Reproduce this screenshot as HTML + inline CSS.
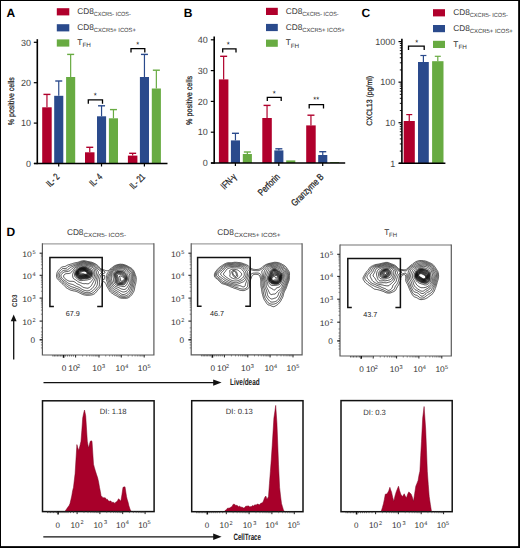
<!DOCTYPE html><html><head><meta charset="utf-8"><style>html,body{margin:0;padding:0;background:#fff}svg{display:block}text{font-family:"Liberation Sans",sans-serif;text-rendering:geometricPrecision}</style></head><body>
<svg width="520" height="548" viewBox="0 0 520 548">
<rect width="520" height="548" fill="#fff"/>
<rect x="0.5" y="0.5" width="518.5" height="546.5" fill="none" stroke="#000" stroke-width="1"/>
<line x1="519.15" y1="0" x2="519.15" y2="548" stroke="#000" stroke-width="1.7"/>
<line x1="0" y1="547.15" x2="520" y2="547.15" stroke="#000" stroke-width="1.7"/>
<text x="6.60" y="17.00" font-size="12" text-anchor="start" fill="#000" font-weight="bold" >A</text>
<text x="183.80" y="17.00" font-size="12" text-anchor="start" fill="#000" font-weight="bold" >B</text>
<text x="361.50" y="17.00" font-size="12" text-anchor="start" fill="#000" font-weight="bold" >C</text>
<text x="6.60" y="236.00" font-size="12" text-anchor="start" fill="#000" font-weight="bold" >D</text>
<rect x="56.80" y="8.20" width="12.50" height="7.20" fill="#b0002c"/>
<text x="77.30" y="13.50" font-size="8.3" fill="#333">CD8</text>
<text x="93.80" y="15.90" font-size="6.0" fill="#333" textLength="37" lengthAdjust="spacingAndGlyphs">CXCR5- ICOS-</text>
<rect x="56.80" y="24.20" width="12.50" height="7.20" fill="#2a4a8c"/>
<text x="77.30" y="29.50" font-size="8.3" fill="#333">CD8</text>
<text x="93.80" y="31.90" font-size="6.0" fill="#333" textLength="42" lengthAdjust="spacingAndGlyphs">CXCR5+ ICOS+</text>
<rect x="56.80" y="39.40" width="12.50" height="7.20" fill="#68ab42"/>
<text x="77.30" y="44.70" font-size="8.3" fill="#333">T<tspan font-size="6.3" dy="2.5">FH</tspan></text>
<rect x="42.20" y="107.30" width="9.50" height="56.20" fill="#b0002c"/>
<line x1="46.95" y1="94.40" x2="46.95" y2="107.30" stroke="#b0002c" stroke-width="1.2"/>
<line x1="43.45" y1="94.40" x2="50.45" y2="94.40" stroke="#b0002c" stroke-width="1.4"/>
<rect x="54.20" y="95.80" width="9.10" height="67.70" fill="#2a4a8c"/>
<line x1="58.75" y1="81.00" x2="58.75" y2="95.80" stroke="#2a4a8c" stroke-width="1.2"/>
<line x1="55.25" y1="81.00" x2="62.25" y2="81.00" stroke="#2a4a8c" stroke-width="1.4"/>
<rect x="66.10" y="77.00" width="9.10" height="86.50" fill="#68ab42"/>
<line x1="70.65" y1="54.40" x2="70.65" y2="77.00" stroke="#68ab42" stroke-width="1.2"/>
<line x1="67.15" y1="54.40" x2="74.15" y2="54.40" stroke="#68ab42" stroke-width="1.4"/>
<rect x="85.00" y="152.30" width="9.50" height="11.20" fill="#b0002c"/>
<line x1="89.75" y1="147.30" x2="89.75" y2="152.30" stroke="#b0002c" stroke-width="1.2"/>
<line x1="86.25" y1="147.30" x2="93.25" y2="147.30" stroke="#b0002c" stroke-width="1.4"/>
<rect x="97.00" y="116.30" width="9.10" height="47.20" fill="#2a4a8c"/>
<line x1="101.55" y1="105.80" x2="101.55" y2="116.30" stroke="#2a4a8c" stroke-width="1.2"/>
<line x1="98.05" y1="105.80" x2="105.05" y2="105.80" stroke="#2a4a8c" stroke-width="1.4"/>
<rect x="108.90" y="118.30" width="9.10" height="45.20" fill="#68ab42"/>
<line x1="113.45" y1="109.60" x2="113.45" y2="118.30" stroke="#68ab42" stroke-width="1.2"/>
<line x1="109.95" y1="109.60" x2="116.95" y2="109.60" stroke="#68ab42" stroke-width="1.4"/>
<rect x="127.90" y="155.60" width="9.50" height="7.90" fill="#b0002c"/>
<line x1="132.65" y1="153.30" x2="132.65" y2="155.60" stroke="#b0002c" stroke-width="1.2"/>
<line x1="129.15" y1="153.30" x2="136.15" y2="153.30" stroke="#b0002c" stroke-width="1.4"/>
<rect x="139.90" y="77.00" width="9.10" height="86.50" fill="#2a4a8c"/>
<line x1="144.45" y1="54.40" x2="144.45" y2="77.00" stroke="#2a4a8c" stroke-width="1.2"/>
<line x1="140.95" y1="54.40" x2="147.95" y2="54.40" stroke="#2a4a8c" stroke-width="1.4"/>
<rect x="151.80" y="88.50" width="9.10" height="75.00" fill="#68ab42"/>
<line x1="156.35" y1="70.20" x2="156.35" y2="88.50" stroke="#68ab42" stroke-width="1.2"/>
<line x1="152.85" y1="70.20" x2="159.85" y2="70.20" stroke="#68ab42" stroke-width="1.4"/>
<line x1="37.30" y1="39.20" x2="37.30" y2="164.20" stroke="#000" stroke-width="1.6"/>
<line x1="34.00" y1="163.50" x2="167.50" y2="163.50" stroke="#000" stroke-width="1.6"/>
<line x1="33.80" y1="42.30" x2="37.30" y2="42.30" stroke="#000" stroke-width="1.2"/>
<text x="31.10" y="45.50" font-size="9" text-anchor="end" fill="#444" font-weight="normal" >30</text>
<line x1="33.80" y1="82.70" x2="37.30" y2="82.70" stroke="#000" stroke-width="1.2"/>
<text x="31.10" y="85.90" font-size="9" text-anchor="end" fill="#444" font-weight="normal" >20</text>
<line x1="33.80" y1="123.10" x2="37.30" y2="123.10" stroke="#000" stroke-width="1.2"/>
<text x="31.10" y="126.30" font-size="9" text-anchor="end" fill="#444" font-weight="normal" >10</text>
<line x1="33.80" y1="163.50" x2="37.30" y2="163.50" stroke="#000" stroke-width="1.2"/>
<text x="31.10" y="166.70" font-size="9" text-anchor="end" fill="#444" font-weight="normal" >0</text>
<line x1="58.70" y1="163.50" x2="58.70" y2="166.50" stroke="#000" stroke-width="1.2"/>
<line x1="101.50" y1="163.50" x2="101.50" y2="166.50" stroke="#000" stroke-width="1.2"/>
<line x1="144.40" y1="163.50" x2="144.40" y2="166.50" stroke="#000" stroke-width="1.2"/>
<text transform="translate(60.10,177.50) rotate(-45)" text-anchor="end" font-size="9.6" fill="#222" stroke="#222" stroke-width="0.25" textLength="14.2" lengthAdjust="spacingAndGlyphs">IL- 2</text>
<text transform="translate(102.90,177.50) rotate(-45)" text-anchor="end" font-size="9.6" fill="#222" stroke="#222" stroke-width="0.25" textLength="13.6" lengthAdjust="spacingAndGlyphs">IL- 4</text>
<text transform="translate(145.80,177.50) rotate(-45)" text-anchor="end" font-size="9.6" fill="#222" stroke="#222" stroke-width="0.25" textLength="17.4" lengthAdjust="spacingAndGlyphs">IL- 21</text>
<text transform="translate(13.60,101.20) rotate(-90)" text-anchor="middle" font-size="8.3" fill="#222" stroke="#222" stroke-width="0.25" textLength="48" lengthAdjust="spacingAndGlyphs">% positive cells</text>
<path d="M88.30,103.80 L88.30,99.90 L102.50,99.90 L102.50,103.80" fill="none" stroke="#000" stroke-width="1.3"/>
<text x="95.30" y="98.30" font-size="7.6" text-anchor="middle" fill="#000" font-weight="normal" >*</text>
<path d="M131.00,52.40 L131.00,48.60 L144.80,48.60 L144.80,52.40" fill="none" stroke="#000" stroke-width="1.3"/>
<text x="137.80" y="47.00" font-size="7.6" text-anchor="middle" fill="#000" font-weight="normal" >*</text>
<rect x="266.00" y="7.80" width="11.80" height="7.20" fill="#b0002c"/>
<text x="285.70" y="13.50" font-size="8.3" fill="#333">CD8</text>
<text x="302.20" y="15.90" font-size="6.0" fill="#333" textLength="36.3" lengthAdjust="spacingAndGlyphs">CXCR5- ICOS-</text>
<rect x="266.00" y="23.90" width="11.80" height="7.20" fill="#2a4a8c"/>
<text x="285.70" y="29.60" font-size="8.3" fill="#333">CD8</text>
<text x="302.20" y="32.00" font-size="6.0" fill="#333" textLength="42.6" lengthAdjust="spacingAndGlyphs">CXCR5+ ICOS+</text>
<rect x="266.00" y="39.60" width="11.80" height="7.20" fill="#68ab42"/>
<text x="285.70" y="45.30" font-size="8.3" fill="#333">T<tspan font-size="6.3" dy="2.5">FH</tspan></text>
<rect x="218.90" y="79.40" width="9.50" height="83.60" fill="#b0002c"/>
<line x1="223.65" y1="56.30" x2="223.65" y2="79.40" stroke="#b0002c" stroke-width="1.2"/>
<line x1="220.15" y1="56.30" x2="227.15" y2="56.30" stroke="#b0002c" stroke-width="1.4"/>
<rect x="230.90" y="140.40" width="9.10" height="22.60" fill="#2a4a8c"/>
<line x1="235.45" y1="133.30" x2="235.45" y2="140.40" stroke="#2a4a8c" stroke-width="1.2"/>
<line x1="231.95" y1="133.30" x2="238.95" y2="133.30" stroke="#2a4a8c" stroke-width="1.4"/>
<rect x="242.80" y="154.00" width="9.10" height="9.00" fill="#68ab42"/>
<line x1="247.35" y1="152.00" x2="247.35" y2="154.00" stroke="#68ab42" stroke-width="1.2"/>
<line x1="243.85" y1="152.00" x2="250.85" y2="152.00" stroke="#68ab42" stroke-width="1.4"/>
<rect x="262.30" y="118.00" width="9.50" height="45.00" fill="#b0002c"/>
<line x1="267.05" y1="105.40" x2="267.05" y2="118.00" stroke="#b0002c" stroke-width="1.2"/>
<line x1="263.55" y1="105.40" x2="270.55" y2="105.40" stroke="#b0002c" stroke-width="1.4"/>
<rect x="274.30" y="150.40" width="9.10" height="12.60" fill="#2a4a8c"/>
<line x1="278.85" y1="148.80" x2="278.85" y2="150.40" stroke="#2a4a8c" stroke-width="1.2"/>
<line x1="275.35" y1="148.80" x2="282.35" y2="148.80" stroke="#2a4a8c" stroke-width="1.4"/>
<rect x="286.20" y="160.40" width="9.10" height="2.60" fill="#68ab42"/>
<rect x="306.20" y="125.40" width="9.50" height="37.60" fill="#b0002c"/>
<line x1="310.95" y1="115.20" x2="310.95" y2="125.40" stroke="#b0002c" stroke-width="1.2"/>
<line x1="307.45" y1="115.20" x2="314.45" y2="115.20" stroke="#b0002c" stroke-width="1.4"/>
<rect x="318.20" y="155.00" width="9.10" height="8.00" fill="#2a4a8c"/>
<line x1="322.75" y1="151.70" x2="322.75" y2="155.00" stroke="#2a4a8c" stroke-width="1.2"/>
<line x1="319.25" y1="151.70" x2="326.25" y2="151.70" stroke="#2a4a8c" stroke-width="1.4"/>
<rect x="330.10" y="162.00" width="9.10" height="1.00" fill="#68ab42"/>
<line x1="214.20" y1="36.50" x2="214.20" y2="163.70" stroke="#000" stroke-width="1.6"/>
<line x1="211.00" y1="163.00" x2="345.20" y2="163.00" stroke="#000" stroke-width="1.6"/>
<line x1="210.80" y1="39.80" x2="214.20" y2="39.80" stroke="#000" stroke-width="1.2"/>
<text x="207.70" y="43.00" font-size="9" text-anchor="end" fill="#444" font-weight="normal" >40</text>
<line x1="210.80" y1="70.60" x2="214.20" y2="70.60" stroke="#000" stroke-width="1.2"/>
<text x="207.70" y="73.80" font-size="9" text-anchor="end" fill="#444" font-weight="normal" >30</text>
<line x1="210.80" y1="101.40" x2="214.20" y2="101.40" stroke="#000" stroke-width="1.2"/>
<text x="207.70" y="104.60" font-size="9" text-anchor="end" fill="#444" font-weight="normal" >20</text>
<line x1="210.80" y1="132.20" x2="214.20" y2="132.20" stroke="#000" stroke-width="1.2"/>
<text x="207.70" y="135.40" font-size="9" text-anchor="end" fill="#444" font-weight="normal" >10</text>
<line x1="210.80" y1="163.00" x2="214.20" y2="163.00" stroke="#000" stroke-width="1.2"/>
<text x="207.70" y="166.20" font-size="9" text-anchor="end" fill="#444" font-weight="normal" >0</text>
<line x1="235.40" y1="163.00" x2="235.40" y2="166.00" stroke="#000" stroke-width="1.2"/>
<line x1="278.80" y1="163.00" x2="278.80" y2="166.00" stroke="#000" stroke-width="1.2"/>
<line x1="322.70" y1="163.00" x2="322.70" y2="166.00" stroke="#000" stroke-width="1.2"/>
<text transform="translate(237.10,177.50) rotate(-45)" text-anchor="end" font-size="9.6" fill="#222" stroke="#222" stroke-width="0.25" textLength="17.7" lengthAdjust="spacingAndGlyphs">IFN-γ</text>
<text transform="translate(280.50,177.50) rotate(-45)" text-anchor="end" font-size="9.6" fill="#222" stroke="#222" stroke-width="0.25" textLength="26.5" lengthAdjust="spacingAndGlyphs">Perforin</text>
<text transform="translate(324.40,177.50) rotate(-45)" text-anchor="end" font-size="9.6" fill="#222" stroke="#222" stroke-width="0.25" textLength="41.5" lengthAdjust="spacingAndGlyphs">Granzyme B</text>
<text transform="translate(192.20,100.40) rotate(-90)" text-anchor="middle" font-size="8.3" fill="#222" stroke="#222" stroke-width="0.25" textLength="49" lengthAdjust="spacingAndGlyphs">% positive cells</text>
<path d="M222.70,52.60 L222.70,48.80 L236.00,48.80 L236.00,52.60" fill="none" stroke="#000" stroke-width="1.3"/>
<text x="228.30" y="47.30" font-size="7.6" text-anchor="middle" fill="#000" font-weight="normal" >*</text>
<path d="M267.30,100.90 L267.30,97.30 L281.20,97.30 L281.20,100.90" fill="none" stroke="#000" stroke-width="1.3"/>
<text x="274.30" y="95.80" font-size="7.6" text-anchor="middle" fill="#000" font-weight="normal" >*</text>
<path d="M309.20,108.60 L309.20,104.70 L323.50,104.70 L323.50,108.60" fill="none" stroke="#000" stroke-width="1.3"/>
<text x="316.30" y="102.30" font-size="7.6" text-anchor="middle" fill="#000" font-weight="normal" >**</text>
<rect x="433.00" y="9.20" width="12.00" height="7.20" fill="#b0002c"/>
<text x="453.30" y="15.00" font-size="8.3" fill="#333">CD8</text>
<text x="469.80" y="17.40" font-size="6.0" fill="#333" textLength="38" lengthAdjust="spacingAndGlyphs">CXCR5- ICOS-</text>
<rect x="433.00" y="25.00" width="12.00" height="7.20" fill="#2a4a8c"/>
<text x="453.30" y="30.80" font-size="8.3" fill="#333">CD8</text>
<text x="469.80" y="33.20" font-size="6.0" fill="#333" textLength="43" lengthAdjust="spacingAndGlyphs">CXCR5+ ICOS+</text>
<rect x="433.00" y="40.80" width="12.00" height="7.20" fill="#68ab42"/>
<text x="453.30" y="46.60" font-size="8.3" fill="#333">T<tspan font-size="6.3" dy="2.5">FH</tspan></text>
<rect x="403.70" y="121.00" width="11.10" height="42.30" fill="#b0002c"/>
<line x1="409.25" y1="114.60" x2="409.25" y2="121.00" stroke="#b0002c" stroke-width="1.2"/>
<line x1="406.25" y1="114.60" x2="412.25" y2="114.60" stroke="#b0002c" stroke-width="1.2"/>
<rect x="418.00" y="62.00" width="10.80" height="101.30" fill="#2a4a8c"/>
<line x1="423.40" y1="55.50" x2="423.40" y2="62.00" stroke="#2a4a8c" stroke-width="1.2"/>
<line x1="420.40" y1="55.50" x2="426.40" y2="55.50" stroke="#2a4a8c" stroke-width="1.2"/>
<rect x="432.10" y="61.20" width="11.40" height="102.10" fill="#68ab42"/>
<line x1="437.80" y1="56.30" x2="437.80" y2="61.20" stroke="#68ab42" stroke-width="1.2"/>
<line x1="434.80" y1="56.30" x2="440.80" y2="56.30" stroke="#68ab42" stroke-width="1.2"/>
<line x1="401.90" y1="38.70" x2="401.90" y2="164.00" stroke="#000" stroke-width="1.6"/>
<line x1="398.80" y1="163.30" x2="445.40" y2="163.30" stroke="#000" stroke-width="1.6"/>
<line x1="399.80" y1="151.09" x2="401.90" y2="151.09" stroke="#000" stroke-width="0.9"/>
<line x1="399.80" y1="143.94" x2="401.90" y2="143.94" stroke="#000" stroke-width="0.9"/>
<line x1="399.80" y1="138.87" x2="401.90" y2="138.87" stroke="#000" stroke-width="0.9"/>
<line x1="399.80" y1="134.94" x2="401.90" y2="134.94" stroke="#000" stroke-width="0.9"/>
<line x1="399.80" y1="131.73" x2="401.90" y2="131.73" stroke="#000" stroke-width="0.9"/>
<line x1="399.80" y1="129.01" x2="401.90" y2="129.01" stroke="#000" stroke-width="0.9"/>
<line x1="399.80" y1="126.66" x2="401.90" y2="126.66" stroke="#000" stroke-width="0.9"/>
<line x1="399.80" y1="124.59" x2="401.90" y2="124.59" stroke="#000" stroke-width="0.9"/>
<line x1="399.80" y1="110.52" x2="401.90" y2="110.52" stroke="#000" stroke-width="0.9"/>
<line x1="399.80" y1="103.37" x2="401.90" y2="103.37" stroke="#000" stroke-width="0.9"/>
<line x1="399.80" y1="98.30" x2="401.90" y2="98.30" stroke="#000" stroke-width="0.9"/>
<line x1="399.80" y1="94.37" x2="401.90" y2="94.37" stroke="#000" stroke-width="0.9"/>
<line x1="399.80" y1="91.16" x2="401.90" y2="91.16" stroke="#000" stroke-width="0.9"/>
<line x1="399.80" y1="88.44" x2="401.90" y2="88.44" stroke="#000" stroke-width="0.9"/>
<line x1="399.80" y1="86.09" x2="401.90" y2="86.09" stroke="#000" stroke-width="0.9"/>
<line x1="399.80" y1="84.02" x2="401.90" y2="84.02" stroke="#000" stroke-width="0.9"/>
<line x1="399.80" y1="69.95" x2="401.90" y2="69.95" stroke="#000" stroke-width="0.9"/>
<line x1="399.80" y1="62.80" x2="401.90" y2="62.80" stroke="#000" stroke-width="0.9"/>
<line x1="399.80" y1="57.73" x2="401.90" y2="57.73" stroke="#000" stroke-width="0.9"/>
<line x1="399.80" y1="53.80" x2="401.90" y2="53.80" stroke="#000" stroke-width="0.9"/>
<line x1="399.80" y1="50.59" x2="401.90" y2="50.59" stroke="#000" stroke-width="0.9"/>
<line x1="399.80" y1="47.87" x2="401.90" y2="47.87" stroke="#000" stroke-width="0.9"/>
<line x1="399.80" y1="45.52" x2="401.90" y2="45.52" stroke="#000" stroke-width="0.9"/>
<line x1="399.80" y1="43.45" x2="401.90" y2="43.45" stroke="#000" stroke-width="0.9"/>
<line x1="398.50" y1="41.59" x2="401.90" y2="41.59" stroke="#000" stroke-width="1.2"/>
<text x="395.20" y="44.79" font-size="9" text-anchor="end" fill="#444" font-weight="normal" >1000</text>
<line x1="398.50" y1="82.16" x2="401.90" y2="82.16" stroke="#000" stroke-width="1.2"/>
<text x="395.20" y="85.36" font-size="9" text-anchor="end" fill="#444" font-weight="normal" >100</text>
<line x1="398.50" y1="122.73" x2="401.90" y2="122.73" stroke="#000" stroke-width="1.2"/>
<text x="395.20" y="125.93" font-size="9" text-anchor="end" fill="#444" font-weight="normal" >10</text>
<line x1="398.50" y1="163.30" x2="401.90" y2="163.30" stroke="#000" stroke-width="1.2"/>
<text x="395.20" y="166.50" font-size="9" text-anchor="end" fill="#444" font-weight="normal" >1</text>
<text transform="translate(372.00,100.80) rotate(-90)" text-anchor="middle" font-size="7.8" fill="#222" stroke="#222" stroke-width="0.25" textLength="50" lengthAdjust="spacingAndGlyphs">CXCL13 (pg/ml)</text>
<path d="M408.50,50.10 L408.50,46.10 L424.20,46.10 L424.20,50.10" fill="none" stroke="#000" stroke-width="1.3"/>
<text x="416.80" y="45.30" font-size="7.6" text-anchor="middle" fill="#000" font-weight="normal" >*</text>
<path d="M42.40,243.90 L153.90,243.90" stroke="#a0a0a0" stroke-width="1.3" fill="none"/>
<path d="M153.90,243.30 L153.90,355.00 L42.40,355.00 L42.40,243.30" stroke="#5a5a5a" stroke-width="1.2" fill="none"/>
<line x1="39.60" y1="253.20" x2="42.40" y2="253.20" stroke="#222" stroke-width="1.1"/>
<text x="22.20" y="256.80" font-size="8" fill="#333" textLength="9.6" lengthAdjust="spacingAndGlyphs">10</text>
<text x="32.50" y="253.80" font-size="5.6" fill="#333">5</text>
<line x1="39.60" y1="275.30" x2="42.40" y2="275.30" stroke="#222" stroke-width="1.1"/>
<text x="22.20" y="278.90" font-size="8" fill="#333" textLength="9.6" lengthAdjust="spacingAndGlyphs">10</text>
<text x="32.50" y="275.90" font-size="5.6" fill="#333">4</text>
<line x1="39.60" y1="298.10" x2="42.40" y2="298.10" stroke="#222" stroke-width="1.1"/>
<text x="22.20" y="301.70" font-size="8" fill="#333" textLength="9.6" lengthAdjust="spacingAndGlyphs">10</text>
<text x="32.50" y="298.70" font-size="5.6" fill="#333">3</text>
<line x1="39.60" y1="321.10" x2="42.40" y2="321.10" stroke="#222" stroke-width="1.1"/>
<text x="22.20" y="324.70" font-size="8" fill="#333" textLength="9.6" lengthAdjust="spacingAndGlyphs">10</text>
<text x="32.50" y="321.70" font-size="5.6" fill="#333">2</text>
<line x1="40.90" y1="268.65" x2="42.40" y2="268.65" stroke="#555" stroke-width="0.7"/>
<line x1="40.90" y1="264.76" x2="42.40" y2="264.76" stroke="#555" stroke-width="0.7"/>
<line x1="40.90" y1="261.99" x2="42.40" y2="261.99" stroke="#555" stroke-width="0.7"/>
<line x1="40.90" y1="259.85" x2="42.40" y2="259.85" stroke="#555" stroke-width="0.7"/>
<line x1="40.90" y1="258.10" x2="42.40" y2="258.10" stroke="#555" stroke-width="0.7"/>
<line x1="40.90" y1="256.62" x2="42.40" y2="256.62" stroke="#555" stroke-width="0.7"/>
<line x1="40.90" y1="255.34" x2="42.40" y2="255.34" stroke="#555" stroke-width="0.7"/>
<line x1="40.90" y1="254.21" x2="42.40" y2="254.21" stroke="#555" stroke-width="0.7"/>
<line x1="40.90" y1="291.24" x2="42.40" y2="291.24" stroke="#555" stroke-width="0.7"/>
<line x1="40.90" y1="287.22" x2="42.40" y2="287.22" stroke="#555" stroke-width="0.7"/>
<line x1="40.90" y1="284.37" x2="42.40" y2="284.37" stroke="#555" stroke-width="0.7"/>
<line x1="40.90" y1="282.16" x2="42.40" y2="282.16" stroke="#555" stroke-width="0.7"/>
<line x1="40.90" y1="280.36" x2="42.40" y2="280.36" stroke="#555" stroke-width="0.7"/>
<line x1="40.90" y1="278.83" x2="42.40" y2="278.83" stroke="#555" stroke-width="0.7"/>
<line x1="40.90" y1="277.51" x2="42.40" y2="277.51" stroke="#555" stroke-width="0.7"/>
<line x1="40.90" y1="276.34" x2="42.40" y2="276.34" stroke="#555" stroke-width="0.7"/>
<line x1="40.90" y1="314.18" x2="42.40" y2="314.18" stroke="#555" stroke-width="0.7"/>
<line x1="40.90" y1="310.13" x2="42.40" y2="310.13" stroke="#555" stroke-width="0.7"/>
<line x1="40.90" y1="307.25" x2="42.40" y2="307.25" stroke="#555" stroke-width="0.7"/>
<line x1="40.90" y1="305.02" x2="42.40" y2="305.02" stroke="#555" stroke-width="0.7"/>
<line x1="40.90" y1="303.20" x2="42.40" y2="303.20" stroke="#555" stroke-width="0.7"/>
<line x1="40.90" y1="301.66" x2="42.40" y2="301.66" stroke="#555" stroke-width="0.7"/>
<line x1="40.90" y1="300.33" x2="42.40" y2="300.33" stroke="#555" stroke-width="0.7"/>
<line x1="40.90" y1="299.15" x2="42.40" y2="299.15" stroke="#555" stroke-width="0.7"/>
<line x1="39.60" y1="339.80" x2="42.40" y2="339.80" stroke="#222" stroke-width="1.4"/>
<text x="30.60" y="342.70" font-size="8.2" fill="#333">0</text>
<line x1="40.90" y1="327.90" x2="42.40" y2="327.90" stroke="#555" stroke-width="0.7"/>
<line x1="40.90" y1="331.90" x2="42.40" y2="331.90" stroke="#555" stroke-width="0.7"/>
<line x1="40.90" y1="334.90" x2="42.40" y2="334.90" stroke="#555" stroke-width="0.7"/>
<line x1="40.90" y1="337.40" x2="42.40" y2="337.40" stroke="#555" stroke-width="0.7"/>
<line x1="40.90" y1="342.40" x2="42.40" y2="342.40" stroke="#555" stroke-width="0.7"/>
<line x1="40.90" y1="344.90" x2="42.40" y2="344.90" stroke="#555" stroke-width="0.7"/>
<line x1="40.90" y1="347.90" x2="42.40" y2="347.90" stroke="#555" stroke-width="0.7"/>
<line x1="75.60" y1="355.00" x2="75.60" y2="357.50" stroke="#222" stroke-width="1.0"/>
<line x1="99.00" y1="355.00" x2="99.00" y2="357.50" stroke="#222" stroke-width="1.0"/>
<line x1="121.30" y1="355.00" x2="121.30" y2="357.50" stroke="#222" stroke-width="1.0"/>
<line x1="144.20" y1="355.00" x2="144.20" y2="357.50" stroke="#222" stroke-width="1.0"/>
<line x1="82.64" y1="355.00" x2="82.64" y2="356.50" stroke="#555" stroke-width="0.7"/>
<line x1="86.76" y1="355.00" x2="86.76" y2="356.50" stroke="#555" stroke-width="0.7"/>
<line x1="89.69" y1="355.00" x2="89.69" y2="356.50" stroke="#555" stroke-width="0.7"/>
<line x1="91.96" y1="355.00" x2="91.96" y2="356.50" stroke="#555" stroke-width="0.7"/>
<line x1="93.81" y1="355.00" x2="93.81" y2="356.50" stroke="#555" stroke-width="0.7"/>
<line x1="95.38" y1="355.00" x2="95.38" y2="356.50" stroke="#555" stroke-width="0.7"/>
<line x1="96.73" y1="355.00" x2="96.73" y2="356.50" stroke="#555" stroke-width="0.7"/>
<line x1="97.93" y1="355.00" x2="97.93" y2="356.50" stroke="#555" stroke-width="0.7"/>
<line x1="105.71" y1="355.00" x2="105.71" y2="356.50" stroke="#555" stroke-width="0.7"/>
<line x1="109.64" y1="355.00" x2="109.64" y2="356.50" stroke="#555" stroke-width="0.7"/>
<line x1="112.43" y1="355.00" x2="112.43" y2="356.50" stroke="#555" stroke-width="0.7"/>
<line x1="114.59" y1="355.00" x2="114.59" y2="356.50" stroke="#555" stroke-width="0.7"/>
<line x1="116.35" y1="355.00" x2="116.35" y2="356.50" stroke="#555" stroke-width="0.7"/>
<line x1="117.85" y1="355.00" x2="117.85" y2="356.50" stroke="#555" stroke-width="0.7"/>
<line x1="119.14" y1="355.00" x2="119.14" y2="356.50" stroke="#555" stroke-width="0.7"/>
<line x1="120.28" y1="355.00" x2="120.28" y2="356.50" stroke="#555" stroke-width="0.7"/>
<line x1="128.19" y1="355.00" x2="128.19" y2="356.50" stroke="#555" stroke-width="0.7"/>
<line x1="132.23" y1="355.00" x2="132.23" y2="356.50" stroke="#555" stroke-width="0.7"/>
<line x1="135.09" y1="355.00" x2="135.09" y2="356.50" stroke="#555" stroke-width="0.7"/>
<line x1="137.31" y1="355.00" x2="137.31" y2="356.50" stroke="#555" stroke-width="0.7"/>
<line x1="139.12" y1="355.00" x2="139.12" y2="356.50" stroke="#555" stroke-width="0.7"/>
<line x1="140.65" y1="355.00" x2="140.65" y2="356.50" stroke="#555" stroke-width="0.7"/>
<line x1="141.98" y1="355.00" x2="141.98" y2="356.50" stroke="#555" stroke-width="0.7"/>
<line x1="143.15" y1="355.00" x2="143.15" y2="356.50" stroke="#555" stroke-width="0.7"/>
<line x1="63.60" y1="355.00" x2="63.60" y2="357.80" stroke="#111" stroke-width="1.6"/>
<line x1="52.90" y1="355.00" x2="52.90" y2="356.50" stroke="#444" stroke-width="0.8"/>
<line x1="54.40" y1="355.00" x2="54.40" y2="356.50" stroke="#444" stroke-width="0.8"/>
<line x1="55.90" y1="355.00" x2="55.90" y2="356.50" stroke="#444" stroke-width="0.8"/>
<line x1="57.40" y1="355.00" x2="57.40" y2="356.50" stroke="#444" stroke-width="0.8"/>
<line x1="58.90" y1="355.00" x2="58.90" y2="356.50" stroke="#444" stroke-width="0.8"/>
<line x1="60.40" y1="355.00" x2="60.40" y2="356.50" stroke="#444" stroke-width="0.8"/>
<line x1="61.90" y1="355.00" x2="61.90" y2="356.50" stroke="#444" stroke-width="0.8"/>
<line x1="65.40" y1="355.00" x2="65.40" y2="356.50" stroke="#444" stroke-width="0.8"/>
<line x1="67.40" y1="355.00" x2="67.40" y2="356.50" stroke="#444" stroke-width="0.8"/>
<line x1="69.40" y1="355.00" x2="69.40" y2="356.50" stroke="#444" stroke-width="0.8"/>
<line x1="71.40" y1="355.00" x2="71.40" y2="356.50" stroke="#444" stroke-width="0.8"/>
<line x1="73.40" y1="355.00" x2="73.40" y2="356.50" stroke="#444" stroke-width="0.8"/>
<text x="61.70" y="371.20" font-size="8.2" fill="#333">0</text>
<text x="68.30" y="371.20" font-size="8.2" fill="#333" textLength="9.4" lengthAdjust="spacingAndGlyphs">10</text>
<text x="77.10" y="367.70" font-size="5.6" fill="#333">2</text>
<text x="92.20" y="371.20" font-size="8.2" fill="#333" textLength="9.4" lengthAdjust="spacingAndGlyphs">10</text>
<text x="101.90" y="367.70" font-size="5.6" fill="#333">3</text>
<text x="115.60" y="371.20" font-size="8.2" fill="#333" textLength="9.4" lengthAdjust="spacingAndGlyphs">10</text>
<text x="125.20" y="367.70" font-size="5.6" fill="#333">4</text>
<text x="137.80" y="371.20" font-size="8.2" fill="#333" textLength="9.4" lengthAdjust="spacingAndGlyphs">10</text>
<text x="147.40" y="367.70" font-size="5.6" fill="#333">5</text>
<text x="66.9" y="235.1" font-size="8.3" fill="#333">CD8</text><text x="83.6" y="237.4" font-size="6.0" fill="#333" textLength="42.4" lengthAdjust="spacingAndGlyphs">CXCR5- ICOS-</text>
<path d="M53.90,306.60 L49.90,306.60 L49.90,257.60 L102.20,257.60 L102.20,306.60 L97.20,306.60" fill="none" stroke="#111" stroke-width="1.5"/>
<text x="72.70" y="316.20" font-size="7.2" text-anchor="middle" fill="#222">67.9</text>
<path d="M86.4,274.2 85.7,274.3 84.9,274.2 84.4,274.1 83.8,273.9 83.2,273.7 82.4,273.7 81.7,273.7 80.9,273.8 80.4,273.4 80.4,272.9 80.7,272.5 81.2,272.2 81.7,271.9 82.2,271.7 82.7,271.5 83.2,271.3 83.9,271.2 84.7,271.2 85.2,271.4 85.7,271.6 86.2,271.9 86.6,272.4 86.9,272.8 87.1,273.4 86.9,273.9 86.4,274.2Z M86.4,274.7 85.7,274.7 85.0,274.6 84.4,274.5 83.7,274.4 83.2,274.4 82.6,274.4 81.9,274.5 81.2,274.6 80.4,274.5 79.9,274.2 79.6,273.9 79.5,273.1 79.7,272.5 79.9,272.1 80.4,271.7 80.9,271.5 81.4,271.3 81.9,271.1 82.6,270.9 83.2,270.8 83.9,270.7 84.7,270.8 85.2,271.0 85.7,271.2 86.2,271.5 86.7,271.9 86.9,272.1 87.3,272.6 87.6,273.1 87.5,273.9 87.2,274.4 86.7,274.6Z M81.4,275.2 80.7,275.2 80.2,275.0 79.7,274.8 79.3,274.4 79.0,273.9 78.9,273.1 79.1,272.4 79.4,271.9 79.7,271.6 80.2,271.3 80.7,271.0 81.2,270.8 81.7,270.6 82.4,270.5 82.9,270.4 83.7,270.3 84.4,270.4 84.9,270.5 85.4,270.7 85.9,271.0 86.4,271.3 86.9,271.6 87.2,271.9 87.6,272.4 87.9,272.9 88.1,273.4 88.0,274.1 87.7,274.6 87.2,274.9 86.7,275.0 85.9,275.1 85.2,275.1 84.4,275.0 83.7,274.9 83.3,274.9 82.7,275.0 81.9,275.1 81.4,275.2Z M81.2,275.7 80.7,275.6 79.9,275.5 79.4,275.2 79.1,274.9 78.8,274.4 78.6,273.9 78.5,273.1 78.6,272.4 78.9,271.9 79.2,271.5 79.6,271.1 79.9,270.9 80.4,270.6 81.1,270.4 81.7,270.2 82.2,270.1 82.9,270.0 83.7,270.0 84.4,270.0 84.9,270.1 85.5,270.4 86.0,270.6 86.4,270.9 86.9,271.3 87.3,271.6 87.7,272.0 88.0,272.4 88.3,272.9 88.5,273.4 88.5,274.1 88.2,274.6 87.9,275.0 87.4,275.2 86.8,275.4 86.2,275.5 85.4,275.5 84.7,275.4 84.2,275.4 83.4,275.4 82.9,275.4 82.2,275.5 81.4,275.6Z M82.4,275.9 81.7,276.1 80.9,276.1 80.2,276.0 79.7,275.8 79.2,275.5 78.8,275.1 78.4,274.6 78.2,274.1 78.1,273.6 78.1,272.9 78.2,272.4 78.4,271.9 78.8,271.4 79.2,271.0 79.6,270.6 80.1,270.4 80.7,270.2 81.2,270.0 81.7,269.9 82.4,269.7 82.9,269.6 83.7,269.6 84.2,269.6 84.9,269.8 85.4,270.0 85.9,270.2 86.4,270.5 86.9,270.9 87.2,271.1 87.7,271.5 88.1,271.9 88.4,272.3 88.7,272.6 88.9,273.2 89.0,273.9 88.9,274.4 88.6,274.9 88.2,275.3 87.7,275.5 87.2,275.7 86.4,275.8 85.7,275.8 84.9,275.8 84.2,275.8 83.4,275.8 82.7,275.9Z M82.2,276.4 81.4,276.5 80.7,276.5 80.1,276.4 79.5,276.1 79.1,275.9 78.7,275.5 78.3,275.1 78.0,274.6 77.8,274.1 77.7,273.4 77.8,272.6 77.9,272.1 78.2,271.6 78.5,271.1 78.9,270.8 79.4,270.4 79.8,270.1 80.3,269.9 80.9,269.7 81.4,269.6 82.2,269.4 82.7,269.3 83.4,269.3 84.2,269.3 84.7,269.4 85.4,269.6 85.9,269.9 86.4,270.1 86.7,270.4 87.2,270.7 87.7,271.1 88.0,271.4 88.4,271.8 88.8,272.1 89.1,272.6 89.4,273.1 89.5,273.6 89.4,274.4 89.2,274.9 88.9,275.3 88.4,275.6 87.9,275.9 87.4,276.0 86.7,276.1 86.2,276.2 85.4,276.2 84.7,276.2 83.9,276.2 83.2,276.2 82.4,276.4Z M122.2,280.9 121.4,281.1 120.8,280.9 120.5,280.4 120.5,279.6 120.4,278.9 120.3,278.4 120.1,277.9 119.9,277.4 119.6,276.9 119.5,276.1 120.2,275.9 120.9,276.1 121.4,276.3 121.9,276.6 122.4,276.8 122.9,277.1 123.4,277.4 123.7,277.6 124.1,278.1 124.3,278.6 124.2,279.4 123.9,279.8 123.5,280.1 123.2,280.4 122.7,280.7 122.2,280.9Z M81.4,276.9 80.7,276.9 80.2,276.9 79.6,276.6 79.1,276.4 78.7,276.0 78.3,275.6 77.9,275.2 77.7,274.7 77.5,274.1 77.4,273.6 77.4,273.0 77.5,272.4 77.7,271.9 78.0,271.4 78.3,270.9 78.7,270.6 79.2,270.2 79.6,269.9 80.1,269.6 80.7,269.4 81.2,269.3 81.7,269.1 82.4,269.0 83.2,269.0 83.9,269.0 84.7,269.1 85.2,269.2 85.7,269.4 86.2,269.6 86.7,269.9 87.2,270.3 87.6,270.6 88.0,270.9 88.4,271.3 88.9,271.6 89.2,272.0 89.5,272.4 89.8,272.9 89.9,273.4 89.9,274.1 89.8,274.6 89.6,275.1 89.2,275.6 88.8,275.9 88.2,276.1 87.7,276.3 87.2,276.4 86.4,276.5 85.7,276.6 84.9,276.6 84.2,276.6 83.4,276.6 82.9,276.7 82.2,276.8 81.6,276.9Z M120.9,282.2 120.4,282.1 119.7,281.9 119.4,281.6 119.1,281.1 119.1,280.4 119.1,279.6 118.9,278.9 118.8,278.4 118.5,277.9 118.2,277.4 117.9,276.9 117.7,276.4 117.5,275.9 117.5,275.1 117.7,274.6 118.2,274.3 118.9,274.2 119.7,274.3 120.2,274.4 120.9,274.6 121.4,274.9 121.7,275.1 122.2,275.4 122.7,275.8 123.1,276.1 123.4,276.4 123.9,276.8 124.2,277.1 124.6,277.6 124.9,278.1 125.0,278.6 124.9,279.3 124.7,279.8 124.4,280.1 123.9,280.6 123.6,280.9 123.2,281.3 122.7,281.6 122.2,281.9 121.7,282.1 121.1,282.1Z M82.7,277.2 81.9,277.3 81.2,277.4 80.4,277.3 79.7,277.1 79.2,276.9 78.8,276.6 78.4,276.3 78.0,275.9 77.7,275.4 77.4,275.0 77.2,274.4 77.1,273.9 77.0,273.1 77.2,272.5 77.3,271.9 77.6,271.4 77.9,271.0 78.2,270.6 78.7,270.2 79.0,269.9 79.4,269.6 79.9,269.4 80.5,269.1 81.2,268.9 81.7,268.8 82.4,268.7 83.1,268.6 83.7,268.6 84.2,268.7 84.9,268.8 85.4,268.9 86.0,269.1 86.5,269.4 86.9,269.7 87.4,270.0 87.9,270.4 88.3,270.6 88.7,270.9 89.2,271.3 89.5,271.6 89.9,272.1 90.2,272.6 90.3,273.1 90.4,273.7 90.4,274.1 90.2,274.9 90.0,275.4 89.7,275.8 89.2,276.1 88.7,276.4 88.2,276.6 87.7,276.7 86.9,276.9 86.4,276.9 85.7,277.0 84.9,277.0 84.2,277.0 83.4,277.1 82.7,277.1Z M121.9,282.7 121.2,282.8 120.4,282.8 119.7,282.7 119.2,282.6 118.7,282.3 118.3,281.9 118.2,281.3 118.1,280.6 118.1,279.9 118.0,279.1 117.8,278.6 117.6,278.1 117.4,277.6 117.1,277.1 116.9,276.6 116.7,275.9 116.6,275.4 116.6,274.6 116.8,274.1 117.2,273.7 117.7,273.4 118.2,273.3 118.9,273.3 119.7,273.4 120.2,273.5 120.7,273.6 121.4,273.9 121.8,274.1 122.2,274.4 122.7,274.7 123.1,275.1 123.4,275.4 123.9,275.9 124.2,276.1 124.6,276.6 124.9,277.0 125.2,277.4 125.4,278.1 125.5,278.6 125.4,279.4 125.2,279.9 124.9,280.3 124.6,280.6 124.2,281.1 123.9,281.4 123.4,281.9 123.1,282.1 122.7,282.4 122.0,282.6Z M82.2,277.7 81.4,277.8 80.7,277.8 79.9,277.7 79.4,277.5 78.9,277.2 78.5,276.9 78.2,276.6 77.7,276.1 77.4,275.7 77.2,275.3 76.9,274.8 76.7,274.1 76.7,273.4 76.8,272.6 76.9,272.1 77.2,271.6 77.4,271.1 77.8,270.6 78.2,270.2 78.5,269.9 78.9,269.6 79.4,269.3 79.9,269.0 80.4,268.8 80.9,268.6 81.7,268.5 82.2,268.4 82.9,268.3 83.7,268.3 84.4,268.3 84.9,268.4 85.7,268.6 86.2,268.8 86.7,269.0 87.2,269.4 87.6,269.6 87.9,269.9 88.4,270.2 88.9,270.6 89.3,270.9 89.7,271.1 90.1,271.6 90.4,272.0 90.7,272.6 90.8,273.1 90.9,273.9 90.8,274.6 90.6,275.1 90.4,275.6 90.0,276.1 89.6,276.4 89.1,276.6 88.5,276.9 87.9,277.1 87.4,277.2 86.7,277.3 85.9,277.4 85.2,277.4 84.7,277.4 83.9,277.4 83.2,277.5 82.4,277.6Z M122.2,283.2 121.4,283.3 120.7,283.3 119.9,283.3 119.2,283.2 118.7,283.1 118.2,282.8 117.7,282.4 117.5,281.9 117.3,281.4 117.3,280.6 117.2,279.9 117.2,279.3 117.0,278.6 116.8,278.1 116.6,277.6 116.4,277.1 116.2,276.4 116.0,275.9 115.9,275.4 115.9,274.6 116.0,274.1 116.3,273.6 116.7,273.3 117.2,273.0 117.7,272.8 118.4,272.7 118.8,272.6 119.4,272.7 120.2,272.8 120.7,272.9 121.4,273.1 121.9,273.3 122.4,273.6 122.9,273.9 123.2,274.1 123.7,274.6 124.0,274.9 124.4,275.4 124.7,275.7 125.0,276.1 125.3,276.6 125.6,277.1 125.8,277.6 125.9,278.1 126.0,278.9 125.9,279.4 125.7,280.0 125.4,280.4 125.0,280.9 124.7,281.4 124.4,281.6 123.9,282.1 123.7,282.4 123.2,282.8 122.7,283.1 122.2,283.2Z M81.9,278.2 81.2,278.3 80.4,278.3 79.9,278.1 79.3,277.9 78.9,277.6 78.4,277.3 77.9,276.9 77.7,276.6 77.2,276.1 76.9,275.7 76.7,275.2 76.4,274.6 76.3,274.1 76.3,273.4 76.4,272.7 76.6,272.1 76.8,271.6 77.0,271.1 77.4,270.6 77.7,270.3 78.1,269.9 78.4,269.6 78.9,269.3 79.4,269.0 79.9,268.7 80.4,268.5 80.9,268.3 81.6,268.1 82.2,268.1 82.9,268.0 83.7,268.0 84.4,268.0 85.2,268.1 85.7,268.2 86.3,268.4 86.8,268.6 87.2,268.9 87.7,269.2 88.2,269.5 88.7,269.8 89.1,270.1 89.5,270.4 89.9,270.7 90.4,271.1 90.7,271.4 90.9,271.9 91.2,272.5 91.3,273.1 91.3,273.9 91.2,274.6 91.1,275.1 90.9,275.7 90.6,276.1 90.2,276.6 89.7,276.9 89.2,277.1 88.7,277.3 88.2,277.4 87.4,277.6 86.9,277.7 86.2,277.8 85.4,277.8 84.7,277.9 84.0,277.9 83.4,278.0 82.7,278.1 82.1,278.1Z M122.7,283.7 121.9,283.8 121.2,283.8 120.4,283.8 119.7,283.8 118.9,283.7 118.4,283.6 117.9,283.4 117.4,283.0 117.0,282.6 116.8,282.1 116.6,281.6 116.5,280.9 116.5,280.1 116.4,279.5 116.3,278.9 116.2,278.3 115.9,277.6 115.8,277.1 115.6,276.6 115.4,276.0 115.3,275.4 115.3,274.6 115.4,274.1 115.7,273.6 116.0,273.1 116.4,272.8 116.9,272.5 117.4,272.3 118.1,272.1 118.7,272.1 119.4,272.1 120.0,272.1 120.7,272.2 121.4,272.4 121.9,272.5 122.4,272.8 122.9,273.0 123.4,273.3 123.8,273.6 124.2,274.0 124.6,274.4 124.9,274.8 125.2,275.2 125.4,275.6 125.7,276.1 125.9,276.6 126.2,277.3 126.3,277.9 126.4,278.4 126.4,279.1 126.3,279.6 126.1,280.1 125.8,280.6 125.5,281.1 125.2,281.6 124.9,281.9 124.5,282.4 124.2,282.8 123.8,283.1 123.4,283.4 122.8,283.6Z M81.9,278.7 81.2,278.8 80.4,278.8 79.8,278.6 79.2,278.4 78.8,278.1 78.4,277.9 77.9,277.4 77.6,277.1 77.2,276.7 76.9,276.4 76.5,275.9 76.3,275.4 76.1,274.9 75.9,274.1 75.9,273.4 76.0,272.6 76.2,272.1 76.4,271.6 76.7,271.1 77.0,270.6 77.4,270.1 77.7,269.9 78.2,269.4 78.5,269.1 78.9,268.9 79.4,268.6 79.9,268.3 80.4,268.1 81.1,267.9 81.7,267.8 82.4,267.7 82.9,267.6 83.7,267.6 84.4,267.6 84.9,267.7 85.7,267.8 86.2,267.9 86.8,268.1 87.3,268.4 87.7,268.6 88.2,268.9 88.7,269.2 89.2,269.5 89.7,269.8 90.2,270.1 90.5,270.4 90.9,270.7 91.2,271.1 91.4,271.6 91.7,272.4 91.7,272.9 91.8,273.6 91.7,274.4 91.7,274.9 91.4,275.6 91.2,276.1 90.9,276.6 90.5,276.9 90.2,277.2 89.7,277.4 89.0,277.6 88.4,277.8 87.9,278.0 87.2,278.1 86.7,278.2 85.9,278.3 85.2,278.3 84.4,278.4 83.9,278.4 83.2,278.5 82.4,278.6 81.9,278.7Z M123.4,284.2 122.7,284.3 121.9,284.3 121.2,284.3 120.4,284.3 119.7,284.3 118.9,284.2 118.4,284.1 117.7,283.9 117.2,283.6 116.9,283.4 116.4,282.9 116.2,282.4 115.9,281.9 115.8,281.4 115.7,280.6 115.7,279.9 115.6,279.4 115.5,278.6 115.4,278.0 115.2,277.4 115.1,276.9 114.9,276.4 114.7,275.6 114.7,274.9 114.8,274.1 115.1,273.6 115.4,273.2 115.7,272.9 116.2,272.5 116.7,272.2 117.2,271.9 117.7,271.8 118.2,271.6 118.9,271.6 119.7,271.6 120.4,271.6 120.9,271.7 121.7,271.8 122.2,272.0 122.7,272.1 123.2,272.4 123.7,272.7 124.2,273.0 124.6,273.4 124.9,273.7 125.3,274.1 125.6,274.6 125.9,275.1 126.1,275.6 126.3,276.1 126.5,276.6 126.7,277.2 126.8,277.9 126.9,278.6 126.9,279.1 126.8,279.6 126.7,280.3 126.4,280.8 126.1,281.1 125.8,281.6 125.4,282.1 125.2,282.6 124.9,282.9 124.5,283.4 124.2,283.8 123.7,284.1Z M82.4,279.2 81.7,279.3 80.9,279.4 80.2,279.3 79.6,279.1 79.1,278.9 78.7,278.6 78.2,278.2 77.7,277.9 77.4,277.6 76.9,277.1 76.7,276.9 76.3,276.4 76.0,275.9 75.7,275.4 75.6,274.9 75.5,274.1 75.5,273.4 75.7,272.7 75.8,272.1 76.0,271.6 76.3,271.1 76.6,270.6 76.9,270.2 77.2,269.9 77.7,269.4 78.0,269.1 78.4,268.9 78.9,268.5 79.4,268.2 79.9,268.0 80.4,267.8 80.9,267.6 81.7,267.4 82.2,267.3 82.9,267.3 83.7,267.2 84.4,267.3 85.2,267.3 85.8,267.4 86.4,267.5 86.9,267.7 87.4,267.9 87.9,268.2 88.4,268.5 88.9,268.8 89.4,269.0 89.9,269.3 90.4,269.5 90.9,269.9 91.2,270.1 91.6,270.6 91.9,271.1 92.0,271.6 92.2,272.2 92.2,272.9 92.3,273.6 92.2,274.4 92.1,274.9 91.9,275.6 91.7,276.1 91.5,276.6 91.2,277.0 90.7,277.4 90.3,277.6 89.8,277.9 89.2,278.1 88.7,278.3 88.2,278.4 87.4,278.6 86.9,278.7 86.2,278.8 85.4,278.9 84.9,278.9 84.2,278.9 83.4,279.0 82.7,279.1Z M123.4,284.9 122.7,285.0 121.9,284.9 121.4,284.9 120.7,284.8 119.9,284.8 119.2,284.7 118.5,284.6 117.9,284.5 117.4,284.4 116.9,284.1 116.4,283.8 116.0,283.4 115.7,282.9 115.4,282.4 115.2,281.9 115.0,281.4 114.9,280.6 114.9,280.1 114.9,279.4 114.8,278.6 114.7,277.9 114.6,277.4 114.4,276.8 114.2,276.1 114.1,275.6 114.1,274.9 114.2,274.4 114.4,273.9 114.7,273.4 115.1,272.9 115.4,272.5 115.9,272.1 116.3,271.9 116.8,271.6 117.4,271.4 117.9,271.2 118.4,271.1 119.2,271.1 119.9,271.0 120.7,271.1 121.2,271.1 121.9,271.3 122.4,271.4 123.1,271.6 123.6,271.9 124.0,272.1 124.4,272.4 124.9,272.9 125.2,273.1 125.7,273.6 125.9,273.9 126.2,274.4 126.5,274.9 126.7,275.4 126.9,276.0 127.1,276.6 127.2,277.1 127.3,277.9 127.4,278.6 127.4,279.1 127.4,279.6 127.2,280.4 127.0,280.9 126.7,281.4 126.4,281.9 126.2,282.2 125.9,282.6 125.6,283.1 125.3,283.6 124.9,284.1 124.7,284.4 124.2,284.7 123.6,284.9Z M83.2,280.4 82.4,280.5 81.7,280.6 80.9,280.6 80.2,280.5 79.6,280.4 79.1,280.1 78.7,279.9 78.2,279.5 77.7,279.1 77.3,278.9 76.9,278.5 76.4,278.1 76.1,277.9 75.7,277.4 75.4,277.1 75.0,276.6 74.8,276.1 74.6,275.6 74.5,274.9 74.5,274.1 74.6,273.4 74.7,272.9 74.9,272.3 75.2,271.7 75.4,271.2 75.7,270.7 75.9,270.3 76.2,269.9 76.7,269.4 76.9,269.1 77.4,268.8 77.9,268.4 78.2,268.1 78.7,267.9 79.2,267.6 79.7,267.3 80.2,267.1 80.7,266.9 81.4,266.7 81.9,266.6 82.7,266.5 83.4,266.5 84.2,266.4 84.9,266.5 85.7,266.5 86.4,266.6 86.9,266.8 87.4,266.9 88.0,267.1 88.6,267.4 89.2,267.6 89.7,267.9 90.2,268.1 90.7,268.3 91.2,268.5 91.7,268.8 92.0,269.1 92.4,269.6 92.7,270.0 92.9,270.6 93.1,271.1 93.2,271.6 93.3,272.4 93.3,273.1 93.2,273.9 93.2,274.6 93.1,275.1 92.9,275.9 92.7,276.4 92.5,276.9 92.2,277.4 91.9,277.8 91.6,278.1 91.2,278.5 90.7,278.8 90.2,279.1 89.7,279.3 89.2,279.5 88.5,279.6 87.9,279.8 87.3,279.9 86.7,280.0 85.9,280.1 85.4,280.2 84.7,280.3 83.9,280.3 83.4,280.4Z M124.7,286.5 123.9,286.6 123.2,286.6 122.4,286.5 121.9,286.4 121.2,286.2 120.7,286.1 119.9,286.0 119.4,285.9 118.7,285.7 118.2,285.6 117.4,285.5 116.9,285.3 116.4,285.1 115.9,284.8 115.4,284.4 115.1,284.1 114.7,283.6 114.4,283.1 114.2,282.6 113.9,282.1 113.7,281.6 113.6,281.1 113.4,280.4 113.4,279.9 113.3,279.1 113.3,278.4 113.2,277.6 113.1,277.1 113.0,276.4 113.0,275.6 113.0,274.9 113.2,274.4 113.4,273.8 113.7,273.3 113.9,272.9 114.4,272.4 114.7,272.1 115.2,271.7 115.6,271.4 116.0,271.1 116.5,270.9 117.0,270.6 117.7,270.4 118.2,270.3 118.7,270.1 119.4,270.0 120.2,270.0 120.9,270.0 121.7,270.1 122.2,270.2 122.9,270.4 123.4,270.6 123.9,270.8 124.4,271.1 124.9,271.4 125.2,271.6 125.7,272.1 126.0,272.4 126.4,272.8 126.7,273.1 127.1,273.6 127.4,274.0 127.7,274.5 127.9,275.1 128.1,275.6 128.2,276.2 128.2,276.9 128.3,277.6 128.4,278.3 128.5,278.9 128.5,279.6 128.5,280.4 128.4,280.9 128.2,281.6 127.9,282.1 127.7,282.6 127.4,283.1 127.2,283.6 126.9,284.0 126.7,284.5 126.4,284.9 126.0,285.4 125.7,285.8 125.2,286.1 124.8,286.4Z M88.7,283.7 87.9,283.8 87.2,283.8 86.4,283.7 85.9,283.6 85.2,283.6 84.7,283.7 83.9,283.7 83.3,283.6 82.7,283.5 82.2,283.4 81.5,283.1 80.9,282.9 80.4,282.7 79.9,282.5 79.4,282.3 78.9,282.1 78.4,281.9 77.9,281.5 77.4,281.2 77.1,280.9 76.7,280.6 76.2,280.2 75.7,279.9 75.2,279.6 74.7,279.4 74.3,279.1 73.9,278.9 73.4,278.4 73.2,277.9 72.9,277.4 72.8,276.9 72.7,276.1 72.6,275.6 72.6,274.9 72.7,274.4 72.9,273.6 73.1,273.1 73.3,272.6 73.5,272.1 73.8,271.6 74.0,271.1 74.3,270.6 74.6,270.1 74.9,269.7 75.2,269.4 75.6,268.9 75.9,268.6 76.4,268.2 76.8,267.9 77.2,267.6 77.7,267.4 78.2,267.0 78.7,266.7 79.2,266.5 79.7,266.2 80.2,266.0 80.7,265.8 81.2,265.6 81.9,265.4 82.4,265.4 83.2,265.3 83.9,265.3 84.7,265.3 85.4,265.4 85.9,265.4 86.7,265.6 87.2,265.7 87.9,265.8 88.4,266.0 89.0,266.1 89.7,266.4 90.2,266.5 90.7,266.7 91.2,266.9 91.7,267.1 92.2,267.4 92.7,267.7 93.1,268.1 93.4,268.5 93.7,268.9 94.0,269.4 94.2,269.9 94.4,270.4 94.6,271.1 94.7,271.6 94.8,272.4 94.8,273.1 94.7,273.9 94.7,274.6 94.6,275.1 94.4,275.9 94.3,276.4 94.1,276.9 93.9,277.4 93.7,278.0 93.4,278.4 93.1,278.9 92.8,279.4 92.4,279.9 92.2,280.2 91.8,280.6 91.4,281.1 91.2,281.4 90.8,281.9 90.4,282.3 90.1,282.6 89.7,283.0 89.2,283.4 88.7,283.6Z M124.7,289.4 123.9,289.5 123.2,289.4 122.7,289.3 121.9,289.1 121.4,289.0 120.9,288.8 120.4,288.5 119.9,288.2 119.4,288.0 118.9,287.7 118.4,287.5 117.9,287.3 117.4,287.1 116.7,286.9 116.2,286.7 115.7,286.5 115.2,286.2 114.7,285.9 114.4,285.6 113.9,285.1 113.7,284.8 113.4,284.4 113.1,283.9 112.9,283.4 112.7,282.9 112.4,282.3 112.2,281.7 111.9,281.1 111.8,280.6 111.6,280.1 111.5,279.4 111.4,278.7 111.4,278.1 111.4,277.4 111.4,276.6 111.4,276.1 111.5,275.4 111.7,274.9 111.9,274.2 112.1,273.6 112.4,273.2 112.7,272.8 112.9,272.4 113.4,271.9 113.7,271.6 114.2,271.2 114.6,270.9 114.9,270.6 115.4,270.3 115.9,270.0 116.4,269.8 116.9,269.5 117.4,269.3 117.9,269.1 118.7,268.9 119.2,268.8 119.9,268.7 120.7,268.7 121.4,268.7 122.2,268.8 122.7,268.9 123.4,269.1 123.9,269.3 124.4,269.5 124.9,269.8 125.4,270.1 125.7,270.4 126.2,270.7 126.6,271.1 126.9,271.4 127.4,271.9 127.7,272.1 128.2,272.6 128.4,272.9 128.9,273.4 129.2,273.8 129.4,274.2 129.7,274.9 129.8,275.4 129.8,276.1 129.8,276.9 129.9,277.6 129.9,278.3 129.9,278.9 130.0,279.6 130.0,280.4 130.0,281.1 129.9,281.7 129.8,282.4 129.6,282.9 129.4,283.6 129.2,284.1 128.9,284.6 128.7,285.1 128.4,285.5 128.1,285.9 127.8,286.4 127.4,286.9 127.2,287.3 126.9,287.7 126.6,288.1 126.2,288.6 125.9,288.9 125.4,289.2 124.7,289.4Z M87.9,288.2 87.2,288.2 86.5,288.1 85.9,288.0 85.3,287.9 84.7,287.7 84.2,287.6 83.5,287.4 83.0,287.1 82.6,286.9 82.2,286.6 81.7,286.3 81.2,285.9 80.8,285.6 80.4,285.4 79.9,285.1 79.4,284.8 78.9,284.6 78.4,284.4 77.7,284.1 77.2,283.9 76.7,283.6 76.4,283.4 75.9,283.0 75.6,282.6 75.2,282.3 74.7,282.0 74.2,281.7 73.7,281.5 73.0,281.4 72.4,281.3 71.7,281.3 70.9,281.3 70.2,281.3 69.4,281.2 68.9,281.1 68.4,280.8 67.9,280.6 67.4,280.3 66.9,280.0 66.4,279.7 66.0,279.4 65.6,279.1 65.2,278.8 64.7,278.4 64.4,278.0 64.1,277.6 63.8,277.1 63.6,276.5 63.6,275.9 63.8,275.4 64.1,274.9 64.4,274.6 64.9,274.2 65.4,273.9 65.9,273.8 66.6,273.6 67.2,273.6 67.9,273.6 68.7,273.5 69.3,273.4 69.9,273.2 70.4,273.0 70.9,272.6 71.2,272.4 71.7,272.0 71.9,271.6 72.3,271.1 72.7,270.7 72.9,270.4 73.2,269.9 73.6,269.4 73.9,269.0 74.2,268.6 74.7,268.2 75.0,267.9 75.4,267.6 75.9,267.3 76.4,267.0 76.9,266.7 77.4,266.4 77.9,266.1 78.3,265.9 78.8,265.6 79.3,265.4 79.8,265.1 80.4,264.9 80.9,264.7 81.4,264.5 82.0,264.4 82.7,264.3 83.4,264.2 84.2,264.2 84.9,264.3 85.6,264.4 86.2,264.5 86.9,264.6 87.4,264.7 88.2,264.9 88.7,265.0 89.3,265.1 89.9,265.3 90.4,265.4 91.1,265.6 91.7,265.9 92.2,266.1 92.7,266.4 93.1,266.6 93.4,266.9 93.9,267.3 94.2,267.6 94.6,268.1 94.9,268.6 95.2,269.0 95.4,269.5 95.7,270.0 95.9,270.6 96.1,271.1 96.3,271.6 96.4,272.4 96.4,273.1 96.3,273.9 96.2,274.6 96.0,275.1 95.9,275.8 95.8,276.4 95.6,276.9 95.4,277.5 95.2,278.1 95.0,278.6 94.7,279.1 94.5,279.6 94.3,280.1 94.1,280.6 93.8,281.1 93.6,281.6 93.3,282.1 93.0,282.6 92.7,283.1 92.4,283.6 92.2,284.1 91.9,284.6 91.7,285.0 91.4,285.5 91.1,285.9 90.7,286.4 90.4,286.7 89.9,287.1 89.5,287.4 89.1,287.6 88.6,287.9 87.9,288.1Z M124.2,291.9 123.4,292.0 122.7,291.9 122.2,291.8 121.7,291.6 121.2,291.3 120.7,291.1 120.2,290.8 119.7,290.5 119.2,290.2 118.7,289.9 118.2,289.6 117.8,289.4 117.4,289.1 116.9,288.8 116.4,288.6 115.9,288.4 115.4,288.1 114.9,287.9 114.4,287.6 113.9,287.2 113.5,286.9 113.2,286.5 112.9,286.1 112.5,285.6 112.2,285.1 112.0,284.6 111.7,284.1 111.6,283.6 111.4,283.1 111.2,282.5 110.9,281.9 110.7,281.4 110.5,280.9 110.3,280.4 110.2,279.7 110.0,279.1 110.0,278.4 110.0,277.6 110.1,276.9 110.2,276.3 110.3,275.6 110.4,275.1 110.7,274.6 110.9,274.0 111.2,273.4 111.4,273.0 111.7,272.6 111.9,272.1 112.4,271.6 112.7,271.4 113.1,270.9 113.4,270.6 113.9,270.3 114.4,269.9 114.8,269.6 115.2,269.4 115.7,269.1 116.2,268.9 116.7,268.6 117.2,268.4 117.7,268.1 118.4,267.9 118.9,267.8 119.7,267.7 120.2,267.6 120.9,267.6 121.7,267.6 122.2,267.7 122.9,267.8 123.4,268.0 124.0,268.1 124.7,268.4 125.2,268.6 125.6,268.9 126.0,269.1 126.4,269.5 126.9,269.9 127.2,270.1 127.7,270.5 128.1,270.9 128.4,271.2 128.9,271.6 129.2,271.9 129.7,272.3 129.9,272.6 130.4,273.1 130.7,273.6 130.9,274.1 131.1,274.6 131.2,275.1 131.3,275.9 131.3,276.6 131.3,277.4 131.3,278.1 131.3,278.9 131.3,279.6 131.3,280.4 131.2,281.1 131.1,281.6 131.0,282.4 130.9,283.0 130.8,283.6 130.6,284.1 130.4,284.9 130.2,285.4 130.0,285.9 129.7,286.4 129.4,286.9 129.2,287.3 128.9,287.8 128.7,288.3 128.4,288.8 128.2,289.3 127.9,289.8 127.6,290.1 127.2,290.6 126.8,290.9 126.4,291.2 125.9,291.4 125.2,291.6 124.7,291.8 124.2,291.9Z M87.9,290.9 87.2,290.9 86.7,290.9 85.9,290.7 85.4,290.6 84.7,290.4 84.2,290.3 83.7,290.1 83.1,289.9 82.6,289.6 82.1,289.4 81.7,289.1 81.2,288.8 80.7,288.4 80.3,288.1 79.9,287.9 79.4,287.6 78.9,287.3 78.4,287.1 77.9,286.9 77.3,286.6 76.7,286.4 76.2,286.2 75.7,286.0 75.2,285.8 74.7,285.5 74.2,285.2 73.7,284.9 73.2,284.7 72.7,284.5 72.2,284.3 71.4,284.2 70.9,284.0 70.3,283.9 69.7,283.7 69.2,283.6 68.7,283.4 68.2,283.1 67.7,282.8 67.2,282.4 66.8,282.1 66.4,281.8 65.9,281.4 65.5,281.1 65.2,280.9 64.7,280.5 64.2,280.2 63.8,279.9 63.4,279.6 62.9,279.2 62.6,278.9 62.2,278.4 61.9,278.0 61.6,277.6 61.4,277.1 61.1,276.6 60.9,275.9 61.0,275.1 61.2,274.6 61.5,274.1 61.9,273.7 62.2,273.4 62.6,273.0 63.1,272.6 63.5,272.4 64.0,272.1 64.6,271.9 65.2,271.8 65.9,271.7 66.5,271.6 67.2,271.6 67.9,271.5 68.4,271.3 68.9,271.1 69.4,270.9 69.9,270.6 70.4,270.2 70.7,269.9 71.2,269.5 71.5,269.1 71.9,268.7 72.2,268.4 72.7,268.1 73.2,267.7 73.5,267.4 73.9,267.1 74.4,266.9 74.9,266.6 75.4,266.3 75.9,266.1 76.4,265.9 76.9,265.6 77.4,265.4 77.9,265.1 78.4,264.9 78.9,264.6 79.4,264.4 80.0,264.1 80.6,263.9 81.2,263.7 81.7,263.5 82.2,263.4 82.9,263.3 83.7,263.2 84.4,263.3 85.2,263.4 85.7,263.5 86.4,263.6 86.9,263.8 87.6,263.9 88.2,264.0 88.9,264.1 89.4,264.2 90.1,264.4 90.7,264.5 91.2,264.7 91.9,264.9 92.4,265.1 92.9,265.4 93.4,265.6 93.7,265.9 94.2,266.2 94.6,266.6 94.9,266.9 95.3,267.4 95.7,267.8 95.9,268.1 96.3,268.6 96.6,269.1 96.9,269.6 97.2,270.0 97.4,270.4 97.8,270.9 98.1,271.4 98.3,271.9 98.4,272.6 98.2,273.4 98.0,273.9 97.8,274.4 97.6,274.9 97.4,275.6 97.3,276.1 97.1,276.6 96.9,277.4 96.8,277.9 96.6,278.4 96.4,279.1 96.2,279.6 96.1,280.1 95.9,280.9 95.8,281.4 95.7,282.1 95.5,282.6 95.4,283.1 95.2,283.7 94.9,284.3 94.7,284.8 94.4,285.3 94.2,285.7 93.9,286.2 93.6,286.6 93.3,287.1 92.9,287.6 92.7,287.9 92.2,288.4 91.9,288.6 91.4,289.0 90.9,289.4 90.6,289.6 90.2,290.0 89.7,290.3 89.2,290.5 88.7,290.7 88.0,290.9Z M124.4,294.4 123.7,294.5 122.9,294.5 122.2,294.4 121.7,294.2 121.2,293.9 120.8,293.6 120.4,293.4 119.9,292.9 119.6,292.6 119.2,292.3 118.7,292.0 118.2,291.7 117.7,291.4 117.2,291.1 116.8,290.9 116.3,290.6 115.9,290.4 115.4,290.1 114.9,289.9 114.4,289.6 113.9,289.3 113.4,288.9 113.2,288.6 112.7,288.1 112.4,287.9 112.0,287.4 111.7,287.0 111.4,286.6 111.1,286.1 110.8,285.6 110.6,285.1 110.4,284.4 110.3,283.9 110.2,283.4 110.0,282.6 109.8,282.1 109.6,281.6 109.4,281.1 109.2,280.4 109.0,279.9 108.9,279.4 108.8,278.6 108.7,277.9 108.8,277.1 108.9,276.6 109.1,275.9 109.3,275.4 109.4,274.9 109.7,274.4 109.9,273.9 110.2,273.4 110.4,272.9 110.7,272.4 111.0,271.9 111.4,271.5 111.7,271.1 112.2,270.7 112.4,270.4 112.9,270.0 113.3,269.6 113.7,269.4 114.2,269.0 114.7,268.7 115.1,268.4 115.6,268.1 116.1,267.9 116.6,267.6 117.2,267.4 117.7,267.2 118.2,267.0 118.7,266.9 119.4,266.7 120.2,266.7 120.7,266.6 121.4,266.6 121.9,266.7 122.7,266.8 123.2,266.9 123.9,267.1 124.4,267.3 124.9,267.4 125.4,267.7 125.9,267.9 126.4,268.2 126.9,268.5 127.4,268.9 127.8,269.1 128.2,269.5 128.7,269.9 129.0,270.1 129.4,270.5 129.9,270.9 130.2,271.2 130.7,271.6 130.9,271.9 131.3,272.4 131.6,272.9 131.9,273.4 132.1,273.9 132.3,274.4 132.4,274.9 132.6,275.6 132.6,276.4 132.6,277.1 132.6,277.9 132.6,278.6 132.5,279.4 132.4,280.1 132.4,280.6 132.3,281.4 132.2,282.1 132.1,282.6 132.0,283.4 131.9,283.9 131.7,284.6 131.5,285.1 131.4,285.6 131.2,286.3 130.9,286.9 130.7,287.4 130.5,287.9 130.3,288.4 130.1,288.9 129.9,289.5 129.7,290.1 129.4,290.6 129.2,291.0 128.9,291.4 128.5,291.9 128.2,292.2 127.7,292.6 127.3,292.9 126.9,293.1 126.4,293.4 125.9,293.7 125.4,294.0 124.9,294.2 124.4,294.4Z M88.4,292.7 87.7,292.7 86.9,292.7 86.3,292.6 85.7,292.5 85.1,292.4 84.4,292.2 83.9,292.0 83.4,291.8 82.9,291.6 82.4,291.4 81.9,291.1 81.4,290.8 80.9,290.5 80.4,290.2 79.9,289.9 79.4,289.6 79.0,289.4 78.4,289.1 77.9,288.9 77.4,288.7 76.9,288.6 76.4,288.4 75.7,288.1 75.2,287.9 74.7,287.7 74.2,287.5 73.7,287.4 72.9,287.1 72.4,287.0 71.9,286.9 71.3,286.6 70.7,286.4 70.2,286.1 69.8,285.9 69.3,285.6 68.8,285.4 68.3,285.1 67.9,284.9 67.4,284.6 66.9,284.2 66.5,283.9 66.2,283.6 65.7,283.1 65.4,282.9 64.9,282.5 64.5,282.1 64.2,281.8 63.6,281.5 63.3,281.1 62.9,280.9 62.4,280.4 62.1,280.1 61.6,279.7 61.4,279.4 60.9,278.9 60.6,278.5 60.4,278.1 60.0,277.6 59.7,277.1 59.5,276.6 59.4,276.1 59.3,275.4 59.4,274.6 59.6,274.1 59.9,273.6 60.1,273.3 60.5,272.9 60.9,272.5 61.2,272.1 61.6,271.7 62.0,271.4 62.4,271.1 62.9,270.7 63.4,270.5 63.9,270.3 64.7,270.2 65.4,270.2 66.2,270.2 66.7,270.1 67.4,269.9 67.9,269.7 68.3,269.4 68.7,269.1 69.0,268.6 69.4,268.2 69.8,267.9 70.2,267.6 70.7,267.3 71.2,267.0 71.7,266.8 72.2,266.6 72.7,266.4 73.2,266.1 73.7,265.9 74.2,265.6 74.8,265.4 75.4,265.2 75.9,265.0 76.4,264.8 76.9,264.6 77.5,264.4 78.1,264.1 78.6,263.9 79.2,263.7 79.7,263.4 80.2,263.2 80.7,263.0 81.2,262.8 81.7,262.6 82.4,262.5 82.9,262.4 83.7,262.3 84.4,262.4 84.9,262.4 85.7,262.6 86.2,262.7 86.9,262.9 87.4,263.0 88.0,263.1 88.7,263.3 89.4,263.4 89.9,263.5 90.7,263.6 91.2,263.8 91.7,263.9 92.3,264.1 92.9,264.4 93.4,264.6 93.8,264.9 94.2,265.1 94.7,265.5 95.2,265.8 95.5,266.1 95.9,266.5 96.3,266.9 96.7,267.3 96.9,267.6 97.3,268.1 97.7,268.6 97.9,268.9 98.4,269.4 98.7,269.7 99.2,270.1 99.7,270.4 100.1,270.6 100.5,270.9 100.9,271.2 101.4,271.6 101.6,272.1 101.4,272.6 100.9,273.1 100.6,273.4 100.2,273.8 99.8,274.1 99.4,274.6 99.2,275.1 98.9,275.6 98.8,276.1 98.6,276.6 98.4,277.4 98.3,277.9 98.1,278.4 97.9,279.1 97.8,279.6 97.7,280.4 97.6,280.9 97.6,281.6 97.5,282.4 97.4,283.1 97.4,283.6 97.3,284.4 97.2,285.0 96.9,285.6 96.7,286.1 96.4,286.6 96.2,286.9 95.8,287.4 95.4,287.9 95.2,288.2 94.7,288.6 94.4,289.0 94.1,289.4 93.7,289.8 93.3,290.1 92.9,290.5 92.4,290.9 92.0,291.1 91.7,291.4 91.2,291.7 90.7,292.0 90.2,292.2 89.5,292.4 88.9,292.6 88.4,292.7Z M125.4,295.9 124.7,296.1 123.9,296.1 123.2,296.1 122.4,296.0 121.7,295.9 121.2,295.8 120.7,295.5 120.2,295.3 119.7,294.9 119.3,294.6 118.9,294.3 118.5,293.9 118.2,293.6 117.7,293.3 117.2,292.9 116.7,292.6 116.2,292.4 115.7,292.1 115.3,291.9 114.8,291.6 114.3,291.4 113.9,291.1 113.4,290.9 112.9,290.5 112.5,290.1 112.2,289.8 111.8,289.4 111.4,288.9 111.2,288.6 110.8,288.1 110.5,287.6 110.2,287.2 109.9,286.8 109.7,286.3 109.4,285.7 109.2,285.1 109.1,284.6 109.0,283.9 108.9,283.4 108.7,282.6 108.6,282.1 108.4,281.6 108.2,281.0 107.9,280.4 107.8,279.9 107.7,279.3 107.6,278.6 107.6,277.9 107.6,277.1 107.7,276.6 107.9,276.0 108.1,275.4 108.3,274.9 108.5,274.4 108.7,273.9 109.0,273.4 109.3,272.9 109.6,272.4 109.9,272.0 110.2,271.6 110.5,271.1 110.9,270.7 111.2,270.4 111.7,270.0 112.0,269.6 112.4,269.4 112.9,268.9 113.3,268.6 113.7,268.4 114.2,268.0 114.7,267.7 115.1,267.4 115.6,267.1 116.1,266.9 116.7,266.7 117.2,266.5 117.7,266.3 118.2,266.1 118.9,265.9 119.4,265.9 120.2,265.8 120.9,265.8 121.7,265.8 122.4,265.9 122.9,266.0 123.7,266.1 124.2,266.3 124.7,266.4 125.3,266.6 125.8,266.9 126.4,267.1 126.8,267.4 127.3,267.6 127.7,267.9 128.2,268.2 128.7,268.6 129.1,268.9 129.5,269.1 129.9,269.5 130.4,269.9 130.7,270.1 131.2,270.6 131.5,270.9 131.9,271.4 132.2,271.8 132.4,272.2 132.7,272.7 132.9,273.3 133.1,273.9 133.3,274.4 133.4,274.9 133.6,275.6 133.7,276.1 133.8,276.9 133.8,277.6 133.8,278.4 133.7,279.1 133.7,279.8 133.6,280.4 133.5,281.1 133.4,281.8 133.3,282.4 133.2,283.1 133.0,283.6 132.9,284.2 132.7,284.9 132.6,285.4 132.4,286.1 132.3,286.6 132.1,287.1 131.9,287.9 131.8,288.4 131.7,288.9 131.4,289.6 131.3,290.1 131.1,290.6 130.8,291.1 130.6,291.6 130.3,292.1 129.9,292.6 129.7,293.0 129.4,293.4 128.9,293.9 128.6,294.1 128.2,294.5 127.7,294.9 127.3,295.1 126.8,295.4 126.3,295.6 125.7,295.9Z M89.7,293.9 88.9,294.0 88.2,294.1 87.4,294.1 86.7,294.1 85.9,294.0 85.4,293.9 84.7,293.7 84.2,293.6 83.5,293.4 82.9,293.2 82.4,292.9 81.9,292.7 81.4,292.5 80.9,292.2 80.4,291.9 80.0,291.6 79.6,291.4 79.1,291.1 78.6,290.9 78.1,290.6 77.4,290.4 76.9,290.2 76.4,290.1 75.9,289.9 75.2,289.7 74.7,289.5 74.2,289.4 73.4,289.2 72.9,289.1 72.2,288.9 71.7,288.8 71.2,288.6 70.6,288.4 70.0,288.1 69.6,287.9 69.1,287.6 68.7,287.3 68.2,287.0 67.7,286.7 67.2,286.4 66.9,286.1 66.4,285.8 66.0,285.4 65.7,285.1 65.2,284.6 64.9,284.4 64.4,283.9 64.2,283.6 63.6,283.2 63.4,282.9 62.9,282.5 62.5,282.1 62.1,281.8 61.7,281.4 61.4,281.1 60.9,280.6 60.6,280.4 60.2,279.9 59.9,279.6 59.5,279.1 59.1,278.7 58.9,278.4 58.5,277.9 58.3,277.4 58.1,276.9 57.9,276.1 57.9,275.6 57.9,275.1 58.0,274.4 58.2,273.9 58.4,273.3 58.6,272.9 59.0,272.4 59.3,271.9 59.6,271.5 59.9,271.1 60.3,270.6 60.6,270.3 61.0,269.9 61.4,269.5 61.8,269.1 62.1,268.9 62.7,268.6 63.4,268.5 64.2,268.5 64.9,268.5 65.7,268.4 66.2,268.3 66.7,268.1 67.2,267.7 67.4,267.4 67.9,266.9 68.2,266.6 68.7,266.4 69.2,266.1 69.7,265.9 70.4,265.7 70.9,265.6 71.4,265.4 72.1,265.1 72.7,265.0 73.2,264.8 73.7,264.6 74.2,264.4 74.9,264.1 75.4,264.0 75.9,263.9 76.7,263.7 77.2,263.5 77.7,263.4 78.2,263.1 78.8,262.9 79.4,262.7 79.9,262.4 80.4,262.3 80.9,262.1 81.4,261.9 82.2,261.7 82.7,261.6 83.4,261.5 84.2,261.5 84.9,261.6 85.4,261.7 86.2,261.9 86.7,262.0 87.3,262.1 87.9,262.3 88.4,262.4 89.2,262.5 89.8,262.6 90.4,262.8 91.0,262.9 91.7,263.1 92.2,263.2 92.7,263.4 93.2,263.7 93.7,263.9 94.2,264.1 94.7,264.4 95.2,264.7 95.7,265.1 96.1,265.4 96.4,265.6 96.9,266.1 97.2,266.4 97.7,266.9 97.9,267.2 98.3,267.6 98.7,268.1 99.0,268.4 99.4,268.8 99.9,269.1 100.3,269.4 100.7,269.6 101.3,269.9 101.9,270.1 102.4,270.4 102.9,270.6 103.4,270.8 103.9,271.1 104.4,271.4 104.8,271.6 105.1,272.1 104.9,272.8 104.4,273.1 103.9,273.4 103.4,273.6 102.9,273.9 102.4,274.1 101.9,274.4 101.5,274.6 101.2,275.0 100.8,275.4 100.6,275.9 100.4,276.4 100.2,277.1 100.0,277.6 99.9,278.1 99.7,278.9 99.7,279.5 99.6,280.1 99.5,280.9 99.5,281.6 99.4,282.4 99.4,283.1 99.4,283.9 99.4,284.6 99.4,285.1 99.2,285.9 99.0,286.4 98.7,286.9 98.4,287.2 98.0,287.6 97.7,288.0 97.3,288.4 96.9,288.9 96.6,289.1 96.2,289.6 95.9,290.0 95.6,290.4 95.2,290.9 94.9,291.2 94.4,291.6 94.1,291.9 93.7,292.3 93.2,292.6 92.8,292.9 92.3,293.1 91.7,293.4 91.2,293.6 90.7,293.7 89.9,293.9Z M125.9,297.2 125.2,297.3 124.4,297.3 123.7,297.3 122.9,297.3 122.2,297.2 121.7,297.1 120.9,297.0 120.4,296.8 119.9,296.6 119.4,296.4 118.9,296.1 118.4,295.7 118.0,295.4 117.7,295.1 117.2,294.7 116.7,294.4 116.3,294.1 115.8,293.9 115.4,293.6 114.9,293.4 114.4,293.1 113.9,292.8 113.4,292.5 112.9,292.2 112.4,291.9 112.0,291.6 111.7,291.3 111.2,290.9 110.9,290.5 110.7,290.1 110.3,289.6 110.0,289.1 109.7,288.6 109.4,288.2 109.2,287.9 108.9,287.4 108.6,286.9 108.3,286.4 108.1,285.9 107.9,285.1 107.8,284.6 107.7,283.9 107.5,283.4 107.4,282.9 107.2,282.2 107.0,281.6 106.8,281.1 106.6,280.6 106.4,279.9 106.3,279.4 106.3,278.6 106.3,277.9 106.4,277.2 106.5,276.6 106.7,276.0 106.8,275.4 106.9,274.9 107.1,274.1 107.2,273.6 107.4,273.1 107.8,272.6 108.2,272.3 108.5,271.9 108.9,271.6 109.3,271.1 109.7,270.8 110.0,270.4 110.4,270.1 110.8,269.6 111.2,269.4 111.7,268.9 112.0,268.6 112.4,268.3 112.9,267.9 113.2,267.6 113.7,267.3 114.2,267.0 114.7,266.7 115.2,266.4 115.7,266.2 116.2,265.9 116.7,265.7 117.2,265.6 117.7,265.4 118.4,265.2 118.9,265.1 119.7,265.0 120.4,265.0 121.2,265.0 121.9,265.0 122.7,265.1 123.2,265.2 123.9,265.4 124.4,265.5 124.9,265.7 125.5,265.9 126.1,266.1 126.6,266.4 127.1,266.6 127.6,266.9 128.0,267.1 128.4,267.4 128.9,267.7 129.4,268.0 129.9,268.3 130.4,268.6 130.7,268.9 131.2,269.2 131.6,269.6 131.9,269.9 132.3,270.4 132.7,270.8 132.9,271.2 133.2,271.6 133.4,272.1 133.7,272.7 133.9,273.4 134.1,273.9 134.2,274.4 134.4,274.9 134.6,275.6 134.8,276.1 134.9,276.8 135.0,277.4 135.0,278.1 135.0,278.9 134.9,279.6 134.9,280.1 134.8,280.9 134.7,281.6 134.6,282.1 134.5,282.9 134.4,283.4 134.2,284.1 134.0,284.6 133.9,285.1 133.7,285.9 133.5,286.4 133.4,287.0 133.3,287.6 133.2,288.4 133.1,288.9 132.9,289.6 132.8,290.1 132.6,290.6 132.4,291.2 132.2,291.7 131.9,292.2 131.6,292.6 131.3,293.1 131.0,293.6 130.7,294.1 130.4,294.5 130.0,294.9 129.7,295.3 129.3,295.6 128.9,296.0 128.4,296.3 127.9,296.6 127.4,296.8 126.9,297.0 126.2,297.1Z M126.7,298.2 125.9,298.3 125.2,298.3 124.4,298.3 123.7,298.3 122.9,298.3 122.2,298.2 121.4,298.2 120.9,298.1 120.2,297.9 119.7,297.8 119.2,297.6 118.7,297.3 118.2,297.0 117.7,296.7 117.3,296.4 116.9,296.1 116.4,295.8 115.9,295.6 115.4,295.3 114.9,295.0 114.4,294.8 113.9,294.5 113.4,294.2 113.0,293.9 112.6,293.6 112.2,293.3 111.7,293.0 111.2,292.7 110.8,292.4 110.4,292.0 110.0,291.6 109.7,291.1 109.4,290.7 109.2,290.2 108.9,289.8 108.7,289.3 108.4,288.9 108.1,288.4 107.8,287.9 107.5,287.4 107.2,286.9 106.9,286.4 106.7,285.9 106.5,285.4 106.3,284.9 106.2,284.4 105.9,283.8 105.7,283.4 105.3,282.9 104.9,282.4 104.7,282.1 104.2,281.7 103.7,281.5 103.2,281.8 102.9,282.1 102.5,282.6 102.2,283.1 101.9,283.6 101.7,284.1 101.6,284.6 101.4,285.2 101.2,285.9 100.9,286.4 100.7,286.9 100.4,287.2 100.0,287.6 99.7,288.1 99.3,288.4 98.9,288.8 98.6,289.1 98.2,289.6 97.9,289.9 97.5,290.4 97.2,290.9 96.9,291.2 96.6,291.6 96.2,292.1 95.9,292.4 95.4,292.9 95.2,293.2 94.7,293.6 94.2,293.9 93.8,294.1 93.3,294.4 92.7,294.6 92.2,294.8 91.7,294.9 90.9,295.1 90.2,295.1 89.7,295.2 88.9,295.2 88.2,295.3 87.4,295.3 86.7,295.3 85.9,295.2 85.4,295.1 84.7,295.0 84.2,294.9 83.4,294.7 82.9,294.5 82.4,294.3 81.9,294.1 81.4,293.9 80.8,293.6 80.3,293.4 79.8,293.1 79.4,292.9 78.9,292.6 78.4,292.4 77.9,292.1 77.4,291.9 76.7,291.6 76.2,291.5 75.7,291.3 74.9,291.1 74.4,291.0 73.7,290.9 73.2,290.8 72.5,290.6 71.9,290.5 71.4,290.4 70.7,290.1 70.2,290.0 69.7,289.7 69.2,289.5 68.7,289.2 68.2,288.9 67.7,288.6 67.3,288.4 66.9,288.1 66.4,287.8 65.9,287.4 65.7,287.1 65.2,286.7 64.9,286.4 64.4,285.9 64.2,285.6 63.7,285.1 63.4,284.8 63.0,284.4 62.6,284.1 62.2,283.6 61.9,283.4 61.4,282.9 61.1,282.6 60.7,282.1 60.4,281.9 59.9,281.4 59.6,281.1 59.1,280.7 58.8,280.4 58.4,280.0 58.1,279.6 57.7,279.1 57.4,278.8 57.1,278.3 56.9,277.7 56.7,277.1 56.6,276.6 56.6,275.9 56.6,275.1 56.7,274.6 56.8,273.9 56.9,273.4 57.1,272.6 57.3,272.1 57.6,271.6 57.9,271.1 58.1,270.7 58.4,270.4 58.8,269.9 59.1,269.5 59.5,269.1 59.9,268.7 60.2,268.4 60.6,268.0 61.1,267.6 61.4,267.4 61.9,267.1 62.5,266.9 63.1,266.7 63.8,266.6 64.4,266.6 65.1,266.4 65.7,266.2 66.2,265.9 66.6,265.6 67.1,265.4 67.6,265.1 68.2,264.9 68.7,264.7 69.2,264.6 69.8,264.4 70.4,264.2 70.9,264.1 71.6,263.9 72.2,263.7 72.7,263.5 73.2,263.4 73.8,263.1 74.4,263.0 74.9,262.9 75.7,262.7 76.2,262.6 76.9,262.5 77.4,262.4 78.2,262.2 78.7,262.0 79.2,261.8 79.7,261.6 80.4,261.4 80.9,261.2 81.4,261.1 82.2,260.9 82.7,260.8 83.4,260.7 84.2,260.7 84.9,260.8 85.4,260.9 86.2,261.1 86.7,261.2 87.4,261.4 87.9,261.5 88.7,261.6 89.2,261.7 89.9,261.9 90.4,262.0 91.1,262.1 91.7,262.3 92.2,262.5 92.7,262.6 93.3,262.9 93.9,263.1 94.4,263.4 94.9,263.6 95.4,263.9 95.9,264.1 96.3,264.4 96.7,264.7 97.2,265.0 97.6,265.4 97.9,265.7 98.3,266.1 98.7,266.5 99.0,266.9 99.4,267.4 99.7,267.7 100.1,268.1 100.4,268.4 100.9,268.7 101.4,269.0 101.9,269.2 102.4,269.4 103.0,269.6 103.7,269.9 104.2,270.0 104.7,270.2 105.3,270.4 105.9,270.6 106.4,270.7 107.2,270.8 107.9,270.7 108.4,270.5 108.9,270.2 109.3,269.9 109.7,269.6 110.2,269.2 110.5,268.9 110.9,268.6 111.4,268.1 111.7,267.9 112.2,267.5 112.6,267.1 112.9,266.9 113.4,266.5 113.9,266.2 114.4,265.9 114.8,265.6 115.4,265.4 115.9,265.2 116.4,265.0 116.9,264.8 117.5,264.6 118.2,264.5 118.7,264.4 119.4,264.3 120.2,264.2 120.9,264.2 121.7,264.3 122.4,264.3 122.9,264.4 123.7,264.6 124.2,264.7 124.9,264.9 125.4,265.1 125.9,265.3 126.4,265.5 126.9,265.7 127.4,266.0 127.9,266.2 128.4,266.5 128.9,266.8 129.4,267.1 129.9,267.4 130.4,267.6 130.8,267.9 131.2,268.1 131.7,268.5 132.1,268.9 132.4,269.2 132.9,269.6 133.2,270.0 133.5,270.4 133.8,270.9 134.0,271.4 134.2,271.9 134.4,272.4 134.7,273.0 134.9,273.6 135.1,274.1 135.2,274.6 135.4,275.1 135.7,275.8 135.9,276.4 136.0,276.9 136.1,277.6 136.2,278.1 136.2,278.9 136.2,279.6 136.1,280.1 136.1,280.9 136.0,281.6 135.9,282.4 135.8,282.9 135.7,283.6 135.6,284.1 135.4,284.6 135.2,285.4 135.0,285.9 134.9,286.4 134.8,287.1 134.7,287.9 134.6,288.4 134.5,289.1 134.4,289.6 134.2,290.4 134.0,290.9 133.8,291.4 133.6,291.9 133.3,292.4 133.0,292.9 132.7,293.4 132.4,293.9 132.2,294.3 131.9,294.6 131.5,295.1 131.2,295.5 130.8,295.9 130.4,296.3 130.0,296.6 129.6,296.9 129.2,297.2 128.7,297.5 128.2,297.8 127.7,298.0 126.9,298.1Z M103.8,279.9 104.0,279.4 104.2,278.9 104.4,278.3 104.6,277.6 104.7,277.1 104.8,276.4 104.7,275.6 104.2,275.4 103.9,275.4 103.3,275.6 102.9,276.0 102.7,276.4 102.5,277.1 102.5,277.9 102.6,278.6 102.8,279.1 103.1,279.6 103.4,280.0Z" fill="none" stroke="#000" stroke-width="0.7"/>
<path d="M191.20,243.90 L302.10,243.90" stroke="#a0a0a0" stroke-width="1.3" fill="none"/>
<path d="M302.10,243.30 L302.10,354.90 L191.20,354.90 L191.20,243.30" stroke="#5a5a5a" stroke-width="1.2" fill="none"/>
<line x1="188.40" y1="253.20" x2="191.20" y2="253.20" stroke="#222" stroke-width="1.1"/>
<text x="171.00" y="256.80" font-size="8" fill="#333" textLength="9.6" lengthAdjust="spacingAndGlyphs">10</text>
<text x="181.30" y="253.80" font-size="5.6" fill="#333">5</text>
<line x1="188.40" y1="275.30" x2="191.20" y2="275.30" stroke="#222" stroke-width="1.1"/>
<text x="171.00" y="278.90" font-size="8" fill="#333" textLength="9.6" lengthAdjust="spacingAndGlyphs">10</text>
<text x="181.30" y="275.90" font-size="5.6" fill="#333">4</text>
<line x1="188.40" y1="298.10" x2="191.20" y2="298.10" stroke="#222" stroke-width="1.1"/>
<text x="171.00" y="301.70" font-size="8" fill="#333" textLength="9.6" lengthAdjust="spacingAndGlyphs">10</text>
<text x="181.30" y="298.70" font-size="5.6" fill="#333">3</text>
<line x1="188.40" y1="321.10" x2="191.20" y2="321.10" stroke="#222" stroke-width="1.1"/>
<text x="171.00" y="324.70" font-size="8" fill="#333" textLength="9.6" lengthAdjust="spacingAndGlyphs">10</text>
<text x="181.30" y="321.70" font-size="5.6" fill="#333">2</text>
<line x1="189.70" y1="268.65" x2="191.20" y2="268.65" stroke="#555" stroke-width="0.7"/>
<line x1="189.70" y1="264.76" x2="191.20" y2="264.76" stroke="#555" stroke-width="0.7"/>
<line x1="189.70" y1="261.99" x2="191.20" y2="261.99" stroke="#555" stroke-width="0.7"/>
<line x1="189.70" y1="259.85" x2="191.20" y2="259.85" stroke="#555" stroke-width="0.7"/>
<line x1="189.70" y1="258.10" x2="191.20" y2="258.10" stroke="#555" stroke-width="0.7"/>
<line x1="189.70" y1="256.62" x2="191.20" y2="256.62" stroke="#555" stroke-width="0.7"/>
<line x1="189.70" y1="255.34" x2="191.20" y2="255.34" stroke="#555" stroke-width="0.7"/>
<line x1="189.70" y1="254.21" x2="191.20" y2="254.21" stroke="#555" stroke-width="0.7"/>
<line x1="189.70" y1="291.24" x2="191.20" y2="291.24" stroke="#555" stroke-width="0.7"/>
<line x1="189.70" y1="287.22" x2="191.20" y2="287.22" stroke="#555" stroke-width="0.7"/>
<line x1="189.70" y1="284.37" x2="191.20" y2="284.37" stroke="#555" stroke-width="0.7"/>
<line x1="189.70" y1="282.16" x2="191.20" y2="282.16" stroke="#555" stroke-width="0.7"/>
<line x1="189.70" y1="280.36" x2="191.20" y2="280.36" stroke="#555" stroke-width="0.7"/>
<line x1="189.70" y1="278.83" x2="191.20" y2="278.83" stroke="#555" stroke-width="0.7"/>
<line x1="189.70" y1="277.51" x2="191.20" y2="277.51" stroke="#555" stroke-width="0.7"/>
<line x1="189.70" y1="276.34" x2="191.20" y2="276.34" stroke="#555" stroke-width="0.7"/>
<line x1="189.70" y1="314.18" x2="191.20" y2="314.18" stroke="#555" stroke-width="0.7"/>
<line x1="189.70" y1="310.13" x2="191.20" y2="310.13" stroke="#555" stroke-width="0.7"/>
<line x1="189.70" y1="307.25" x2="191.20" y2="307.25" stroke="#555" stroke-width="0.7"/>
<line x1="189.70" y1="305.02" x2="191.20" y2="305.02" stroke="#555" stroke-width="0.7"/>
<line x1="189.70" y1="303.20" x2="191.20" y2="303.20" stroke="#555" stroke-width="0.7"/>
<line x1="189.70" y1="301.66" x2="191.20" y2="301.66" stroke="#555" stroke-width="0.7"/>
<line x1="189.70" y1="300.33" x2="191.20" y2="300.33" stroke="#555" stroke-width="0.7"/>
<line x1="189.70" y1="299.15" x2="191.20" y2="299.15" stroke="#555" stroke-width="0.7"/>
<line x1="188.40" y1="339.80" x2="191.20" y2="339.80" stroke="#222" stroke-width="1.4"/>
<text x="179.40" y="342.70" font-size="8.2" fill="#333">0</text>
<line x1="189.70" y1="327.90" x2="191.20" y2="327.90" stroke="#555" stroke-width="0.7"/>
<line x1="189.70" y1="331.90" x2="191.20" y2="331.90" stroke="#555" stroke-width="0.7"/>
<line x1="189.70" y1="334.90" x2="191.20" y2="334.90" stroke="#555" stroke-width="0.7"/>
<line x1="189.70" y1="337.40" x2="191.20" y2="337.40" stroke="#555" stroke-width="0.7"/>
<line x1="189.70" y1="342.40" x2="191.20" y2="342.40" stroke="#555" stroke-width="0.7"/>
<line x1="189.70" y1="344.90" x2="191.20" y2="344.90" stroke="#555" stroke-width="0.7"/>
<line x1="189.70" y1="347.90" x2="191.20" y2="347.90" stroke="#555" stroke-width="0.7"/>
<line x1="224.40" y1="354.90" x2="224.40" y2="357.40" stroke="#222" stroke-width="1.0"/>
<line x1="247.80" y1="354.90" x2="247.80" y2="357.40" stroke="#222" stroke-width="1.0"/>
<line x1="270.10" y1="354.90" x2="270.10" y2="357.40" stroke="#222" stroke-width="1.0"/>
<line x1="293.00" y1="354.90" x2="293.00" y2="357.40" stroke="#222" stroke-width="1.0"/>
<line x1="231.44" y1="354.90" x2="231.44" y2="356.40" stroke="#555" stroke-width="0.7"/>
<line x1="235.56" y1="354.90" x2="235.56" y2="356.40" stroke="#555" stroke-width="0.7"/>
<line x1="238.49" y1="354.90" x2="238.49" y2="356.40" stroke="#555" stroke-width="0.7"/>
<line x1="240.76" y1="354.90" x2="240.76" y2="356.40" stroke="#555" stroke-width="0.7"/>
<line x1="242.61" y1="354.90" x2="242.61" y2="356.40" stroke="#555" stroke-width="0.7"/>
<line x1="244.18" y1="354.90" x2="244.18" y2="356.40" stroke="#555" stroke-width="0.7"/>
<line x1="245.53" y1="354.90" x2="245.53" y2="356.40" stroke="#555" stroke-width="0.7"/>
<line x1="246.73" y1="354.90" x2="246.73" y2="356.40" stroke="#555" stroke-width="0.7"/>
<line x1="254.51" y1="354.90" x2="254.51" y2="356.40" stroke="#555" stroke-width="0.7"/>
<line x1="258.44" y1="354.90" x2="258.44" y2="356.40" stroke="#555" stroke-width="0.7"/>
<line x1="261.23" y1="354.90" x2="261.23" y2="356.40" stroke="#555" stroke-width="0.7"/>
<line x1="263.39" y1="354.90" x2="263.39" y2="356.40" stroke="#555" stroke-width="0.7"/>
<line x1="265.15" y1="354.90" x2="265.15" y2="356.40" stroke="#555" stroke-width="0.7"/>
<line x1="266.65" y1="354.90" x2="266.65" y2="356.40" stroke="#555" stroke-width="0.7"/>
<line x1="267.94" y1="354.90" x2="267.94" y2="356.40" stroke="#555" stroke-width="0.7"/>
<line x1="269.08" y1="354.90" x2="269.08" y2="356.40" stroke="#555" stroke-width="0.7"/>
<line x1="276.99" y1="354.90" x2="276.99" y2="356.40" stroke="#555" stroke-width="0.7"/>
<line x1="281.03" y1="354.90" x2="281.03" y2="356.40" stroke="#555" stroke-width="0.7"/>
<line x1="283.89" y1="354.90" x2="283.89" y2="356.40" stroke="#555" stroke-width="0.7"/>
<line x1="286.11" y1="354.90" x2="286.11" y2="356.40" stroke="#555" stroke-width="0.7"/>
<line x1="287.92" y1="354.90" x2="287.92" y2="356.40" stroke="#555" stroke-width="0.7"/>
<line x1="289.45" y1="354.90" x2="289.45" y2="356.40" stroke="#555" stroke-width="0.7"/>
<line x1="290.78" y1="354.90" x2="290.78" y2="356.40" stroke="#555" stroke-width="0.7"/>
<line x1="291.95" y1="354.90" x2="291.95" y2="356.40" stroke="#555" stroke-width="0.7"/>
<line x1="212.40" y1="354.90" x2="212.40" y2="357.70" stroke="#111" stroke-width="1.6"/>
<line x1="201.70" y1="354.90" x2="201.70" y2="356.40" stroke="#444" stroke-width="0.8"/>
<line x1="203.20" y1="354.90" x2="203.20" y2="356.40" stroke="#444" stroke-width="0.8"/>
<line x1="204.70" y1="354.90" x2="204.70" y2="356.40" stroke="#444" stroke-width="0.8"/>
<line x1="206.20" y1="354.90" x2="206.20" y2="356.40" stroke="#444" stroke-width="0.8"/>
<line x1="207.70" y1="354.90" x2="207.70" y2="356.40" stroke="#444" stroke-width="0.8"/>
<line x1="209.20" y1="354.90" x2="209.20" y2="356.40" stroke="#444" stroke-width="0.8"/>
<line x1="210.70" y1="354.90" x2="210.70" y2="356.40" stroke="#444" stroke-width="0.8"/>
<line x1="214.20" y1="354.90" x2="214.20" y2="356.40" stroke="#444" stroke-width="0.8"/>
<line x1="216.20" y1="354.90" x2="216.20" y2="356.40" stroke="#444" stroke-width="0.8"/>
<line x1="218.20" y1="354.90" x2="218.20" y2="356.40" stroke="#444" stroke-width="0.8"/>
<line x1="220.20" y1="354.90" x2="220.20" y2="356.40" stroke="#444" stroke-width="0.8"/>
<line x1="222.20" y1="354.90" x2="222.20" y2="356.40" stroke="#444" stroke-width="0.8"/>
<text x="210.50" y="371.10" font-size="8.2" fill="#333">0</text>
<text x="217.10" y="371.10" font-size="8.2" fill="#333" textLength="9.4" lengthAdjust="spacingAndGlyphs">10</text>
<text x="225.90" y="367.60" font-size="5.6" fill="#333">2</text>
<text x="241.00" y="371.10" font-size="8.2" fill="#333" textLength="9.4" lengthAdjust="spacingAndGlyphs">10</text>
<text x="250.70" y="367.60" font-size="5.6" fill="#333">3</text>
<text x="264.40" y="371.10" font-size="8.2" fill="#333" textLength="9.4" lengthAdjust="spacingAndGlyphs">10</text>
<text x="274.00" y="367.60" font-size="5.6" fill="#333">4</text>
<text x="286.60" y="371.10" font-size="8.2" fill="#333" textLength="9.4" lengthAdjust="spacingAndGlyphs">10</text>
<text x="296.20" y="367.60" font-size="5.6" fill="#333">5</text>
<text x="217.2" y="235.1" font-size="8.3" fill="#333">CD8</text><text x="234.2" y="237.4" font-size="6.0" fill="#333" textLength="46.4" lengthAdjust="spacingAndGlyphs">CXCR5+ ICOS+</text>
<path d="M201.60,306.20 L197.60,306.20 L197.60,257.40 L250.20,257.40 L250.20,306.20 L245.20,306.20" fill="none" stroke="#111" stroke-width="1.5"/>
<text x="217.00" y="316.20" font-size="7.2" text-anchor="middle" fill="#222">46.7</text>
<path d="M277.2,277.8 276.4,277.8 275.8,277.6 275.2,277.4 274.8,277.1 274.7,276.6 274.8,276.1 275.2,275.7 275.7,275.5 276.4,275.6 276.9,275.9 277.3,276.1 277.6,276.6 277.6,277.4 277.2,277.8Z M274.2,280.2 273.4,280.3 272.8,280.1 272.4,279.9 272.0,279.4 271.9,278.9 272.0,278.4 272.3,277.9 272.7,277.5 273.1,277.1 273.4,276.7 273.7,276.4 274.0,275.9 274.3,275.4 274.7,275.0 275.2,274.8 275.9,274.8 276.4,274.9 276.9,275.2 277.4,275.5 277.9,275.9 278.2,276.2 278.4,276.9 278.4,277.3 278.3,277.9 278.1,278.4 277.7,278.9 277.2,279.1 276.4,279.1 275.7,279.1 275.2,279.4 274.9,279.6 274.4,280.0Z M274.2,280.9 273.7,280.9 272.9,280.8 272.4,280.5 271.9,280.2 271.7,279.8 271.4,279.2 271.4,278.6 271.5,278.1 271.8,277.6 272.2,277.2 272.4,276.9 272.9,276.4 273.2,276.0 273.4,275.6 273.8,275.1 274.1,274.6 274.4,274.4 274.9,274.1 275.7,274.1 276.2,274.3 276.7,274.5 277.2,274.8 277.7,275.1 278.2,275.4 278.4,275.7 278.8,276.1 278.9,276.9 279.0,277.4 278.9,277.9 278.7,278.6 278.5,279.1 278.2,279.5 277.8,279.9 277.3,280.1 276.7,280.3 276.2,280.4 275.5,280.6 274.9,280.8 274.3,280.9Z M274.4,281.4 273.9,281.4 273.2,281.3 272.7,281.1 272.2,280.9 271.7,280.5 271.4,280.1 271.2,279.6 271.0,278.9 271.1,278.1 271.3,277.6 271.6,277.1 271.9,276.7 272.2,276.4 272.6,275.9 272.9,275.4 273.2,275.0 273.4,274.6 273.8,274.1 274.2,273.6 274.5,273.4 275.2,273.3 275.7,273.4 276.2,273.7 276.7,274.0 277.2,274.2 277.7,274.5 278.2,274.8 278.6,275.1 278.9,275.6 279.2,276.1 279.3,276.6 279.4,277.4 279.3,278.1 279.2,278.6 278.9,279.3 278.7,279.8 278.4,280.1 277.9,280.6 277.4,280.9 276.9,281.0 276.4,281.2 275.7,281.3 274.9,281.4 274.4,281.4Z M276.4,281.7 275.7,281.8 274.9,281.8 274.2,281.8 273.4,281.7 272.9,281.6 272.4,281.4 271.9,281.1 271.4,280.7 271.2,280.4 270.9,279.9 270.7,279.3 270.6,278.6 270.7,278.1 270.9,277.4 271.2,277.0 271.5,276.6 271.9,276.1 272.2,275.7 272.4,275.3 272.7,274.9 273.0,274.4 273.2,273.9 273.4,273.4 273.8,272.9 274.2,272.5 274.7,272.4 275.2,272.5 275.7,272.7 276.2,273.0 276.7,273.4 277.1,273.6 277.5,273.9 277.9,274.2 278.4,274.5 278.9,274.9 279.2,275.1 279.5,275.6 279.7,276.4 279.7,276.9 279.7,277.6 279.6,278.1 279.5,278.9 279.3,279.4 279.1,279.9 278.8,280.4 278.4,280.8 278.0,281.1 277.5,281.4 276.9,281.6 276.4,281.7Z M276.2,282.2 275.4,282.2 274.7,282.2 273.9,282.2 273.4,282.1 272.8,281.9 272.2,281.7 271.7,281.4 271.4,281.1 270.9,280.7 270.7,280.3 270.4,279.7 270.3,279.1 270.3,278.4 270.4,277.6 270.7,277.1 270.9,276.7 271.2,276.3 271.5,275.9 271.9,275.4 272.2,274.9 272.4,274.4 272.6,273.9 272.8,273.4 272.9,272.9 273.2,272.4 273.6,271.9 274.1,271.6 274.7,271.6 275.2,271.7 275.7,272.0 276.2,272.3 276.6,272.6 276.9,272.9 277.4,273.3 277.9,273.6 278.4,273.9 278.8,274.1 279.2,274.4 279.6,274.9 279.9,275.4 280.0,275.9 280.1,276.6 280.0,277.4 280.0,278.1 279.9,278.6 279.7,279.4 279.5,279.9 279.3,280.4 278.9,280.9 278.7,281.2 278.2,281.6 277.7,281.8 277.2,282.0 276.4,282.1Z M276.9,282.5 276.2,282.6 275.4,282.6 274.7,282.6 273.9,282.5 273.3,282.4 272.7,282.2 272.2,282.0 271.7,281.8 271.2,281.4 270.9,281.1 270.5,280.6 270.3,280.1 270.1,279.6 269.9,279.0 269.9,278.4 270.0,277.9 270.2,277.2 270.4,276.7 270.7,276.4 271.0,275.9 271.3,275.4 271.6,274.9 271.8,274.4 272.0,273.9 272.2,273.2 272.4,272.6 272.6,272.1 272.9,271.7 273.2,271.4 273.7,271.1 274.4,271.0 275.2,271.1 275.7,271.3 276.2,271.6 276.5,271.9 276.9,272.3 277.4,272.6 277.7,272.9 278.2,273.2 278.7,273.5 279.2,273.8 279.6,274.1 279.9,274.6 280.2,275.1 280.3,275.6 280.4,276.4 280.4,277.1 280.3,277.9 280.2,278.6 280.1,279.1 279.9,279.8 279.7,280.4 279.4,280.8 279.2,281.2 278.8,281.6 278.4,281.9 277.9,282.2 277.2,282.4Z M276.4,282.9 275.7,283.0 274.9,283.0 274.2,282.9 273.7,282.9 272.9,282.7 272.4,282.5 271.9,282.3 271.4,282.1 270.9,281.7 270.7,281.4 270.3,280.9 270.0,280.4 269.8,279.9 269.7,279.4 269.6,278.6 269.6,277.9 269.7,277.4 269.9,276.8 270.2,276.4 270.5,275.9 270.8,275.4 271.1,274.9 271.3,274.4 271.4,273.9 271.6,273.1 271.8,272.6 272.0,272.1 272.3,271.6 272.7,271.1 273.0,270.9 273.5,270.6 274.2,270.5 274.9,270.5 275.4,270.7 275.9,270.9 276.4,271.2 276.9,271.6 277.3,271.9 277.7,272.2 278.2,272.6 278.7,272.9 279.1,273.1 279.5,273.4 279.9,273.7 280.3,274.1 280.5,274.6 280.7,275.4 280.7,276.1 280.7,276.9 280.7,277.6 280.6,278.4 280.5,279.1 280.3,279.6 280.2,280.1 279.9,280.6 279.7,281.1 279.3,281.6 278.9,282.0 278.4,282.3 277.9,282.6 277.4,282.7 276.7,282.9Z M277.4,283.2 276.7,283.3 275.9,283.4 275.2,283.4 274.4,283.4 273.7,283.3 273.1,283.1 272.4,283.0 271.9,282.8 271.4,282.5 270.9,282.2 270.7,281.9 270.2,281.4 269.9,281.0 269.7,280.5 269.4,279.9 269.3,279.4 269.2,278.8 269.2,278.1 269.2,277.6 269.4,276.9 269.7,276.4 269.9,276.0 270.2,275.5 270.4,275.1 270.7,274.5 270.9,273.9 271.0,273.4 271.2,272.8 271.4,272.1 271.7,271.6 271.9,271.3 272.3,270.9 272.7,270.5 273.2,270.3 273.7,270.1 274.4,270.0 275.2,270.1 275.7,270.3 276.2,270.5 276.7,270.9 277.1,271.1 277.4,271.4 277.9,271.8 278.4,272.1 278.9,272.4 279.4,272.6 279.8,272.9 280.2,273.2 280.6,273.6 280.8,274.1 280.9,274.7 281.0,275.4 281.0,276.1 281.0,276.9 281.0,277.6 280.9,278.1 280.9,278.9 280.7,279.6 280.5,280.1 280.3,280.6 280.1,281.1 279.8,281.6 279.4,282.0 279.1,282.4 278.7,282.7 278.2,282.9 277.5,283.1Z M276.9,283.7 276.2,283.8 275.4,283.8 274.7,283.8 273.9,283.7 273.3,283.6 272.7,283.5 272.2,283.4 271.7,283.1 271.2,282.9 270.7,282.5 270.3,282.1 269.9,281.7 269.7,281.3 269.4,280.8 269.2,280.3 269.0,279.6 268.9,279.1 268.8,278.4 268.8,277.6 268.9,277.0 269.2,276.4 269.4,275.9 269.7,275.5 269.9,275.0 270.2,274.4 270.4,273.9 270.5,273.4 270.7,272.7 270.9,272.1 271.1,271.6 271.4,271.1 271.7,270.8 272.1,270.4 272.5,270.1 273.0,269.9 273.7,269.7 274.2,269.6 274.9,269.6 275.4,269.8 275.9,269.9 276.4,270.2 276.9,270.5 277.4,270.8 277.9,271.1 278.3,271.4 278.7,271.6 279.2,271.9 279.7,272.2 280.2,272.5 280.6,272.9 280.9,273.3 281.2,273.9 281.3,274.4 281.4,275.1 281.4,275.9 281.3,276.6 281.3,277.4 281.3,278.1 281.2,278.9 281.1,279.4 280.9,280.0 280.7,280.6 280.5,281.1 280.2,281.6 279.9,282.0 279.6,282.4 279.2,282.8 278.7,283.1 278.2,283.4 277.7,283.5 277.1,283.6Z M235.9,276.4 235.3,276.4 234.8,276.1 234.4,275.9 234.1,275.4 233.7,274.9 233.4,274.4 233.2,274.0 232.9,273.4 232.8,272.9 232.7,272.4 232.7,271.9 233.1,271.4 233.7,271.2 234.4,271.3 234.9,271.6 235.4,271.9 235.7,272.4 235.9,272.9 236.1,273.4 236.2,273.9 236.4,274.6 236.5,275.1 236.4,275.8 236.2,276.2Z M276.7,284.2 275.9,284.2 275.2,284.3 274.4,284.3 273.7,284.2 273.2,284.1 272.4,284.0 271.9,283.9 271.4,283.6 270.9,283.3 270.4,282.9 270.2,282.6 269.8,282.1 269.5,281.6 269.2,281.2 268.9,280.7 268.7,280.1 268.6,279.6 268.4,279.1 268.3,278.4 268.3,277.6 268.4,277.0 268.7,276.4 268.9,275.9 269.2,275.4 269.4,274.9 269.6,274.4 269.8,273.9 269.9,273.4 270.2,272.6 270.3,272.1 270.6,271.6 270.9,271.1 271.2,270.7 271.5,270.4 271.9,270.0 272.4,269.7 272.9,269.5 273.4,269.3 274.2,269.2 274.9,269.2 275.7,269.4 276.2,269.6 276.7,269.8 277.2,270.1 277.7,270.4 278.1,270.6 278.5,270.9 278.9,271.2 279.4,271.4 279.9,271.7 280.4,272.1 280.8,272.4 281.2,272.8 281.4,273.2 281.7,273.9 281.7,274.4 281.7,275.1 281.7,275.9 281.7,276.4 281.7,277.1 281.6,277.9 281.6,278.6 281.5,279.4 281.4,279.9 281.2,280.4 280.9,281.0 280.7,281.5 280.4,281.9 280.2,282.4 279.7,282.9 279.4,283.2 278.9,283.5 278.4,283.8 277.9,283.9 277.2,284.1 276.7,284.2Z M236.4,277.5 235.7,277.5 235.0,277.4 234.5,277.1 234.1,276.9 233.7,276.5 233.4,276.1 233.1,275.6 232.8,275.1 232.6,274.6 232.4,274.1 232.2,273.6 231.9,272.9 231.8,272.4 231.8,271.6 232.0,271.1 232.4,270.7 232.9,270.5 233.7,270.5 234.4,270.6 234.9,270.7 235.4,271.0 235.9,271.3 236.3,271.6 236.6,272.1 236.8,272.6 237.0,273.1 237.2,273.7 237.4,274.4 237.6,274.9 237.7,275.4 237.7,276.1 237.5,276.6 237.2,277.0 236.7,277.4Z M274.9,285.4 274.2,285.5 273.4,285.5 272.7,285.5 271.9,285.4 271.4,285.3 270.9,285.1 270.4,284.7 270.1,284.4 269.7,283.9 269.4,283.5 269.2,283.1 268.9,282.6 268.7,282.1 268.4,281.6 268.2,281.1 267.9,280.5 267.7,279.9 267.5,279.4 267.4,278.9 267.3,278.1 267.3,277.4 267.4,276.7 267.6,276.1 267.9,275.6 268.1,275.1 268.3,274.6 268.5,274.1 268.7,273.6 268.9,272.9 269.1,272.4 269.3,271.9 269.6,271.4 269.9,270.9 270.2,270.4 270.4,270.1 270.8,269.6 271.2,269.3 271.7,269.0 272.2,268.8 272.7,268.6 273.4,268.5 274.2,268.4 274.9,268.4 275.7,268.5 276.2,268.7 276.8,268.9 277.4,269.1 277.9,269.4 278.3,269.6 278.8,269.9 279.3,270.1 279.7,270.4 280.2,270.7 280.7,271.0 281.2,271.4 281.5,271.6 281.9,272.1 282.2,272.6 282.4,273.1 282.5,273.6 282.6,274.4 282.5,275.1 282.4,275.9 282.4,276.4 282.4,277.1 282.4,277.9 282.4,278.6 282.3,279.4 282.2,280.0 282.0,280.6 281.8,281.1 281.5,281.6 281.3,282.1 281.0,282.6 280.7,283.1 280.4,283.5 280.1,283.9 279.7,284.3 279.2,284.6 278.7,284.8 278.2,285.0 277.4,285.1 276.9,285.2 276.2,285.3 275.4,285.4 274.9,285.4Z M236.9,278.9 236.2,279.0 235.4,279.0 234.7,278.9 234.2,278.8 233.5,278.6 232.9,278.4 232.4,278.2 231.9,278.0 231.4,277.7 230.9,277.4 230.6,277.1 230.2,276.8 229.9,276.4 229.8,275.6 229.9,274.9 230.1,274.4 230.1,273.6 230.0,272.9 229.9,272.4 229.8,271.6 229.7,270.9 229.9,270.4 230.4,269.9 230.8,269.6 231.4,269.4 231.9,269.3 232.7,269.2 233.4,269.3 234.2,269.4 234.7,269.4 235.4,269.5 236.0,269.6 236.7,269.8 237.2,269.9 237.8,270.1 238.2,270.4 238.7,270.7 239.2,271.1 239.5,271.4 239.9,271.8 240.3,272.1 240.7,272.5 241.1,272.9 241.4,273.4 241.6,273.9 241.6,274.6 241.4,275.1 241.1,275.6 240.7,276.1 240.4,276.4 240.0,276.9 239.7,277.2 239.3,277.6 238.9,277.9 238.4,278.3 237.9,278.6 237.4,278.8 236.9,278.9Z M274.7,290.0 273.9,290.0 273.4,289.8 273.0,289.4 272.6,289.1 272.2,288.8 271.7,288.5 271.2,288.3 270.7,288.0 270.2,287.7 269.7,287.4 269.4,287.1 268.9,286.7 268.7,286.4 268.4,285.9 268.1,285.4 267.9,284.9 267.8,284.1 267.7,283.6 267.5,282.9 267.3,282.4 267.1,281.9 266.9,281.4 266.7,280.9 266.4,280.3 266.2,279.7 266.0,279.1 265.9,278.6 265.8,277.9 265.8,277.1 265.9,276.5 266.1,275.9 266.4,275.4 266.6,274.9 266.8,274.4 267.0,273.9 267.2,273.3 267.4,272.6 267.6,272.1 267.8,271.6 268.0,271.1 268.3,270.6 268.6,270.1 268.9,269.6 269.2,269.3 269.6,268.9 269.9,268.5 270.4,268.2 270.9,267.9 271.4,267.7 271.9,267.6 272.7,267.5 273.3,267.4 273.9,267.3 274.7,267.3 275.4,267.3 275.9,267.4 276.7,267.6 277.2,267.8 277.7,267.9 278.2,268.2 278.7,268.4 279.2,268.6 279.7,268.9 280.2,269.2 280.7,269.5 281.2,269.9 281.6,270.1 281.9,270.4 282.4,270.9 282.7,271.1 283.1,271.6 283.4,272.1 283.6,272.6 283.7,273.1 283.8,273.9 283.7,274.6 283.7,275.1 283.6,275.9 283.6,276.6 283.6,277.4 283.7,278.1 283.7,278.6 283.7,279.4 283.6,279.9 283.4,280.6 283.2,281.1 283.0,281.6 282.7,282.1 282.5,282.6 282.2,283.1 282.0,283.6 281.7,284.1 281.4,284.6 281.2,285.0 280.9,285.4 280.6,285.9 280.2,286.4 279.9,286.7 279.4,287.0 278.9,287.3 278.4,287.4 277.7,287.6 277.2,287.7 276.7,287.9 276.2,288.3 275.9,288.6 275.6,289.1 275.2,289.6 274.9,289.9Z M236.9,280.9 236.2,281.0 235.4,281.0 234.7,281.0 234.0,280.9 233.4,280.8 232.7,280.7 232.2,280.5 231.7,280.4 231.2,280.1 230.7,279.9 230.2,279.6 229.7,279.3 229.2,279.1 228.7,278.8 228.2,278.4 227.8,278.1 227.4,277.9 226.9,277.6 226.4,277.2 226.0,276.9 225.7,276.6 225.2,276.3 224.7,275.9 224.4,275.6 224.0,275.1 223.7,274.7 223.5,274.1 223.7,273.4 223.9,273.0 224.3,272.6 224.7,272.2 225.0,271.9 225.4,271.4 225.7,270.9 225.9,270.5 226.2,270.1 226.5,269.6 226.9,269.2 227.4,268.9 227.8,268.6 228.4,268.4 228.9,268.2 229.4,268.1 230.2,267.9 230.7,267.8 231.4,267.7 232.2,267.7 232.9,267.7 233.7,267.8 234.4,267.9 234.9,267.9 235.7,267.9 236.3,267.9 236.9,267.9 237.4,267.9 238.2,267.9 238.9,268.0 239.7,268.1 240.2,268.3 240.7,268.5 241.2,268.8 241.6,269.1 241.9,269.5 242.3,269.9 242.7,270.4 242.9,270.7 243.3,271.1 243.6,271.6 243.9,272.1 244.1,272.6 244.2,273.2 244.3,273.9 244.3,274.6 244.2,275.3 244.0,275.9 243.8,276.4 243.5,276.9 243.2,277.2 242.8,277.6 242.4,278.0 241.9,278.4 241.6,278.6 241.2,278.9 240.7,279.3 240.2,279.5 239.7,279.8 239.2,280.1 238.7,280.3 238.2,280.5 237.7,280.7 237.1,280.9Z M271.9,294.5 271.2,294.6 270.7,294.4 270.2,294.0 269.9,293.6 269.6,293.1 269.4,292.6 269.1,292.1 268.8,291.6 268.6,291.1 268.4,290.6 268.2,290.1 267.9,289.6 267.7,289.1 267.4,288.6 267.2,288.1 266.9,287.6 266.7,287.1 266.4,286.6 266.2,285.9 266.2,285.4 266.1,284.6 266.1,283.9 266.1,283.1 266.0,282.4 265.8,281.9 265.6,281.4 265.4,280.9 265.2,280.4 264.9,279.7 264.8,279.1 264.7,278.6 264.6,277.9 264.6,277.1 264.7,276.4 264.8,275.9 264.9,275.4 265.2,274.7 265.4,274.1 265.5,273.6 265.7,272.9 265.8,272.4 265.9,271.9 266.2,271.2 266.4,270.6 266.7,270.2 266.9,269.8 267.2,269.4 267.6,268.9 267.9,268.5 268.3,268.1 268.7,267.8 269.2,267.4 269.6,267.1 270.2,266.9 270.7,266.7 271.2,266.6 271.9,266.5 272.7,266.4 273.2,266.3 273.9,266.3 274.7,266.3 275.4,266.3 276.2,266.3 276.7,266.4 277.4,266.6 277.9,266.8 278.4,267.0 278.9,267.3 279.4,267.5 279.9,267.8 280.4,268.1 280.9,268.4 281.3,268.6 281.7,268.9 282.2,269.3 282.7,269.6 283.0,269.9 283.4,270.3 283.7,270.6 284.1,271.1 284.4,271.6 284.7,272.1 284.9,272.6 285.0,273.1 285.0,273.9 284.9,274.4 284.8,275.1 284.8,275.9 284.8,276.6 284.9,277.4 284.9,278.0 285.0,278.6 285.1,279.4 285.0,280.1 284.8,280.6 284.6,281.1 284.4,281.6 284.2,282.1 283.9,282.6 283.7,283.1 283.4,283.6 283.2,284.1 282.9,284.6 282.7,285.1 282.4,285.7 282.2,286.3 282.0,286.9 281.8,287.4 281.5,287.9 281.2,288.4 280.9,288.7 280.5,289.1 280.1,289.4 279.7,289.7 279.2,290.0 278.7,290.3 278.3,290.6 277.9,291.0 277.5,291.4 277.2,291.8 276.9,292.1 276.6,292.6 276.2,293.1 275.9,293.4 275.4,293.7 274.9,294.0 274.2,294.1 273.5,294.1 272.9,294.2 272.2,294.4Z M237.2,282.7 236.4,282.8 235.7,282.8 234.9,282.7 234.4,282.6 233.7,282.5 233.2,282.4 232.4,282.2 231.9,282.1 231.4,281.9 230.8,281.6 230.2,281.4 229.7,281.1 229.2,280.9 228.8,280.6 228.3,280.4 227.9,280.1 227.4,279.9 226.9,279.6 226.4,279.3 225.9,279.1 225.4,278.7 225.0,278.4 224.6,278.1 224.2,277.8 223.7,277.4 223.4,277.1 222.9,276.8 222.5,276.4 222.2,276.1 221.7,275.7 221.4,275.4 221.0,274.9 220.7,274.4 220.7,273.9 220.8,273.4 221.1,272.9 221.4,272.6 221.9,272.1 222.2,271.9 222.7,271.4 223.0,271.1 223.4,270.6 223.7,270.3 224.0,269.9 224.4,269.4 224.7,269.0 225.0,268.6 225.4,268.2 225.8,267.9 226.2,267.6 226.7,267.4 227.2,267.1 227.9,266.9 228.4,266.8 229.2,266.7 229.7,266.6 230.4,266.6 231.2,266.5 231.9,266.5 232.7,266.5 233.4,266.5 234.2,266.6 234.9,266.6 235.7,266.6 236.4,266.5 237.2,266.5 237.9,266.6 238.7,266.6 239.2,266.6 239.9,266.7 240.7,266.9 241.2,267.1 241.7,267.3 242.2,267.6 242.5,267.9 242.9,268.3 243.3,268.6 243.7,269.1 244.0,269.4 244.4,269.9 244.7,270.3 245.0,270.6 245.3,271.1 245.6,271.6 245.8,272.1 245.9,272.7 246.1,273.4 246.1,274.1 246.0,274.9 245.9,275.4 245.7,276.1 245.5,276.6 245.3,277.1 245.0,277.6 244.7,278.1 244.4,278.5 244.1,278.9 243.7,279.3 243.3,279.6 242.9,279.9 242.4,280.2 241.9,280.5 241.4,280.8 240.9,281.0 240.4,281.2 239.9,281.5 239.4,281.7 238.9,281.9 238.4,282.2 237.9,282.4 237.3,282.6Z M237.4,284.2 236.7,284.4 235.9,284.4 235.2,284.2 234.7,284.1 233.9,283.9 233.4,283.8 232.8,283.6 232.2,283.5 231.7,283.4 230.9,283.2 230.4,283.0 229.9,282.8 229.4,282.6 228.9,282.4 228.3,282.1 227.8,281.9 227.3,281.6 226.8,281.4 226.3,281.1 225.8,280.9 225.4,280.6 224.9,280.4 224.4,280.1 223.9,279.8 223.5,279.4 223.2,279.1 222.7,278.8 222.3,278.4 221.9,278.1 221.4,277.8 220.9,277.4 220.5,277.1 220.2,276.9 219.7,276.6 219.2,276.2 218.8,275.9 218.4,275.5 218.2,275.1 218.0,274.4 218.1,273.6 218.4,273.1 218.7,272.8 219.0,272.4 219.4,272.0 219.9,271.7 220.3,271.4 220.7,271.1 221.2,270.8 221.7,270.4 222.0,270.1 222.4,269.7 222.7,269.4 223.1,268.9 223.4,268.5 223.8,268.1 224.2,267.7 224.5,267.4 224.9,267.1 225.4,266.7 225.9,266.4 226.4,266.2 226.9,266.0 227.4,265.8 228.2,265.6 228.7,265.6 229.4,265.5 230.2,265.5 230.9,265.4 231.7,265.4 232.4,265.4 233.2,265.4 233.9,265.4 234.7,265.4 235.2,265.4 235.9,265.4 236.7,265.4 237.4,265.4 237.9,265.4 238.7,265.5 239.4,265.5 240.2,265.6 240.7,265.7 241.4,265.9 241.9,266.1 242.4,266.4 242.9,266.6 243.3,266.9 243.7,267.2 244.2,267.6 244.4,267.9 244.9,268.4 245.2,268.7 245.6,269.1 245.9,269.5 246.3,269.9 246.7,270.4 246.9,270.8 247.2,271.2 247.4,271.7 247.7,272.4 247.7,272.9 247.7,273.6 247.6,274.1 247.5,274.9 247.4,275.4 247.2,275.9 246.9,276.6 246.8,277.1 246.5,277.6 246.3,278.1 246.1,278.6 245.8,279.1 245.5,279.6 245.2,280.1 244.9,280.6 244.7,280.9 244.2,281.3 243.7,281.6 243.2,281.9 242.7,282.1 242.2,282.3 241.7,282.5 241.2,282.7 240.7,282.9 240.0,283.1 239.5,283.4 238.9,283.6 238.4,283.9 237.9,284.1 237.4,284.2Z M272.4,298.9 271.7,299.0 271.2,298.9 270.7,298.6 270.2,298.4 269.7,298.0 269.3,297.6 268.9,297.3 268.6,296.9 268.3,296.4 268.0,295.9 267.7,295.4 267.6,294.9 267.4,294.4 267.3,293.6 267.1,293.1 267.0,292.4 266.9,291.9 266.7,291.4 266.5,290.6 266.3,290.1 266.1,289.6 265.9,289.1 265.7,288.6 265.4,288.1 265.2,287.6 264.9,286.9 264.8,286.4 264.7,285.7 264.7,285.1 264.7,284.4 264.7,283.9 264.7,283.1 264.6,282.6 264.5,281.9 264.3,281.4 264.2,280.9 263.9,280.2 263.8,279.6 263.7,279.1 263.5,278.4 263.5,277.6 263.5,276.9 263.5,276.1 263.6,275.4 263.7,274.9 263.9,274.1 263.9,273.5 264.0,272.9 264.1,272.1 264.2,271.6 264.4,270.9 264.7,270.4 264.9,269.9 265.2,269.6 265.5,269.1 265.9,268.6 266.2,268.3 266.5,267.9 266.9,267.5 267.4,267.1 267.7,266.9 268.2,266.6 268.7,266.3 269.2,266.1 269.7,265.9 270.4,265.7 270.9,265.6 271.7,265.5 272.4,265.4 272.9,265.3 273.7,265.3 274.4,265.2 275.2,265.2 275.9,265.2 276.7,265.3 277.2,265.4 277.9,265.6 278.4,265.9 278.9,266.1 279.4,266.3 279.9,266.6 280.4,266.8 280.9,267.1 281.4,267.4 281.7,267.6 282.2,268.0 282.7,268.3 283.1,268.6 283.4,269.0 283.9,269.4 284.2,269.7 284.6,270.1 284.9,270.5 285.2,270.9 285.5,271.4 285.8,271.9 286.0,272.4 286.2,273.1 286.2,273.6 286.2,274.3 286.2,274.9 286.1,275.6 286.1,276.4 286.2,277.1 286.3,277.6 286.3,278.4 286.3,279.1 286.2,279.9 286.1,280.4 285.9,280.9 285.7,281.6 285.5,282.1 285.2,282.6 285.0,283.1 284.8,283.6 284.5,284.1 284.3,284.6 284.0,285.1 283.8,285.6 283.6,286.1 283.4,286.6 283.2,287.3 283.0,287.9 282.7,288.4 282.5,288.9 282.2,289.3 281.9,289.6 281.5,290.1 281.2,290.4 280.7,290.9 280.4,291.1 279.9,291.5 279.6,291.9 279.2,292.4 278.9,292.8 278.7,293.4 278.5,293.9 278.4,294.4 278.2,295.0 277.9,295.6 277.7,296.1 277.4,296.5 277.1,296.9 276.7,297.3 276.2,297.6 275.7,297.9 275.2,298.1 274.7,298.2 274.1,298.4 273.5,298.6 272.9,298.8 272.4,298.9Z M273.9,301.9 273.2,302.0 272.4,302.1 271.7,302.1 271.0,301.9 270.4,301.7 270.0,301.4 269.7,301.1 269.2,300.6 268.9,300.3 268.6,299.9 268.2,299.4 267.9,299.1 267.6,298.6 267.2,298.1 266.9,297.8 266.7,297.4 266.3,296.9 266.1,296.4 265.8,295.9 265.7,295.4 265.5,294.6 265.4,294.1 265.3,293.4 265.2,292.9 265.1,292.1 264.9,291.6 264.8,290.9 264.7,290.4 264.5,289.6 264.3,289.1 264.1,288.6 263.9,288.1 263.7,287.4 263.6,286.9 263.4,286.2 263.4,285.6 263.3,284.9 263.3,284.1 263.3,283.4 263.3,282.6 263.2,282.1 263.1,281.4 262.9,280.8 262.8,280.1 262.7,279.5 262.6,278.9 262.5,278.1 262.4,277.6 262.4,276.9 262.4,276.1 262.4,275.4 262.3,274.6 262.2,273.9 262.1,273.4 261.9,272.7 261.8,272.1 261.9,271.4 262.1,270.9 262.4,270.5 262.7,270.1 263.2,269.6 263.4,269.3 263.9,268.9 264.2,268.5 264.6,268.1 264.9,267.8 265.3,267.4 265.7,267.0 266.1,266.6 266.5,266.4 266.9,266.1 267.4,265.8 267.9,265.6 268.4,265.3 269.0,265.1 269.7,264.9 270.2,264.8 270.9,264.7 271.4,264.6 272.2,264.5 272.7,264.4 273.4,264.3 274.2,264.2 274.7,264.1 275.4,264.1 275.9,264.2 276.7,264.3 277.4,264.4 277.9,264.6 278.4,264.7 278.9,264.9 279.5,265.1 280.0,265.4 280.5,265.6 280.9,265.9 281.4,266.2 281.9,266.5 282.4,266.9 282.9,267.1 283.2,267.4 283.7,267.8 284.1,268.1 284.4,268.5 284.9,268.9 285.2,269.3 285.5,269.6 285.9,270.1 286.2,270.6 286.4,271.0 286.7,271.4 286.9,271.9 287.2,272.6 287.3,273.1 287.4,273.9 287.4,274.6 287.4,275.4 287.4,276.1 287.4,276.9 287.5,277.4 287.5,278.1 287.5,278.9 287.4,279.4 287.2,280.1 287.1,280.6 286.9,281.1 286.7,281.7 286.4,282.4 286.2,282.9 286.0,283.4 285.8,283.9 285.6,284.4 285.3,284.9 285.1,285.4 284.9,285.9 284.7,286.5 284.4,287.1 284.3,287.6 284.0,288.1 283.8,288.6 283.5,289.1 283.2,289.6 282.9,290.1 282.7,290.5 282.4,290.9 282.0,291.4 281.7,291.9 281.4,292.3 281.2,292.7 280.9,293.3 280.7,293.9 280.6,294.4 280.4,294.9 280.2,295.5 279.9,296.0 279.7,296.5 279.4,297.0 279.2,297.5 278.9,298.0 278.7,298.5 278.4,299.0 278.2,299.4 277.8,299.9 277.4,300.3 277.0,300.6 276.6,300.9 276.2,301.1 275.6,301.4 275.0,301.6 274.4,301.8 273.9,301.9Z M244.2,286.7 243.4,286.9 242.7,286.8 242.2,286.6 241.7,286.4 241.2,286.1 240.7,285.9 239.9,285.7 239.2,285.7 238.4,285.8 237.9,285.9 237.2,286.0 236.4,285.9 235.9,285.9 235.2,285.7 234.7,285.5 234.2,285.4 233.5,285.1 232.9,285.0 232.4,284.8 231.7,284.7 231.2,284.5 230.7,284.4 229.9,284.2 229.4,284.0 228.9,283.8 228.4,283.6 227.8,283.4 227.2,283.1 226.7,282.9 226.2,282.7 225.7,282.5 225.2,282.3 224.7,282.0 224.2,281.8 223.7,281.6 223.2,281.3 222.7,281.0 222.2,280.7 221.9,280.4 221.4,280.0 221.1,279.6 220.7,279.2 220.3,278.9 219.9,278.6 219.4,278.2 219.0,277.9 218.7,277.6 218.2,277.3 217.7,276.9 217.4,276.6 217.0,276.1 216.7,275.7 216.5,275.1 216.5,274.4 216.7,273.6 216.9,273.1 217.2,272.7 217.4,272.3 217.8,271.9 218.2,271.5 218.6,271.1 218.9,270.9 219.4,270.5 219.9,270.2 220.3,269.9 220.7,269.6 221.2,269.2 221.5,268.9 221.9,268.5 222.3,268.1 222.7,267.7 223.0,267.4 223.4,267.0 223.8,266.6 224.2,266.4 224.7,266.0 225.2,265.7 225.7,265.4 226.2,265.2 226.7,265.0 227.2,264.8 227.8,264.6 228.4,264.5 229.2,264.5 229.9,264.5 230.7,264.5 231.4,264.5 232.2,264.5 232.9,264.4 233.6,264.4 234.2,264.3 234.9,264.3 235.7,264.3 236.4,264.3 237.2,264.3 237.9,264.4 238.4,264.4 239.2,264.5 239.9,264.6 240.5,264.6 241.2,264.8 241.7,264.9 242.3,265.1 242.9,265.4 243.4,265.6 243.9,265.9 244.3,266.1 244.7,266.4 245.2,266.8 245.7,267.1 245.9,267.4 246.4,267.9 246.7,268.2 247.1,268.6 247.4,269.0 247.8,269.4 248.2,269.8 248.5,270.1 248.9,270.6 249.2,270.9 249.5,271.4 249.7,272.1 249.5,272.9 249.4,273.4 249.2,274.0 249.0,274.6 248.8,275.1 248.7,275.6 248.4,276.2 248.2,276.9 248.0,277.4 247.9,277.9 247.7,278.4 247.4,279.0 247.2,279.6 247.0,280.1 246.8,280.6 246.6,281.1 246.4,281.6 246.2,282.2 245.9,282.8 245.7,283.4 245.5,283.9 245.4,284.4 245.3,285.1 245.2,285.6 244.9,286.1 244.4,286.6Z M273.4,304.2 272.7,304.2 271.9,304.2 271.4,304.1 270.7,303.9 270.2,303.8 269.7,303.6 269.2,303.4 268.7,303.1 268.2,302.7 267.9,302.4 267.5,301.9 267.2,301.5 266.9,301.1 266.6,300.6 266.3,300.1 265.9,299.7 265.7,299.3 265.4,298.9 265.2,298.4 264.9,297.9 264.7,297.4 264.4,296.8 264.2,296.1 264.1,295.6 263.9,295.1 263.8,294.4 263.6,293.9 263.5,293.1 263.4,292.6 263.2,291.9 263.2,291.4 263.1,290.6 263.0,289.9 262.9,289.4 262.7,288.6 262.6,288.1 262.4,287.4 262.3,286.9 262.2,286.1 262.1,285.6 262.1,284.9 262.0,284.1 262.0,283.4 262.0,282.6 261.9,282.0 261.9,281.4 261.8,280.6 261.7,279.9 261.7,279.4 261.5,278.6 261.4,278.1 261.3,277.4 261.2,276.6 261.2,276.1 261.0,275.4 260.8,274.9 260.6,274.4 260.2,274.0 259.8,273.6 259.4,273.4 258.7,273.2 258.2,273.1 257.4,273.0 256.7,273.0 255.9,273.0 255.2,273.0 254.4,273.1 253.7,273.1 253.2,273.2 252.4,273.4 251.9,273.6 251.4,273.9 251.1,274.1 250.7,274.6 250.4,275.1 250.2,275.6 250.0,276.1 249.9,276.6 249.7,277.1 249.5,277.9 249.3,278.4 249.1,278.9 248.9,279.4 248.7,280.0 248.5,280.6 248.3,281.1 248.2,281.6 248.0,282.4 247.9,282.9 247.9,283.6 247.8,284.4 247.8,285.1 247.7,285.9 247.6,286.4 247.4,286.9 247.0,287.4 246.7,287.7 246.2,288.1 245.8,288.4 245.3,288.6 244.7,288.9 244.2,289.0 243.4,289.1 242.7,289.1 241.9,289.0 241.2,288.9 240.7,288.8 240.0,288.6 239.4,288.5 238.9,288.3 238.4,288.1 237.9,287.9 237.2,287.7 236.7,287.6 236.0,287.4 235.4,287.3 234.9,287.1 234.4,286.9 233.8,286.6 233.2,286.4 232.7,286.2 232.2,286.1 231.7,285.9 230.9,285.7 230.4,285.5 229.9,285.3 229.4,285.1 228.8,284.9 228.2,284.7 227.7,284.5 227.2,284.3 226.7,284.1 226.1,283.9 225.5,283.6 224.9,283.4 224.4,283.3 223.9,283.1 223.4,282.9 222.8,282.6 222.2,282.4 221.8,282.1 221.4,281.9 220.9,281.4 220.7,281.1 220.3,280.6 219.9,280.3 219.6,279.9 219.2,279.5 218.8,279.1 218.4,278.8 217.9,278.5 217.5,278.1 217.2,277.9 216.7,277.5 216.3,277.1 215.9,276.7 215.7,276.4 215.4,275.8 215.3,275.1 215.4,274.4 215.5,273.9 215.7,273.3 215.9,272.8 216.2,272.4 216.5,271.9 216.9,271.4 217.2,271.1 217.7,270.6 217.9,270.4 218.4,269.9 218.7,269.6 219.2,269.2 219.6,268.9 219.9,268.6 220.4,268.2 220.8,267.9 221.2,267.5 221.7,267.1 222.0,266.9 222.4,266.5 222.9,266.1 223.2,265.9 223.7,265.6 224.2,265.2 224.7,264.9 225.2,264.7 225.7,264.4 226.2,264.2 226.7,264.0 227.2,263.8 227.9,263.7 228.4,263.6 229.2,263.5 229.9,263.5 230.7,263.6 231.4,263.6 232.2,263.5 232.9,263.5 233.6,263.4 234.2,263.3 234.9,263.2 235.7,263.2 236.4,263.3 237.2,263.3 237.9,263.4 238.4,263.4 239.2,263.5 239.9,263.6 240.4,263.7 241.2,263.8 241.7,264.0 242.3,264.1 242.9,264.4 243.4,264.5 243.9,264.7 244.4,265.0 244.9,265.2 245.4,265.5 245.9,265.7 246.4,266.1 246.9,266.4 247.2,266.6 247.7,267.1 248.0,267.4 248.4,267.9 248.7,268.2 249.2,268.6 249.5,268.9 249.9,269.2 250.4,269.5 250.9,269.7 251.6,269.9 252.2,270.1 252.7,270.2 253.4,270.4 253.9,270.5 254.7,270.6 255.4,270.6 255.9,270.7 256.7,270.7 257.4,270.7 258.2,270.7 258.7,270.6 259.3,270.4 259.9,270.1 260.3,269.9 260.8,269.6 261.2,269.4 261.7,269.0 262.2,268.6 262.5,268.4 262.9,268.0 263.4,267.6 263.7,267.3 264.2,266.9 264.5,266.6 264.9,266.3 265.4,265.9 265.8,265.6 266.2,265.4 266.7,265.1 267.2,264.9 267.9,264.6 268.4,264.4 268.9,264.3 269.5,264.1 270.2,264.0 270.7,263.9 271.4,263.7 271.9,263.6 272.7,263.5 273.2,263.4 273.9,263.3 274.7,263.2 275.4,263.2 276.2,263.2 276.9,263.3 277.4,263.4 278.2,263.6 278.7,263.7 279.2,263.9 279.8,264.1 280.3,264.4 280.8,264.6 281.3,264.9 281.7,265.1 282.2,265.4 282.7,265.7 283.2,266.1 283.7,266.4 284.1,266.6 284.4,267.0 284.9,267.4 285.2,267.7 285.6,268.1 285.9,268.6 286.2,269.0 286.5,269.4 286.8,269.9 287.2,270.4 287.4,270.8 287.7,271.3 287.9,271.7 288.2,272.3 288.4,272.9 288.4,273.4 288.5,274.1 288.5,274.9 288.5,275.6 288.5,276.4 288.5,277.1 288.5,277.9 288.5,278.6 288.4,279.1 288.2,279.9 288.1,280.4 287.9,280.9 287.7,281.6 287.5,282.1 287.3,282.6 287.1,283.1 286.9,283.6 286.7,284.1 286.4,284.8 286.2,285.4 286.0,285.9 285.8,286.4 285.6,286.9 285.4,287.4 285.2,288.0 284.9,288.6 284.7,289.1 284.4,289.5 284.2,289.9 283.9,290.4 283.6,290.9 283.3,291.4 283.1,291.9 282.9,292.4 282.7,292.9 282.4,293.6 282.3,294.1 282.2,294.6 282.0,295.4 281.8,295.9 281.6,296.4 281.3,296.9 281.1,297.4 280.8,297.9 280.5,298.4 280.3,298.9 280.0,299.4 279.8,299.9 279.5,300.4 279.2,300.8 278.9,301.1 278.4,301.6 278.2,301.9 277.7,302.3 277.3,302.6 276.9,302.9 276.4,303.2 275.9,303.4 275.4,303.6 274.7,303.9 274.2,304.0 273.6,304.1Z M273.7,306.7 273.1,306.6 272.4,306.4 271.9,306.2 271.4,306.0 270.9,305.7 270.4,305.5 269.9,305.3 269.3,305.1 268.7,305.0 268.2,304.8 267.7,304.5 267.3,304.1 266.9,303.8 266.6,303.4 266.3,302.9 266.0,302.4 265.7,301.9 265.4,301.5 265.2,301.1 264.8,300.6 264.5,300.1 264.2,299.6 264.0,299.1 263.7,298.6 263.6,298.1 263.4,297.6 263.2,297.0 263.0,296.4 262.9,295.9 262.7,295.1 262.6,294.6 262.4,294.1 262.2,293.4 262.1,292.9 262.0,292.1 261.9,291.6 261.8,290.9 261.7,290.1 261.7,289.6 261.5,288.9 261.4,288.4 261.2,287.6 261.1,287.1 261.0,286.4 260.9,285.8 260.9,285.1 260.8,284.4 260.8,283.6 260.8,282.9 260.8,282.1 260.8,281.4 260.8,280.6 260.7,279.9 260.6,279.4 260.5,278.6 260.4,278.1 260.2,277.4 260.1,276.9 259.9,276.4 259.7,275.9 259.4,275.4 258.9,275.0 258.4,274.8 257.9,274.6 257.2,274.4 256.7,274.4 255.9,274.3 255.2,274.3 254.5,274.4 253.9,274.5 253.4,274.7 252.9,274.9 252.4,275.4 252.2,275.7 251.9,276.1 251.7,276.7 251.5,277.4 251.3,277.9 251.1,278.4 250.9,278.9 250.7,279.4 250.4,279.9 250.2,280.4 249.9,280.9 249.7,281.6 249.5,282.1 249.4,282.7 249.4,283.4 249.4,284.1 249.5,284.6 249.5,285.4 249.5,286.1 249.4,286.6 249.2,287.2 248.9,287.6 248.5,288.1 248.2,288.5 247.7,288.9 247.3,289.1 246.9,289.4 246.4,289.6 245.9,289.9 245.3,290.1 244.7,290.4 244.2,290.5 243.4,290.6 242.7,290.6 241.9,290.5 241.2,290.4 240.7,290.4 239.9,290.2 239.4,290.1 238.9,289.9 238.4,289.6 237.8,289.4 237.2,289.2 236.7,289.0 236.2,288.8 235.6,288.6 234.9,288.5 234.4,288.3 233.9,288.1 233.4,287.9 232.9,287.6 232.3,287.4 231.7,287.2 231.2,287.0 230.7,286.8 230.2,286.6 229.7,286.3 229.2,286.1 228.7,285.9 228.2,285.6 227.5,285.4 226.9,285.2 226.4,285.0 225.9,284.8 225.4,284.6 224.8,284.4 224.2,284.2 223.7,284.1 223.2,283.9 222.4,283.7 221.9,283.5 221.4,283.2 221.0,282.9 220.7,282.6 220.2,282.2 219.9,281.9 219.6,281.4 219.2,280.9 218.9,280.6 218.5,280.1 218.2,279.9 217.7,279.5 217.3,279.1 216.9,278.9 216.4,278.5 215.9,278.2 215.6,277.9 215.2,277.5 214.9,277.1 214.6,276.6 214.4,276.1 214.4,275.4 214.4,274.6 214.5,274.1 214.7,273.5 214.9,272.9 215.2,272.4 215.4,271.9 215.7,271.5 216.0,271.1 216.4,270.6 216.7,270.3 217.0,269.9 217.4,269.4 217.7,269.1 218.1,268.6 218.4,268.3 218.9,267.9 219.2,267.6 219.7,267.2 220.1,266.9 220.4,266.6 220.9,266.3 221.4,266.0 221.9,265.6 222.3,265.4 222.7,265.1 223.2,264.8 223.7,264.5 224.2,264.2 224.7,263.9 225.2,263.7 225.7,263.4 226.2,263.2 226.7,263.1 227.3,262.9 227.9,262.8 228.7,262.7 229.4,262.7 230.2,262.7 230.9,262.7 231.7,262.7 232.2,262.6 232.9,262.5 233.7,262.4 234.2,262.3 234.9,262.3 235.7,262.3 236.4,262.3 237.2,262.4 237.7,262.4 238.4,262.5 239.2,262.5 239.9,262.6 240.4,262.7 241.2,262.9 241.7,263.0 242.2,263.2 242.8,263.4 243.4,263.6 243.9,263.8 244.4,264.0 244.9,264.2 245.6,264.4 246.1,264.6 246.7,264.9 247.2,265.1 247.6,265.4 248.0,265.6 248.4,266.0 248.9,266.4 249.2,266.7 249.6,267.1 249.9,267.5 250.4,267.9 250.7,268.2 251.2,268.5 251.7,268.7 252.2,268.9 252.9,269.1 253.4,269.3 254.2,269.4 254.7,269.4 255.4,269.5 256.2,269.5 256.9,269.5 257.7,269.4 258.2,269.4 258.9,269.2 259.4,269.0 259.9,268.8 260.4,268.5 260.9,268.1 261.3,267.9 261.7,267.6 262.2,267.2 262.6,266.9 262.9,266.6 263.4,266.2 263.8,265.9 264.2,265.6 264.7,265.3 265.2,265.0 265.7,264.7 266.2,264.5 266.7,264.2 267.2,264.0 267.7,263.9 268.4,263.6 268.9,263.5 269.4,263.4 270.2,263.2 270.7,263.1 271.4,262.9 271.9,262.8 272.6,262.6 273.2,262.5 273.9,262.4 274.4,262.3 275.2,262.3 275.9,262.3 276.7,262.4 277.2,262.4 277.9,262.6 278.4,262.7 279.2,262.9 279.7,263.1 280.2,263.3 280.7,263.5 281.2,263.7 281.7,264.0 282.2,264.3 282.7,264.6 283.2,264.9 283.7,265.1 284.1,265.4 284.5,265.6 284.9,266.0 285.4,266.4 285.7,266.6 286.2,267.1 286.4,267.5 286.7,267.9 287.0,268.4 287.3,268.9 287.7,269.4 287.9,269.9 288.2,270.3 288.5,270.6 288.8,271.1 289.0,271.6 289.2,272.1 289.4,272.9 289.5,273.4 289.5,274.1 289.5,274.9 289.4,275.5 289.4,276.1 289.4,276.9 289.4,277.6 289.4,278.4 289.3,279.1 289.2,279.6 289.0,280.4 288.8,280.9 288.6,281.4 288.4,281.9 288.2,282.6 288.0,283.1 287.8,283.6 287.6,284.1 287.4,284.6 287.2,285.3 287.0,285.9 286.8,286.4 286.7,286.9 286.4,287.5 286.2,288.1 286.0,288.6 285.7,289.1 285.5,289.6 285.2,290.1 284.9,290.6 284.7,291.0 284.4,291.5 284.2,292.1 284.0,292.6 283.8,293.1 283.7,293.6 283.5,294.4 283.4,294.9 283.2,295.6 283.1,296.1 282.9,296.7 282.7,297.3 282.4,297.8 282.2,298.3 281.9,298.8 281.7,299.2 281.4,299.7 281.2,300.2 280.9,300.7 280.7,301.1 280.3,301.6 279.9,302.1 279.7,302.4 279.3,302.9 278.9,303.3 278.6,303.6 278.2,304.1 277.8,304.4 277.4,304.7 276.9,305.0 276.4,305.4 276.0,305.6 275.5,305.9 275.1,306.1 274.6,306.4 273.9,306.6Z" fill="none" stroke="#000" stroke-width="0.7"/>
<path d="M340.00,245.00 L451.30,245.00" stroke="#a0a0a0" stroke-width="1.3" fill="none"/>
<path d="M451.30,244.40 L451.30,356.00 L340.00,356.00 L340.00,244.40" stroke="#5a5a5a" stroke-width="1.2" fill="none"/>
<line x1="337.20" y1="254.30" x2="340.00" y2="254.30" stroke="#222" stroke-width="1.1"/>
<text x="319.80" y="257.90" font-size="8" fill="#333" textLength="9.6" lengthAdjust="spacingAndGlyphs">10</text>
<text x="330.10" y="254.90" font-size="5.6" fill="#333">5</text>
<line x1="337.20" y1="276.40" x2="340.00" y2="276.40" stroke="#222" stroke-width="1.1"/>
<text x="319.80" y="280.00" font-size="8" fill="#333" textLength="9.6" lengthAdjust="spacingAndGlyphs">10</text>
<text x="330.10" y="277.00" font-size="5.6" fill="#333">4</text>
<line x1="337.20" y1="299.20" x2="340.00" y2="299.20" stroke="#222" stroke-width="1.1"/>
<text x="319.80" y="302.80" font-size="8" fill="#333" textLength="9.6" lengthAdjust="spacingAndGlyphs">10</text>
<text x="330.10" y="299.80" font-size="5.6" fill="#333">3</text>
<line x1="337.20" y1="322.20" x2="340.00" y2="322.20" stroke="#222" stroke-width="1.1"/>
<text x="319.80" y="325.80" font-size="8" fill="#333" textLength="9.6" lengthAdjust="spacingAndGlyphs">10</text>
<text x="330.10" y="322.80" font-size="5.6" fill="#333">2</text>
<line x1="338.50" y1="269.75" x2="340.00" y2="269.75" stroke="#555" stroke-width="0.7"/>
<line x1="338.50" y1="265.86" x2="340.00" y2="265.86" stroke="#555" stroke-width="0.7"/>
<line x1="338.50" y1="263.09" x2="340.00" y2="263.09" stroke="#555" stroke-width="0.7"/>
<line x1="338.50" y1="260.95" x2="340.00" y2="260.95" stroke="#555" stroke-width="0.7"/>
<line x1="338.50" y1="259.20" x2="340.00" y2="259.20" stroke="#555" stroke-width="0.7"/>
<line x1="338.50" y1="257.72" x2="340.00" y2="257.72" stroke="#555" stroke-width="0.7"/>
<line x1="338.50" y1="256.44" x2="340.00" y2="256.44" stroke="#555" stroke-width="0.7"/>
<line x1="338.50" y1="255.31" x2="340.00" y2="255.31" stroke="#555" stroke-width="0.7"/>
<line x1="338.50" y1="292.34" x2="340.00" y2="292.34" stroke="#555" stroke-width="0.7"/>
<line x1="338.50" y1="288.32" x2="340.00" y2="288.32" stroke="#555" stroke-width="0.7"/>
<line x1="338.50" y1="285.47" x2="340.00" y2="285.47" stroke="#555" stroke-width="0.7"/>
<line x1="338.50" y1="283.26" x2="340.00" y2="283.26" stroke="#555" stroke-width="0.7"/>
<line x1="338.50" y1="281.46" x2="340.00" y2="281.46" stroke="#555" stroke-width="0.7"/>
<line x1="338.50" y1="279.93" x2="340.00" y2="279.93" stroke="#555" stroke-width="0.7"/>
<line x1="338.50" y1="278.61" x2="340.00" y2="278.61" stroke="#555" stroke-width="0.7"/>
<line x1="338.50" y1="277.44" x2="340.00" y2="277.44" stroke="#555" stroke-width="0.7"/>
<line x1="338.50" y1="315.28" x2="340.00" y2="315.28" stroke="#555" stroke-width="0.7"/>
<line x1="338.50" y1="311.23" x2="340.00" y2="311.23" stroke="#555" stroke-width="0.7"/>
<line x1="338.50" y1="308.35" x2="340.00" y2="308.35" stroke="#555" stroke-width="0.7"/>
<line x1="338.50" y1="306.12" x2="340.00" y2="306.12" stroke="#555" stroke-width="0.7"/>
<line x1="338.50" y1="304.30" x2="340.00" y2="304.30" stroke="#555" stroke-width="0.7"/>
<line x1="338.50" y1="302.76" x2="340.00" y2="302.76" stroke="#555" stroke-width="0.7"/>
<line x1="338.50" y1="301.43" x2="340.00" y2="301.43" stroke="#555" stroke-width="0.7"/>
<line x1="338.50" y1="300.25" x2="340.00" y2="300.25" stroke="#555" stroke-width="0.7"/>
<line x1="337.20" y1="340.90" x2="340.00" y2="340.90" stroke="#222" stroke-width="1.4"/>
<text x="328.20" y="343.80" font-size="8.2" fill="#333">0</text>
<line x1="338.50" y1="329.00" x2="340.00" y2="329.00" stroke="#555" stroke-width="0.7"/>
<line x1="338.50" y1="333.00" x2="340.00" y2="333.00" stroke="#555" stroke-width="0.7"/>
<line x1="338.50" y1="336.00" x2="340.00" y2="336.00" stroke="#555" stroke-width="0.7"/>
<line x1="338.50" y1="338.50" x2="340.00" y2="338.50" stroke="#555" stroke-width="0.7"/>
<line x1="338.50" y1="343.50" x2="340.00" y2="343.50" stroke="#555" stroke-width="0.7"/>
<line x1="338.50" y1="346.00" x2="340.00" y2="346.00" stroke="#555" stroke-width="0.7"/>
<line x1="338.50" y1="349.00" x2="340.00" y2="349.00" stroke="#555" stroke-width="0.7"/>
<line x1="373.20" y1="356.00" x2="373.20" y2="358.50" stroke="#222" stroke-width="1.0"/>
<line x1="396.60" y1="356.00" x2="396.60" y2="358.50" stroke="#222" stroke-width="1.0"/>
<line x1="418.90" y1="356.00" x2="418.90" y2="358.50" stroke="#222" stroke-width="1.0"/>
<line x1="441.80" y1="356.00" x2="441.80" y2="358.50" stroke="#222" stroke-width="1.0"/>
<line x1="380.24" y1="356.00" x2="380.24" y2="357.50" stroke="#555" stroke-width="0.7"/>
<line x1="384.36" y1="356.00" x2="384.36" y2="357.50" stroke="#555" stroke-width="0.7"/>
<line x1="387.29" y1="356.00" x2="387.29" y2="357.50" stroke="#555" stroke-width="0.7"/>
<line x1="389.56" y1="356.00" x2="389.56" y2="357.50" stroke="#555" stroke-width="0.7"/>
<line x1="391.41" y1="356.00" x2="391.41" y2="357.50" stroke="#555" stroke-width="0.7"/>
<line x1="392.98" y1="356.00" x2="392.98" y2="357.50" stroke="#555" stroke-width="0.7"/>
<line x1="394.33" y1="356.00" x2="394.33" y2="357.50" stroke="#555" stroke-width="0.7"/>
<line x1="395.53" y1="356.00" x2="395.53" y2="357.50" stroke="#555" stroke-width="0.7"/>
<line x1="403.31" y1="356.00" x2="403.31" y2="357.50" stroke="#555" stroke-width="0.7"/>
<line x1="407.24" y1="356.00" x2="407.24" y2="357.50" stroke="#555" stroke-width="0.7"/>
<line x1="410.03" y1="356.00" x2="410.03" y2="357.50" stroke="#555" stroke-width="0.7"/>
<line x1="412.19" y1="356.00" x2="412.19" y2="357.50" stroke="#555" stroke-width="0.7"/>
<line x1="413.95" y1="356.00" x2="413.95" y2="357.50" stroke="#555" stroke-width="0.7"/>
<line x1="415.45" y1="356.00" x2="415.45" y2="357.50" stroke="#555" stroke-width="0.7"/>
<line x1="416.74" y1="356.00" x2="416.74" y2="357.50" stroke="#555" stroke-width="0.7"/>
<line x1="417.88" y1="356.00" x2="417.88" y2="357.50" stroke="#555" stroke-width="0.7"/>
<line x1="425.79" y1="356.00" x2="425.79" y2="357.50" stroke="#555" stroke-width="0.7"/>
<line x1="429.83" y1="356.00" x2="429.83" y2="357.50" stroke="#555" stroke-width="0.7"/>
<line x1="432.69" y1="356.00" x2="432.69" y2="357.50" stroke="#555" stroke-width="0.7"/>
<line x1="434.91" y1="356.00" x2="434.91" y2="357.50" stroke="#555" stroke-width="0.7"/>
<line x1="436.72" y1="356.00" x2="436.72" y2="357.50" stroke="#555" stroke-width="0.7"/>
<line x1="438.25" y1="356.00" x2="438.25" y2="357.50" stroke="#555" stroke-width="0.7"/>
<line x1="439.58" y1="356.00" x2="439.58" y2="357.50" stroke="#555" stroke-width="0.7"/>
<line x1="440.75" y1="356.00" x2="440.75" y2="357.50" stroke="#555" stroke-width="0.7"/>
<line x1="361.20" y1="356.00" x2="361.20" y2="358.80" stroke="#111" stroke-width="1.6"/>
<line x1="350.50" y1="356.00" x2="350.50" y2="357.50" stroke="#444" stroke-width="0.8"/>
<line x1="352.00" y1="356.00" x2="352.00" y2="357.50" stroke="#444" stroke-width="0.8"/>
<line x1="353.50" y1="356.00" x2="353.50" y2="357.50" stroke="#444" stroke-width="0.8"/>
<line x1="355.00" y1="356.00" x2="355.00" y2="357.50" stroke="#444" stroke-width="0.8"/>
<line x1="356.50" y1="356.00" x2="356.50" y2="357.50" stroke="#444" stroke-width="0.8"/>
<line x1="358.00" y1="356.00" x2="358.00" y2="357.50" stroke="#444" stroke-width="0.8"/>
<line x1="359.50" y1="356.00" x2="359.50" y2="357.50" stroke="#444" stroke-width="0.8"/>
<line x1="363.00" y1="356.00" x2="363.00" y2="357.50" stroke="#444" stroke-width="0.8"/>
<line x1="365.00" y1="356.00" x2="365.00" y2="357.50" stroke="#444" stroke-width="0.8"/>
<line x1="367.00" y1="356.00" x2="367.00" y2="357.50" stroke="#444" stroke-width="0.8"/>
<line x1="369.00" y1="356.00" x2="369.00" y2="357.50" stroke="#444" stroke-width="0.8"/>
<line x1="371.00" y1="356.00" x2="371.00" y2="357.50" stroke="#444" stroke-width="0.8"/>
<text x="359.30" y="372.20" font-size="8.2" fill="#333">0</text>
<text x="365.90" y="372.20" font-size="8.2" fill="#333" textLength="9.4" lengthAdjust="spacingAndGlyphs">10</text>
<text x="374.70" y="368.70" font-size="5.6" fill="#333">2</text>
<text x="389.80" y="372.20" font-size="8.2" fill="#333" textLength="9.4" lengthAdjust="spacingAndGlyphs">10</text>
<text x="399.50" y="368.70" font-size="5.6" fill="#333">3</text>
<text x="413.20" y="372.20" font-size="8.2" fill="#333" textLength="9.4" lengthAdjust="spacingAndGlyphs">10</text>
<text x="422.80" y="368.70" font-size="5.6" fill="#333">4</text>
<text x="435.40" y="372.20" font-size="8.2" fill="#333" textLength="9.4" lengthAdjust="spacingAndGlyphs">10</text>
<text x="445.00" y="368.70" font-size="5.6" fill="#333">5</text>
<text x="384.2" y="234.8" font-size="8.2" fill="#333">T</text><text x="389.1" y="237.4" font-size="6.3" fill="#333" textLength="8" lengthAdjust="spacingAndGlyphs">FH</text>
<path d="M351.80,307.40 L347.80,307.40 L347.80,258.60 L400.40,258.60 L400.40,307.40 L395.40,307.40" fill="none" stroke="#111" stroke-width="1.5"/>
<text x="370.30" y="317.20" font-size="7.2" text-anchor="middle" fill="#222">43.7</text>
<path d="M424.2,278.8 423.5,278.8 423.0,278.6 422.5,278.4 422.0,278.1 421.5,277.8 421.2,277.5 420.7,277.2 420.2,277.0 419.8,276.7 419.2,276.4 418.9,276.0 418.8,275.4 418.8,275.0 419.0,274.5 419.4,274.0 420.0,273.8 420.5,273.7 421.2,273.7 421.8,273.9 422.2,274.1 422.8,274.3 423.2,274.6 423.8,274.8 424.2,275.1 424.8,275.4 425.1,275.8 425.5,276.2 425.6,276.8 425.6,277.5 425.4,278.0 425.0,278.4 424.5,278.7Z M424.8,279.0 424.0,279.2 423.2,279.1 422.8,278.9 422.2,278.6 421.8,278.3 421.2,278.0 420.8,277.8 420.3,277.5 419.8,277.2 419.4,277.0 419.0,276.7 418.6,276.2 418.4,275.8 418.3,275.0 418.5,274.4 418.8,274.0 419.2,273.6 419.8,273.3 420.2,273.2 421.0,273.1 421.5,273.2 422.2,273.5 422.7,273.8 423.2,274.0 423.6,274.2 424.1,274.5 424.5,274.8 425.0,275.0 425.5,275.5 425.8,275.8 426.0,276.4 426.1,277.0 426.0,277.5 425.8,278.2 425.5,278.5 425.0,278.9Z M425.0,279.3 424.2,279.5 423.5,279.5 422.8,279.3 422.2,279.0 421.8,278.8 421.4,278.5 421.0,278.2 420.5,278.0 420.0,277.8 419.5,277.5 419.0,277.2 418.5,276.8 418.2,276.5 418.0,275.9 417.9,275.2 418.0,274.8 418.2,274.1 418.5,273.8 419.0,273.3 419.4,273.0 420.0,272.8 420.5,272.6 421.2,272.7 421.8,272.8 422.3,273.0 422.8,273.2 423.3,273.5 423.8,273.8 424.2,274.1 424.8,274.3 425.2,274.6 425.8,275.0 426.0,275.3 426.3,275.8 426.4,276.5 426.4,277.2 426.2,278.0 426.0,278.5 425.8,278.8 425.2,279.2Z M424.5,279.8 423.8,279.8 423.2,279.8 422.5,279.5 422.0,279.3 421.5,279.0 421.1,278.8 420.7,278.5 420.2,278.2 419.7,278.0 419.1,277.8 418.7,277.5 418.2,277.1 418.0,276.8 417.7,276.2 417.6,275.5 417.7,274.8 417.8,274.2 418.1,273.8 418.5,273.2 418.8,273.0 419.2,272.6 419.8,272.4 420.2,272.2 421.0,272.1 421.8,272.2 422.2,272.4 422.8,272.7 423.2,272.9 423.8,273.2 424.2,273.5 424.7,273.8 425.2,274.0 425.6,274.2 426.0,274.5 426.4,275.0 426.7,275.5 426.8,276.0 426.8,276.8 426.8,277.3 426.6,278.0 426.4,278.5 426.1,279.0 425.8,279.3 425.2,279.6 424.7,279.8Z M425.0,280.0 424.2,280.2 423.5,280.2 422.8,280.0 422.2,279.8 421.8,279.6 421.2,279.3 420.8,279.0 420.4,278.8 419.9,278.5 419.3,278.2 418.8,278.0 418.4,277.8 418.0,277.4 417.7,277.0 417.5,276.5 417.3,275.8 417.3,275.0 417.5,274.2 417.7,273.8 418.0,273.3 418.3,273.0 418.8,272.5 419.2,272.2 419.6,272.0 420.2,271.8 420.8,271.7 421.5,271.7 422.0,271.8 422.5,272.0 423.0,272.2 423.5,272.5 424.0,272.8 424.5,273.1 425.0,273.3 425.5,273.6 426.0,273.8 426.5,274.2 426.8,274.5 427.0,275.0 427.2,275.8 427.2,276.5 427.1,277.2 427.0,277.9 426.8,278.5 426.6,279.0 426.2,279.4 425.8,279.7 425.2,280.0Z M424.2,280.5 423.5,280.5 423.0,280.4 422.4,280.2 421.8,280.0 421.4,279.8 420.9,279.5 420.5,279.2 420.0,279.0 419.5,278.7 419.0,278.5 418.5,278.2 418.0,277.9 417.7,277.5 417.3,277.0 417.1,276.5 417.0,275.9 417.0,275.2 417.0,274.8 417.2,274.1 417.5,273.5 417.8,273.1 418.1,272.8 418.5,272.3 418.9,272.0 419.2,271.7 419.8,271.5 420.5,271.2 421.0,271.2 421.8,271.2 422.2,271.4 422.8,271.6 423.2,271.8 423.8,272.1 424.2,272.3 424.8,272.6 425.2,272.9 425.8,273.1 426.2,273.3 426.8,273.7 427.0,274.0 427.3,274.5 427.5,275.1 427.6,275.8 427.5,276.5 427.5,277.0 427.4,277.8 427.2,278.4 427.0,279.0 426.8,279.4 426.4,279.8 426.0,280.1 425.5,280.3 424.8,280.5 424.2,280.5Z M385.5,274.5 385.0,274.4 384.5,274.1 384.2,273.7 384.1,273.0 384.2,272.5 384.8,272.1 385.2,271.9 385.8,272.0 386.2,272.3 386.5,273.0 386.4,273.8 386.0,274.2 385.5,274.5Z M425.2,280.8 424.5,280.9 423.8,280.9 423.0,280.8 422.5,280.7 422.0,280.5 421.5,280.2 421.0,280.0 420.5,279.7 420.0,279.4 419.5,279.2 419.0,278.9 418.5,278.7 418.0,278.3 417.6,278.0 417.2,277.5 417.0,277.1 416.8,276.5 416.7,276.0 416.7,275.2 416.8,274.7 417.0,274.0 417.2,273.5 417.5,273.0 417.8,272.6 418.1,272.2 418.5,271.8 418.9,271.5 419.3,271.2 419.8,271.0 420.5,270.8 421.0,270.7 421.5,270.8 422.2,270.9 422.8,271.0 423.3,271.2 423.8,271.5 424.2,271.8 424.8,272.0 425.2,272.3 425.8,272.5 426.3,272.8 426.8,273.0 427.2,273.4 427.5,273.8 427.8,274.3 427.9,275.0 427.9,275.8 427.9,276.5 427.8,277.2 427.8,277.8 427.6,278.5 427.5,279.0 427.2,279.5 426.8,280.0 426.5,280.3 426.0,280.5 425.3,280.8Z M385.5,275.3 385.0,275.2 384.4,275.0 384.0,274.6 383.7,274.2 383.4,273.8 383.2,273.2 383.2,272.7 383.5,272.2 384.0,271.8 384.4,271.5 385.0,271.3 385.5,271.2 386.0,271.2 386.6,271.5 387.0,271.9 387.2,272.5 387.2,273.2 387.0,274.0 386.8,274.5 386.5,274.8 386.0,275.1 385.5,275.3Z M424.8,281.3 424.0,281.3 423.5,281.2 422.8,281.1 422.2,281.0 421.6,280.8 421.1,280.5 420.6,280.2 420.2,280.0 419.7,279.8 419.2,279.5 418.8,279.2 418.2,279.0 417.8,278.6 417.4,278.2 417.0,277.8 416.8,277.3 416.5,276.8 416.4,276.2 416.4,275.5 416.4,274.8 416.6,274.2 416.8,273.7 417.0,273.2 417.3,272.8 417.6,272.2 418.0,271.8 418.3,271.5 418.8,271.1 419.2,270.8 419.8,270.6 420.2,270.4 421.0,270.3 421.8,270.3 422.5,270.5 423.0,270.6 423.5,270.8 424.0,271.1 424.5,271.3 425.0,271.5 425.5,271.8 426.0,272.0 426.5,272.2 427.0,272.5 427.5,273.0 427.8,273.3 428.0,273.8 428.2,274.5 428.3,275.0 428.3,275.8 428.3,276.5 428.2,277.0 428.1,277.8 428.0,278.5 427.9,279.0 427.8,279.5 427.5,280.0 427.0,280.5 426.6,280.8 426.0,281.0 425.5,281.1 424.8,281.2Z M385.8,275.8 385.0,275.9 384.5,275.7 384.0,275.5 383.5,275.1 383.2,274.8 382.9,274.2 382.6,273.8 382.5,273.2 382.5,272.8 382.8,272.2 383.1,271.8 383.5,271.4 384.0,271.2 384.5,270.9 385.1,270.8 385.8,270.7 386.5,270.7 387.0,270.9 387.4,271.2 387.7,271.8 387.9,272.2 387.9,273.0 387.8,273.7 387.5,274.2 387.3,274.8 387.0,275.1 386.5,275.5 386.0,275.7Z M426.0,281.5 425.2,281.7 424.5,281.7 423.8,281.7 423.0,281.6 422.5,281.5 421.8,281.2 421.2,281.0 420.8,280.8 420.2,280.5 419.8,280.2 419.3,280.0 418.8,279.8 418.4,279.5 418.0,279.2 417.5,278.9 417.1,278.5 416.8,278.0 416.5,277.6 416.2,277.0 416.1,276.5 416.0,275.8 416.1,275.0 416.2,274.3 416.4,273.8 416.6,273.2 416.9,272.8 417.2,272.2 417.5,271.9 417.8,271.5 418.2,271.1 418.6,270.8 419.0,270.5 419.5,270.2 420.2,270.0 420.8,269.9 421.5,269.9 422.2,270.0 422.8,270.1 423.3,270.2 424.0,270.5 424.5,270.7 425.0,271.0 425.5,271.2 426.0,271.4 426.5,271.6 427.0,271.9 427.5,272.2 427.8,272.5 428.1,273.0 428.4,273.5 428.6,274.0 428.7,274.8 428.7,275.5 428.7,276.2 428.6,277.0 428.5,277.8 428.5,278.4 428.4,279.0 428.2,279.7 428.0,280.2 427.8,280.5 427.2,281.0 426.8,281.2 426.2,281.5Z M385.8,276.3 385.0,276.4 384.2,276.3 383.8,276.1 383.3,275.8 383.0,275.5 382.5,275.0 382.2,274.6 382.0,274.1 381.8,273.5 381.9,272.8 382.0,272.2 382.4,271.8 382.8,271.4 383.2,271.1 383.8,270.8 384.2,270.6 384.8,270.4 385.3,270.2 386.0,270.2 386.8,270.2 387.2,270.4 387.8,270.7 388.0,271.0 388.3,271.5 388.5,272.2 388.5,272.8 388.5,273.2 388.3,274.0 388.0,274.5 387.8,275.0 387.5,275.3 387.0,275.7 386.6,276.0 386.0,276.2Z M426.2,282.0 425.5,282.1 424.8,282.2 424.0,282.1 423.2,282.1 422.8,282.0 422.0,281.8 421.5,281.6 421.0,281.4 420.5,281.2 420.0,280.9 419.5,280.6 419.0,280.4 418.5,280.1 418.0,279.8 417.7,279.5 417.2,279.1 416.9,278.8 416.5,278.3 416.2,277.9 416.0,277.3 415.8,276.8 415.7,276.2 415.7,275.5 415.8,275.0 415.9,274.2 416.1,273.8 416.3,273.2 416.5,272.8 416.8,272.2 417.2,271.8 417.5,271.3 417.8,271.0 418.2,270.6 418.6,270.2 419.0,270.0 419.6,269.8 420.2,269.6 420.8,269.5 421.5,269.5 422.0,269.5 422.8,269.6 423.2,269.8 424.0,270.0 424.5,270.2 425.0,270.4 425.5,270.6 426.0,270.8 426.5,271.1 427.0,271.3 427.5,271.7 427.9,272.0 428.2,272.4 428.5,272.8 428.8,273.3 429.0,274.0 429.0,274.5 429.1,275.2 429.1,276.0 429.0,276.8 429.0,277.5 429.0,278.0 429.0,278.8 428.9,279.5 428.7,280.0 428.5,280.5 428.1,281.0 427.8,281.3 427.2,281.7 426.8,281.9 426.2,282.0Z M385.8,276.8 385.0,276.8 384.2,276.8 383.8,276.7 383.2,276.5 382.7,276.2 382.2,275.9 381.9,275.5 381.6,275.0 381.3,274.5 381.2,274.0 381.1,273.2 381.2,272.7 381.5,272.1 381.8,271.8 382.2,271.3 382.6,271.0 383.0,270.7 383.5,270.5 384.0,270.2 384.6,270.0 385.2,269.8 385.8,269.7 386.5,269.7 387.1,269.8 387.8,270.0 388.1,270.2 388.5,270.6 388.8,271.0 389.0,271.5 389.2,272.2 389.2,273.0 389.0,273.8 388.8,274.2 388.6,274.8 388.2,275.2 388.0,275.5 387.5,276.0 387.1,276.2 386.6,276.5 386.0,276.7Z M385.5,277.3 384.8,277.3 384.0,277.3 383.5,277.2 382.8,277.0 382.2,276.8 381.8,276.6 381.4,276.2 381.0,275.8 380.8,275.2 380.6,274.8 380.5,274.0 380.5,273.5 380.6,273.0 380.8,272.4 381.0,271.9 381.3,271.5 381.8,271.1 382.2,270.8 382.6,270.5 383.0,270.2 383.5,270.0 384.1,269.8 384.8,269.5 385.2,269.4 386.0,269.3 386.5,269.2 387.0,269.3 387.8,269.4 388.2,269.7 388.7,270.0 389.0,270.3 389.3,270.8 389.6,271.2 389.8,271.8 389.9,272.5 389.9,273.2 389.8,273.9 389.5,274.5 389.2,275.0 389.0,275.3 388.6,275.8 388.2,276.1 387.8,276.4 387.2,276.7 386.8,276.9 386.2,277.1 385.6,277.2Z M426.8,282.5 426.0,282.7 425.2,282.7 424.5,282.7 423.8,282.6 423.0,282.5 422.5,282.4 422.0,282.2 421.3,282.0 420.8,281.8 420.2,281.6 419.8,281.3 419.2,281.0 418.8,280.8 418.3,280.5 418.0,280.2 417.5,279.9 417.1,279.5 416.8,279.2 416.4,278.8 416.0,278.2 415.8,277.8 415.6,277.2 415.4,276.8 415.4,276.0 415.4,275.2 415.5,274.6 415.6,274.0 415.8,273.5 416.0,273.0 416.3,272.5 416.6,272.0 416.9,271.5 417.2,271.1 417.5,270.7 418.0,270.2 418.3,270.0 418.8,269.7 419.2,269.4 419.8,269.2 420.5,269.1 421.2,269.1 422.0,269.1 422.8,269.2 423.2,269.3 424.0,269.5 424.5,269.6 425.0,269.8 425.5,270.0 426.0,270.2 426.5,270.5 427.0,270.8 427.5,271.0 428.0,271.4 428.4,271.8 428.7,272.2 429.0,272.7 429.2,273.2 429.3,273.8 429.5,274.5 429.5,275.2 429.5,276.0 429.5,276.8 429.5,277.5 429.5,278.0 429.5,278.8 429.5,279.3 429.4,280.0 429.2,280.5 428.9,281.0 428.5,281.5 428.2,281.8 427.8,282.1 427.2,282.3 426.8,282.5Z M426.5,283.3 425.8,283.4 425.0,283.4 424.2,283.3 423.8,283.2 423.0,283.0 422.5,282.9 422.0,282.8 421.2,282.5 420.8,282.3 420.2,282.1 419.8,281.9 419.2,281.6 418.8,281.4 418.2,281.0 417.8,280.8 417.5,280.5 417.0,280.0 416.7,279.8 416.3,279.2 416.0,278.9 415.7,278.5 415.4,278.0 415.2,277.5 415.0,276.8 415.0,276.2 415.0,275.5 415.0,275.0 415.2,274.2 415.3,273.8 415.5,273.2 415.8,272.8 416.0,272.2 416.3,271.8 416.6,271.2 417.0,270.8 417.2,270.4 417.6,270.0 418.0,269.7 418.5,269.3 419.0,269.1 419.5,268.9 420.2,268.8 420.8,268.7 421.5,268.7 422.2,268.7 422.8,268.8 423.5,268.9 424.2,269.0 424.8,269.2 425.2,269.3 425.8,269.5 426.2,269.8 426.8,270.0 427.2,270.3 427.8,270.6 428.2,271.0 428.6,271.2 429.0,271.8 429.2,272.2 429.5,272.7 429.7,273.2 429.8,273.8 429.9,274.5 429.9,275.2 430.0,276.0 430.0,276.8 430.0,277.2 430.1,278.0 430.1,278.8 430.1,279.5 430.0,280.0 429.8,280.6 429.5,281.1 429.2,281.5 428.8,282.0 428.5,282.3 428.0,282.6 427.5,282.9 427.0,283.1 426.5,283.3Z M385.2,277.8 384.5,277.8 383.8,277.8 383.0,277.8 382.5,277.7 381.8,277.5 381.3,277.2 380.9,277.0 380.5,276.5 380.2,276.1 380.0,275.5 379.9,275.0 379.9,274.2 379.9,273.5 380.0,272.8 380.2,272.2 380.5,271.8 380.8,271.4 381.1,271.0 381.5,270.7 382.0,270.3 382.5,270.0 383.0,269.8 383.5,269.6 384.0,269.4 384.5,269.2 385.1,269.0 385.8,268.9 386.5,268.8 387.2,268.8 388.0,269.0 388.5,269.2 388.9,269.5 389.2,269.8 389.7,270.2 390.0,270.7 390.2,271.2 390.5,271.8 390.6,272.2 390.6,273.0 390.6,273.8 390.4,274.2 390.2,274.8 390.0,275.2 389.6,275.8 389.2,276.1 388.8,276.4 388.3,276.8 387.8,277.0 387.2,277.2 386.8,277.4 386.2,277.6 385.5,277.7Z M386.0,278.8 385.2,278.9 384.5,279.0 383.8,279.0 383.0,279.0 382.2,279.0 381.5,278.9 380.8,278.8 380.2,278.5 379.9,278.2 379.5,277.8 379.2,277.4 379.0,276.8 378.8,276.2 378.7,275.8 378.6,275.0 378.6,274.2 378.6,273.5 378.8,272.8 378.9,272.2 379.1,271.8 379.4,271.2 379.8,270.8 380.1,270.5 380.5,270.1 381.0,269.8 381.5,269.5 382.0,269.3 382.5,269.0 383.0,268.8 383.5,268.6 384.0,268.5 384.7,268.2 385.2,268.1 385.8,268.0 386.5,267.9 387.2,268.0 387.8,268.0 388.5,268.2 389.0,268.5 389.5,268.7 390.0,269.0 390.3,269.2 390.8,269.7 391.0,270.0 391.4,270.5 391.6,271.0 391.8,271.5 392.0,272.2 392.0,272.8 392.0,273.2 391.9,274.0 391.8,274.6 391.5,275.2 391.3,275.8 391.0,276.2 390.8,276.7 390.4,277.0 390.0,277.4 389.5,277.6 389.0,277.8 388.5,278.0 387.8,278.2 387.2,278.4 386.8,278.6 386.1,278.8Z M426.5,284.8 425.8,284.9 425.0,284.9 424.2,284.8 423.8,284.6 423.2,284.5 422.6,284.2 422.0,284.1 421.5,283.9 421.0,283.7 420.3,283.5 419.8,283.3 419.2,283.1 418.8,282.8 418.2,282.5 417.8,282.2 417.5,282.0 417.0,281.5 416.8,281.2 416.3,280.8 416.0,280.4 415.7,280.0 415.3,279.5 415.0,279.1 414.8,278.7 414.5,278.2 414.2,277.6 414.1,277.0 414.0,276.2 414.0,275.5 414.2,274.8 414.3,274.2 414.5,273.6 414.7,273.0 415.0,272.5 415.2,272.0 415.5,271.5 415.8,271.0 416.0,270.6 416.2,270.2 416.6,269.8 417.0,269.3 417.3,269.0 417.8,268.7 418.2,268.4 418.8,268.2 419.4,268.0 420.0,267.9 420.8,267.8 421.5,267.8 422.2,267.8 423.0,267.8 423.8,267.8 424.5,267.9 425.0,268.1 425.6,268.2 426.2,268.5 426.8,268.7 427.2,269.0 427.7,269.2 428.1,269.5 428.5,269.8 429.0,270.2 429.3,270.5 429.7,271.0 430.0,271.5 430.2,272.0 430.4,272.5 430.6,273.0 430.7,273.8 430.8,274.2 430.9,275.0 431.0,275.5 431.1,276.2 431.2,277.0 431.3,277.5 431.3,278.2 431.3,279.0 431.2,279.5 431.0,280.2 430.8,280.8 430.6,281.2 430.3,281.8 430.0,282.2 429.8,282.6 429.4,283.0 429.0,283.4 428.6,283.8 428.2,284.0 427.8,284.3 427.2,284.5 426.7,284.8Z M425.0,287.5 424.2,287.6 423.5,287.7 422.8,287.7 422.0,287.7 421.2,287.7 420.6,287.5 420.0,287.3 419.5,287.0 419.1,286.8 418.8,286.5 418.2,286.1 417.8,285.8 417.5,285.5 417.0,285.0 416.7,284.8 416.3,284.2 416.0,283.8 415.8,283.4 415.5,283.0 415.2,282.5 415.0,282.0 414.7,281.5 414.5,281.0 414.2,280.5 413.8,280.0 413.5,279.5 413.2,279.1 413.0,278.7 412.8,278.2 412.5,277.5 412.4,277.0 412.3,276.2 412.4,275.5 412.5,274.9 412.7,274.2 412.8,273.8 413.0,273.2 413.3,272.8 413.5,272.2 413.8,271.7 414.0,271.2 414.3,270.8 414.6,270.2 414.9,269.8 415.2,269.3 415.5,269.0 415.9,268.5 416.2,268.2 416.8,267.8 417.2,267.5 417.7,267.2 418.2,267.1 418.8,266.9 419.5,266.8 420.0,266.7 420.8,266.6 421.5,266.5 422.0,266.5 422.8,266.4 423.5,266.3 424.2,266.4 425.0,266.4 425.5,266.5 426.2,266.8 426.8,267.0 427.2,267.2 427.8,267.5 428.2,267.8 428.6,268.0 429.0,268.3 429.5,268.6 429.9,269.0 430.2,269.4 430.6,269.8 430.9,270.2 431.2,270.8 431.4,271.2 431.6,271.8 431.8,272.2 432.0,272.9 432.2,273.5 432.3,274.0 432.5,274.7 432.6,275.2 432.7,276.0 432.8,276.5 432.8,277.2 432.8,278.0 432.7,278.5 432.6,279.2 432.5,279.8 432.2,280.5 432.1,281.0 431.9,281.5 431.7,282.0 431.4,282.5 431.2,283.0 430.8,283.5 430.5,284.0 430.2,284.3 429.8,284.8 429.5,285.0 429.0,285.5 428.6,285.8 428.2,286.0 427.8,286.4 427.2,286.7 426.8,286.9 426.2,287.1 425.8,287.3 425.1,287.5Z M385.8,280.8 385.0,280.8 384.2,280.8 383.8,280.7 383.0,280.7 382.5,280.8 381.8,280.9 381.0,280.9 380.2,280.9 379.5,280.8 379.0,280.5 378.7,280.2 378.3,279.8 378.0,279.2 377.8,278.8 377.6,278.2 377.4,277.8 377.2,277.2 377.0,276.6 376.8,276.0 376.7,275.5 376.6,274.8 376.6,274.0 376.7,273.2 376.8,272.8 377.0,272.0 377.1,271.5 377.3,271.0 377.6,270.5 377.9,270.0 378.2,269.7 378.8,269.3 379.2,269.0 379.7,268.8 380.2,268.5 380.8,268.3 381.2,268.1 381.8,268.0 382.4,267.8 383.0,267.6 383.5,267.4 384.0,267.2 384.8,267.0 385.2,266.9 386.0,266.8 386.8,266.8 387.5,266.9 388.0,267.0 388.8,267.2 389.2,267.4 389.8,267.6 390.2,267.8 390.8,268.0 391.2,268.3 391.8,268.7 392.2,269.0 392.5,269.3 392.9,269.8 393.2,270.2 393.5,270.8 393.6,271.2 393.8,271.8 393.8,272.5 393.8,273.1 393.6,273.8 393.5,274.2 393.2,275.0 393.1,275.5 392.9,276.0 392.7,276.5 392.5,277.1 392.2,277.6 392.0,278.1 391.7,278.5 391.2,279.0 390.9,279.2 390.5,279.5 389.9,279.8 389.2,280.0 388.8,280.1 388.2,280.3 387.5,280.5 387.0,280.6 386.2,280.7 385.8,280.8Z M422.2,291.3 421.8,291.2 421.0,291.0 420.5,290.8 420.0,290.5 419.6,290.2 419.2,290.0 418.8,289.6 418.2,289.3 417.9,289.0 417.5,288.8 417.0,288.4 416.5,288.0 416.1,287.8 415.8,287.4 415.4,287.0 415.0,286.6 414.8,286.2 414.4,285.8 414.1,285.2 413.9,284.8 413.7,284.2 413.5,283.5 413.4,283.0 413.2,282.5 413.0,281.8 412.8,281.2 412.5,280.8 412.2,280.4 412.0,280.0 411.7,279.5 411.4,279.0 411.1,278.5 411.0,278.0 410.8,277.2 410.7,276.8 410.6,276.0 410.7,275.2 410.8,274.8 411.0,274.0 411.1,273.5 411.3,273.0 411.6,272.5 411.8,272.0 412.0,271.5 412.2,270.9 412.5,270.5 412.8,270.0 413.2,269.5 413.5,269.2 413.9,268.8 414.2,268.4 414.7,268.0 415.0,267.7 415.5,267.3 415.9,267.0 416.3,266.8 416.8,266.5 417.2,266.2 417.8,266.0 418.5,265.8 419.0,265.7 419.8,265.6 420.3,265.5 421.0,265.4 421.8,265.3 422.2,265.2 423.0,265.1 423.8,265.1 424.5,265.1 425.2,265.2 425.8,265.3 426.4,265.5 427.0,265.7 427.5,265.9 428.0,266.2 428.5,266.4 429.0,266.7 429.4,267.0 429.8,267.2 430.2,267.6 430.7,268.0 431.0,268.4 431.3,268.8 431.7,269.2 431.9,269.8 432.2,270.2 432.4,270.8 432.7,271.2 432.9,271.8 433.1,272.2 433.3,272.8 433.5,273.2 433.8,273.9 433.9,274.5 434.0,275.0 434.1,275.8 434.1,276.5 434.1,277.2 434.0,277.9 433.9,278.5 433.8,279.1 433.6,279.8 433.4,280.2 433.2,280.8 433.0,281.5 432.8,282.0 432.7,282.5 432.5,283.1 432.2,283.7 432.0,284.2 431.8,284.6 431.4,285.0 431.0,285.5 430.8,285.8 430.2,286.2 430.0,286.5 429.5,286.9 429.1,287.2 428.8,287.6 428.2,288.0 427.9,288.2 427.5,288.5 427.0,288.8 426.5,289.0 426.0,289.3 425.5,289.6 425.0,290.0 424.6,290.2 424.2,290.5 423.8,290.8 423.2,291.1 422.5,291.2Z M386.5,282.8 385.8,282.8 385.0,282.8 384.5,282.7 383.8,282.7 383.0,282.7 382.2,282.7 381.8,282.8 381.0,282.9 380.2,282.9 379.5,282.9 378.9,282.8 378.2,282.5 377.8,282.2 377.5,282.0 377.0,281.6 376.7,281.2 376.4,280.8 376.1,280.2 375.8,279.8 375.6,279.2 375.3,278.8 375.0,278.2 374.8,277.9 374.4,277.5 374.0,277.1 373.7,276.8 373.3,276.2 373.1,275.8 373.2,275.0 373.4,274.5 373.7,274.0 374.0,273.5 374.2,273.1 374.5,272.7 374.8,272.2 375.0,271.5 375.1,271.0 375.3,270.5 375.5,270.0 375.8,269.5 376.1,269.0 376.5,268.7 377.0,268.4 377.5,268.1 378.0,267.9 378.5,267.7 379.2,267.5 379.8,267.4 380.2,267.2 381.0,267.1 381.5,266.9 382.2,266.8 382.8,266.6 383.2,266.4 383.9,266.2 384.5,266.1 385.0,266.0 385.8,265.8 386.5,265.8 387.2,265.9 387.8,266.0 388.5,266.2 389.0,266.4 389.5,266.5 390.1,266.8 390.8,267.0 391.2,267.2 391.8,267.4 392.2,267.7 392.7,268.0 393.1,268.2 393.5,268.6 393.9,269.0 394.2,269.5 394.5,269.8 394.8,270.2 395.0,270.8 395.3,271.2 395.5,272.0 395.5,272.5 395.5,273.0 395.3,273.8 395.1,274.2 394.9,274.8 394.7,275.2 394.5,275.8 394.2,276.3 394.0,277.0 393.8,277.5 393.6,278.0 393.4,278.5 393.2,279.0 392.9,279.5 392.6,280.0 392.2,280.4 391.8,280.8 391.5,281.0 391.0,281.3 390.5,281.6 390.0,281.8 389.5,282.0 388.8,282.2 388.2,282.4 387.8,282.5 387.0,282.7 386.5,282.8Z M422.8,293.5 422.0,293.5 421.5,293.4 421.0,293.2 420.5,292.9 420.0,292.5 419.6,292.2 419.2,292.0 418.8,291.6 418.2,291.3 417.8,291.0 417.4,290.8 416.9,290.5 416.3,290.2 415.8,290.0 415.4,289.8 415.0,289.5 414.5,289.0 414.2,288.8 413.8,288.2 413.5,287.8 413.2,287.5 413.0,287.0 412.7,286.5 412.5,286.0 412.2,285.5 412.0,284.8 411.9,284.2 411.8,283.6 411.6,283.0 411.5,282.5 411.2,281.9 411.0,281.4 410.8,280.9 410.5,280.5 410.2,280.0 409.9,279.5 409.7,279.0 409.5,278.3 409.4,277.8 409.3,277.0 409.2,276.5 409.2,275.8 409.2,275.0 409.3,274.5 409.4,273.8 409.6,273.2 409.8,272.7 410.0,272.0 410.1,271.5 410.3,271.0 410.5,270.4 410.8,269.9 411.0,269.5 411.4,269.0 411.8,268.7 412.2,268.3 412.6,268.0 413.0,267.7 413.5,267.4 414.0,267.0 414.4,266.8 414.8,266.5 415.2,266.1 415.8,265.8 416.2,265.5 416.7,265.2 417.2,265.0 417.8,264.8 418.2,264.7 419.0,264.5 419.5,264.4 420.2,264.3 420.8,264.2 421.5,264.1 422.2,264.0 422.8,263.9 423.5,263.9 424.2,263.9 424.8,264.0 425.5,264.1 426.0,264.3 426.7,264.5 427.2,264.7 427.8,264.9 428.2,265.1 428.8,265.4 429.2,265.6 429.8,265.9 430.2,266.2 430.6,266.5 431.0,266.8 431.4,267.2 431.8,267.6 432.1,268.0 432.4,268.5 432.7,269.0 433.0,269.5 433.2,270.0 433.5,270.5 433.8,271.0 434.0,271.4 434.2,271.9 434.5,272.4 434.8,272.9 435.0,273.5 435.1,274.0 435.2,274.6 435.3,275.2 435.3,276.0 435.3,276.8 435.2,277.2 435.1,278.0 435.0,278.5 434.8,279.2 434.6,279.8 434.5,280.2 434.2,280.9 434.1,281.5 434.0,282.0 433.8,282.8 433.7,283.2 433.5,283.9 433.3,284.5 433.0,285.0 432.8,285.4 432.5,285.8 432.1,286.2 431.8,286.6 431.4,287.0 431.0,287.5 430.7,287.8 430.3,288.2 430.0,288.6 429.7,289.0 429.2,289.4 428.8,289.8 428.3,290.0 427.8,290.2 427.3,290.5 426.8,290.8 426.4,291.0 426.0,291.3 425.5,291.8 425.2,292.0 424.8,292.4 424.4,292.8 424.0,293.0 423.5,293.3 422.9,293.5Z M387.8,285.8 387.0,285.8 386.5,285.8 385.8,285.7 385.0,285.6 384.5,285.5 383.8,285.3 383.2,285.2 382.7,285.0 382.0,284.9 381.3,284.8 380.8,284.7 380.0,284.6 379.5,284.5 378.8,284.3 378.2,284.2 377.7,284.0 377.1,283.8 376.6,283.5 376.1,283.2 375.7,283.0 375.2,282.7 374.8,282.4 374.2,282.2 373.8,281.9 373.2,281.5 372.9,281.2 372.5,280.8 372.2,280.4 372.0,280.0 371.8,279.5 371.5,279.0 371.2,278.5 371.0,278.0 370.7,277.5 370.5,277.0 370.2,276.5 370.1,275.8 370.2,275.0 370.5,274.5 370.8,274.2 371.1,273.8 371.5,273.4 371.8,273.0 372.2,272.5 372.5,272.2 372.8,271.8 373.0,271.2 373.2,270.7 373.5,270.1 373.8,269.5 374.0,269.1 374.3,268.8 374.7,268.2 375.0,268.0 375.5,267.7 376.0,267.4 376.5,267.2 377.0,267.0 377.8,266.8 378.2,266.7 379.0,266.5 379.5,266.4 380.2,266.3 380.8,266.2 381.5,266.0 382.0,265.9 382.5,265.7 383.2,265.5 383.8,265.4 384.2,265.2 385.0,265.0 385.5,264.9 386.2,264.9 387.0,265.0 387.5,265.0 388.2,265.2 388.8,265.4 389.2,265.6 389.8,265.8 390.5,266.0 391.0,266.2 391.5,266.4 392.0,266.6 392.5,266.8 393.0,267.1 393.5,267.4 394.0,267.7 394.3,268.0 394.8,268.4 395.1,268.8 395.4,269.2 395.8,269.7 396.0,270.0 396.3,270.5 396.7,271.0 397.0,271.4 397.2,271.8 397.5,272.5 397.4,273.2 397.2,273.8 396.9,274.2 396.7,274.8 396.4,275.2 396.1,275.8 395.9,276.2 395.6,276.8 395.4,277.2 395.2,277.8 395.0,278.5 394.8,279.0 394.6,279.5 394.4,280.0 394.2,280.5 393.9,281.0 393.5,281.5 393.2,281.8 392.8,282.2 392.5,282.5 392.0,282.9 391.6,283.2 391.2,283.6 390.8,284.0 390.5,284.3 390.0,284.7 389.7,285.0 389.2,285.3 388.8,285.6 388.0,285.7Z M422.8,296.1 422.0,296.2 421.2,296.0 420.8,295.8 420.4,295.5 420.0,295.1 419.7,294.8 419.2,294.3 418.9,294.0 418.5,293.6 418.0,293.3 417.6,293.0 417.1,292.8 416.5,292.5 416.0,292.4 415.3,292.2 414.8,292.1 414.2,291.8 413.9,291.5 413.5,291.0 413.2,290.7 413.0,290.2 412.7,289.8 412.4,289.2 412.1,288.8 411.8,288.2 411.6,287.8 411.3,287.2 411.1,286.8 410.9,286.2 410.7,285.8 410.5,285.0 410.4,284.5 410.2,284.0 410.0,283.3 409.8,282.8 409.6,282.2 409.3,281.8 409.1,281.2 408.8,280.8 408.6,280.2 408.4,279.8 408.3,279.0 408.2,278.5 408.1,277.8 408.1,277.0 408.0,276.2 408.0,275.5 408.0,274.8 408.0,274.0 408.1,273.2 408.1,272.5 408.2,272.0 408.5,271.2 408.7,270.8 408.9,270.2 409.2,269.8 409.5,269.3 409.8,268.9 410.1,268.5 410.5,268.1 410.9,267.8 411.2,267.5 411.8,267.1 412.2,266.8 412.8,266.5 413.1,266.2 413.5,266.0 414.0,265.7 414.5,265.3 414.9,265.0 415.3,264.8 415.8,264.4 416.2,264.1 416.8,263.9 417.2,263.6 417.8,263.5 418.5,263.3 419.0,263.2 419.8,263.0 420.2,263.0 421.0,262.9 421.8,262.8 422.5,262.8 423.2,262.8 424.0,262.8 424.8,262.9 425.2,263.0 426.0,263.2 426.5,263.4 427.0,263.6 427.5,263.8 428.0,264.0 428.5,264.2 429.1,264.5 429.6,264.8 430.1,265.0 430.5,265.2 431.0,265.5 431.5,265.9 431.9,266.2 432.2,266.6 432.6,267.0 433.0,267.5 433.2,267.9 433.5,268.3 433.8,268.8 434.0,269.2 434.3,269.8 434.6,270.2 434.9,270.8 435.2,271.2 435.5,271.7 435.8,272.2 436.0,272.7 436.2,273.2 436.4,273.8 436.5,274.5 436.5,275.2 436.5,276.0 436.4,276.8 436.3,277.5 436.2,278.0 436.0,278.8 435.9,279.2 435.7,279.8 435.5,280.4 435.3,281.0 435.2,281.5 435.0,282.2 434.9,282.8 434.8,283.4 434.6,284.0 434.5,284.5 434.2,285.1 434.0,285.6 433.8,286.0 433.4,286.5 433.1,287.0 432.8,287.5 432.5,287.8 432.2,288.2 431.9,288.8 431.7,289.2 431.4,289.8 431.1,290.2 430.8,290.7 430.5,291.0 430.0,291.3 429.5,291.6 429.0,291.8 428.4,292.0 427.8,292.2 427.2,292.5 426.9,292.8 426.5,293.0 426.0,293.5 425.7,293.8 425.2,294.2 425.0,294.5 424.5,295.0 424.2,295.2 423.8,295.6 423.2,295.9 422.8,296.1Z M389.2,290.3 388.5,290.4 387.8,290.2 387.3,290.0 386.9,289.8 386.5,289.5 386.0,289.1 385.5,288.8 385.0,288.6 384.5,288.4 384.0,288.2 383.2,288.0 382.8,287.8 382.2,287.6 381.8,287.4 381.2,287.1 380.8,286.8 380.2,286.6 379.8,286.3 379.2,286.1 378.8,286.0 378.1,285.8 377.5,285.5 377.0,285.4 376.5,285.2 376.0,284.9 375.5,284.7 375.0,284.5 374.4,284.2 373.8,284.0 373.2,283.8 372.8,283.6 372.2,283.4 371.8,283.1 371.2,282.8 370.9,282.5 370.5,282.1 370.1,281.8 369.8,281.3 369.5,281.0 369.1,280.5 368.8,280.0 368.5,279.7 368.1,279.2 367.8,278.8 367.5,278.5 367.2,278.0 367.0,277.5 366.9,276.8 367.0,276.2 367.2,275.6 367.5,275.1 367.8,274.7 368.1,274.2 368.5,273.8 368.8,273.5 369.2,273.1 369.7,272.8 370.0,272.5 370.5,272.0 370.8,271.7 371.0,271.2 371.3,270.8 371.5,270.2 371.8,269.7 372.0,269.2 372.4,268.8 372.8,268.3 373.1,268.0 373.5,267.7 374.0,267.3 374.5,267.0 374.9,266.8 375.5,266.5 376.0,266.3 376.5,266.2 377.1,266.0 377.8,265.9 378.5,265.8 379.0,265.7 379.8,265.5 380.2,265.4 381.0,265.3 381.5,265.1 382.0,265.0 382.8,264.8 383.2,264.6 383.8,264.5 384.5,264.3 385.0,264.2 385.8,264.1 386.5,264.0 387.2,264.1 387.9,264.2 388.5,264.4 389.0,264.6 389.5,264.8 390.1,265.0 390.8,265.2 391.2,265.4 391.8,265.6 392.2,265.8 392.8,266.0 393.3,266.2 393.8,266.5 394.2,266.8 394.8,267.2 395.1,267.5 395.5,267.8 395.9,268.2 396.2,268.7 396.5,269.0 396.9,269.5 397.2,269.9 397.7,270.2 398.0,270.5 398.5,270.8 399.0,271.0 399.7,271.2 400.2,271.4 400.9,271.5 401.5,271.7 401.9,272.0 401.6,272.5 401.2,272.8 400.6,273.0 400.1,273.2 399.7,273.5 399.2,273.9 398.9,274.2 398.5,274.8 398.2,275.2 398.0,275.7 397.8,276.2 397.5,276.7 397.3,277.2 397.1,277.8 396.9,278.2 396.8,278.9 396.6,279.5 396.5,280.0 396.3,280.8 396.1,281.2 395.9,281.8 395.6,282.2 395.2,282.7 395.0,283.0 394.5,283.5 394.2,283.8 393.8,284.2 393.5,284.6 393.2,285.0 392.9,285.5 392.7,286.0 392.5,286.7 392.3,287.2 392.1,287.8 391.8,288.2 391.5,288.6 391.1,289.0 390.8,289.4 390.3,289.8 389.9,290.0 389.3,290.2Z M422.5,298.0 421.8,298.1 421.0,298.0 420.5,297.9 420.0,297.7 419.5,297.4 419.1,297.0 418.8,296.7 418.2,296.3 417.9,296.0 417.5,295.7 417.0,295.5 416.3,295.2 415.8,295.1 415.2,294.9 414.8,294.7 414.2,294.4 413.8,294.0 413.4,293.8 413.0,293.2 412.8,292.9 412.5,292.5 412.2,292.0 411.9,291.5 411.7,291.0 411.5,290.5 411.2,290.0 411.0,289.5 410.7,289.0 410.5,288.5 410.2,288.0 410.0,287.4 409.8,286.8 409.6,286.2 409.4,285.8 409.2,285.2 409.0,284.7 408.8,284.1 408.5,283.5 408.3,283.0 408.0,282.5 407.8,282.0 407.5,281.5 407.3,281.0 407.2,280.5 407.1,279.8 407.0,279.1 407.0,278.5 407.0,277.8 407.0,277.0 406.9,276.2 406.9,275.5 406.8,274.8 406.6,274.2 406.4,273.8 406.0,273.3 405.5,273.2 404.8,273.2 404.2,273.3 403.7,273.5 403.0,273.7 402.5,273.9 402.0,274.1 401.5,274.3 401.0,274.5 400.5,274.8 400.1,275.2 399.8,275.7 399.5,276.2 399.3,276.8 399.2,277.2 399.0,277.9 398.9,278.5 398.8,279.2 398.7,279.8 398.5,280.5 398.4,281.0 398.2,281.5 398.0,282.1 397.8,282.7 397.5,283.2 397.2,283.7 397.0,284.1 396.7,284.5 396.3,285.0 396.0,285.4 395.7,285.8 395.4,286.2 395.2,286.8 395.0,287.2 394.8,287.8 394.5,288.5 394.2,288.9 394.0,289.3 393.5,289.8 393.2,290.0 392.8,290.3 392.2,290.6 391.8,290.9 391.2,291.2 390.8,291.5 390.2,291.7 389.8,291.9 389.0,292.0 388.5,292.0 388.0,292.0 387.2,291.8 386.8,291.6 386.2,291.4 385.8,291.1 385.2,290.9 384.8,290.6 384.2,290.3 383.8,290.1 383.2,289.9 382.8,289.7 382.0,289.5 381.5,289.3 381.0,289.1 380.5,288.8 380.0,288.5 379.5,288.2 379.0,288.0 378.5,287.8 378.0,287.6 377.5,287.4 376.9,287.2 376.2,287.0 375.8,286.8 375.2,286.6 374.8,286.4 374.2,286.1 373.8,285.9 373.2,285.6 372.8,285.4 372.2,285.1 371.8,284.9 371.2,284.6 370.8,284.3 370.2,284.0 369.9,283.8 369.5,283.5 369.0,283.0 368.7,282.8 368.2,282.4 367.8,282.0 367.5,281.7 367.0,281.2 366.8,281.0 366.2,280.5 366.0,280.2 365.5,279.8 365.2,279.5 365.0,279.0 364.8,278.5 364.7,277.8 364.8,277.2 365.0,276.6 365.2,276.0 365.5,275.5 365.8,275.1 366.0,274.6 366.2,274.2 366.6,273.8 367.0,273.2 367.2,273.0 367.7,272.5 368.0,272.2 368.5,271.8 368.8,271.5 369.2,271.0 369.5,270.6 369.8,270.2 370.0,269.7 370.2,269.2 370.5,268.7 370.9,268.2 371.2,267.9 371.7,267.5 372.1,267.2 372.5,267.0 373.0,266.7 373.5,266.4 374.0,266.1 374.5,265.9 375.0,265.7 375.6,265.5 376.2,265.3 376.8,265.2 377.5,265.1 378.0,265.0 378.8,264.9 379.4,264.8 380.0,264.6 380.5,264.5 381.2,264.3 381.8,264.2 382.5,264.0 383.0,263.9 383.5,263.7 384.2,263.5 384.8,263.4 385.5,263.3 386.0,263.2 386.8,263.2 387.3,263.2 388.0,263.4 388.5,263.6 389.0,263.8 389.7,264.0 390.2,264.2 390.8,264.4 391.2,264.6 391.8,264.8 392.3,265.0 393.0,265.2 393.5,265.5 394.0,265.7 394.5,266.0 394.9,266.2 395.2,266.5 395.8,266.9 396.1,267.2 396.5,267.7 396.8,268.0 397.2,268.5 397.5,268.8 398.0,269.2 398.3,269.5 398.8,269.8 399.5,270.0 400.0,270.1 400.8,270.2 401.2,270.3 402.0,270.4 402.8,270.5 403.2,270.6 404.0,270.7 404.5,270.8 405.2,270.9 406.0,270.9 406.5,270.7 407.0,270.4 407.5,270.0 407.8,269.7 408.1,269.2 408.5,268.8 408.8,268.5 409.2,268.0 409.5,267.6 409.9,267.2 410.2,267.0 410.8,266.6 411.2,266.2 411.6,266.0 412.0,265.8 412.5,265.4 413.0,265.1 413.5,264.8 413.8,264.5 414.2,264.1 414.8,263.8 415.1,263.5 415.5,263.2 416.0,262.9 416.5,262.6 417.0,262.4 417.5,262.2 418.2,262.0 418.8,261.9 419.5,261.8 420.0,261.7 420.8,261.6 421.5,261.6 422.2,261.6 423.0,261.7 423.8,261.7 424.2,261.8 425.0,262.0 425.5,262.1 426.0,262.2 426.7,262.5 427.2,262.7 427.8,262.9 428.2,263.1 428.8,263.4 429.2,263.6 429.8,263.8 430.2,264.0 430.8,264.3 431.2,264.6 431.8,264.9 432.2,265.2 432.5,265.5 433.0,266.0 433.2,266.3 433.6,266.8 434.0,267.2 434.2,267.7 434.5,268.1 434.8,268.5 435.0,269.0 435.4,269.5 435.7,270.0 436.0,270.5 436.2,270.9 436.5,271.3 436.8,271.8 437.0,272.2 437.2,272.9 437.4,273.5 437.5,274.1 437.6,274.8 437.6,275.5 437.6,276.2 437.5,276.8 437.4,277.5 437.3,278.2 437.2,278.8 437.0,279.3 436.8,280.0 436.6,280.5 436.5,281.0 436.2,281.7 436.1,282.2 436.0,282.8 435.8,283.5 435.7,284.0 435.5,284.6 435.3,285.2 435.1,285.8 434.9,286.2 434.6,286.8 434.3,287.2 434.1,287.8 433.8,288.2 433.6,288.8 433.4,289.2 433.2,289.8 433.0,290.3 432.8,290.8 432.5,291.3 432.2,291.8 431.8,292.2 431.5,292.5 431.0,293.0 430.6,293.2 430.1,293.5 429.6,293.8 429.1,294.0 428.5,294.2 428.1,294.5 427.7,294.8 427.2,295.1 426.8,295.5 426.4,295.8 426.0,296.1 425.5,296.5 425.2,296.8 424.8,297.1 424.2,297.4 423.8,297.7 423.2,297.8 422.7,298.0Z M422.5,299.5 421.8,299.6 421.0,299.6 420.2,299.5 419.8,299.4 419.2,299.2 418.8,299.0 418.2,298.7 417.8,298.3 417.3,298.0 416.9,297.8 416.3,297.5 415.8,297.3 415.2,297.2 414.7,297.0 414.2,296.8 413.8,296.4 413.3,296.0 413.0,295.6 412.7,295.2 412.4,294.8 412.0,294.2 411.8,293.8 411.5,293.3 411.2,292.9 411.0,292.4 410.8,291.8 410.5,291.3 410.2,290.8 410.0,290.3 409.8,289.8 409.5,289.2 409.3,288.8 409.1,288.2 408.9,287.8 408.7,287.2 408.5,286.7 408.2,286.0 408.0,285.5 407.8,285.0 407.6,284.5 407.3,284.0 407.0,283.5 406.8,283.0 406.5,282.6 406.2,282.1 406.0,281.5 405.9,281.0 405.8,280.2 405.7,279.8 405.7,279.0 405.8,278.5 405.8,277.8 405.8,277.0 405.8,276.2 405.7,275.8 405.5,275.2 405.0,274.8 404.5,274.7 403.8,274.7 403.2,274.8 402.8,275.0 402.2,275.3 401.8,275.6 401.4,276.0 401.2,276.5 401.0,277.0 400.8,277.8 400.7,278.2 400.7,279.0 400.7,279.8 400.5,280.5 400.4,281.0 400.2,281.5 400.0,282.0 399.7,282.5 399.5,283.0 399.2,283.5 399.0,284.0 398.8,284.5 398.5,285.0 398.2,285.5 397.9,286.0 397.5,286.5 397.2,286.9 397.0,287.4 396.8,287.9 396.5,288.4 396.2,289.0 396.0,289.5 395.8,289.9 395.5,290.3 395.1,290.8 394.8,291.0 394.2,291.3 393.8,291.6 393.2,291.8 392.8,292.0 392.2,292.2 391.6,292.5 391.0,292.8 390.5,292.9 390.0,293.0 389.2,293.1 388.5,293.1 387.8,293.0 387.2,293.0 386.5,292.8 386.0,292.6 385.5,292.5 385.0,292.2 384.5,292.0 384.0,291.7 383.5,291.5 382.8,291.2 382.2,291.1 381.8,290.9 381.2,290.7 380.5,290.5 380.0,290.3 379.5,290.2 379.0,290.0 378.2,289.8 377.8,289.7 377.0,289.6 376.5,289.5 375.8,289.4 375.1,289.2 374.5,289.1 374.0,288.8 373.5,288.6 373.1,288.2 372.8,288.0 372.2,287.6 371.8,287.2 371.5,287.0 371.0,286.6 370.5,286.3 370.0,286.0 369.6,285.8 369.2,285.5 368.8,285.2 368.2,284.8 367.8,284.5 367.4,284.2 367.0,284.0 366.5,283.6 366.0,283.2 365.8,283.0 365.3,282.5 365.0,282.1 364.7,281.8 364.3,281.2 364.0,280.8 363.8,280.4 363.5,279.9 363.2,279.3 363.1,278.8 363.1,278.0 363.2,277.3 363.5,276.8 363.8,276.3 364.0,275.8 364.2,275.4 364.5,275.0 364.8,274.5 365.1,274.0 365.3,273.5 365.6,273.0 366.0,272.5 366.2,272.2 366.6,271.8 367.0,271.3 367.3,271.0 367.8,270.5 368.0,270.2 368.3,269.8 368.6,269.2 368.9,268.8 369.2,268.2 369.5,267.9 369.9,267.5 370.2,267.2 370.8,266.8 371.2,266.5 371.7,266.2 372.2,266.0 372.7,265.8 373.2,265.5 373.7,265.2 374.2,265.0 374.8,264.9 375.2,264.7 376.0,264.5 376.5,264.4 377.2,264.3 377.8,264.2 378.5,264.1 379.0,264.0 379.8,263.8 380.2,263.7 381.0,263.5 381.5,263.4 382.0,263.2 382.8,263.1 383.2,263.0 384.0,262.8 384.5,262.7 385.2,262.5 385.8,262.4 386.5,262.4 387.2,262.4 387.8,262.5 388.5,262.7 389.0,262.9 389.5,263.1 390.0,263.3 390.5,263.5 391.2,263.8 391.8,264.0 392.2,264.2 392.8,264.3 393.2,264.5 393.8,264.8 394.3,265.0 394.8,265.2 395.2,265.5 395.8,265.9 396.2,266.2 396.5,266.5 397.0,267.0 397.2,267.3 397.7,267.8 398.0,268.1 398.4,268.5 398.8,268.8 399.2,269.0 399.9,269.2 400.5,269.4 401.2,269.5 401.8,269.6 402.5,269.6 403.2,269.7 403.8,269.8 404.5,269.8 405.2,269.8 405.8,269.6 406.2,269.4 406.8,269.1 407.2,268.8 407.5,268.5 407.9,268.0 408.2,267.6 408.6,267.2 409.0,266.8 409.4,266.5 409.8,266.2 410.2,265.8 410.6,265.5 411.0,265.2 411.5,264.9 412.0,264.6 412.4,264.2 412.8,264.0 413.2,263.6 413.7,263.2 414.0,263.0 414.5,262.6 415.0,262.2 415.3,262.0 415.8,261.8 416.3,261.5 417.0,261.2 417.5,261.1 418.0,260.9 418.8,260.8 419.2,260.7 420.0,260.6 420.8,260.5 421.5,260.5 422.2,260.6 423.0,260.7 423.6,260.8 424.2,260.8 425.0,261.0 425.5,261.1 426.0,261.2 426.8,261.5 427.2,261.7 427.8,261.9 428.2,262.1 428.8,262.4 429.2,262.6 429.8,262.8 430.2,263.0 430.8,263.2 431.3,263.5 431.8,263.8 432.2,264.0 432.8,264.4 433.2,264.8 433.5,265.1 433.9,265.5 434.2,265.9 434.5,266.3 434.8,266.8 435.2,267.2 435.5,267.8 435.8,268.2 436.0,268.6 436.3,269.0 436.6,269.5 436.9,270.0 437.2,270.5 437.5,271.0 437.8,271.5 438.0,272.0 438.1,272.5 438.3,273.0 438.4,273.8 438.5,274.5 438.5,275.0 438.6,275.8 438.6,276.5 438.5,277.2 438.5,277.8 438.3,278.5 438.2,279.0 438.0,279.7 437.8,280.2 437.7,280.8 437.5,281.2 437.2,282.0 437.1,282.5 437.0,283.0 436.8,283.8 436.7,284.2 436.5,284.9 436.3,285.5 436.2,286.0 436.0,286.5 435.8,287.2 435.5,287.8 435.3,288.2 435.1,288.8 435.0,289.2 434.8,289.9 434.5,290.5 434.3,291.0 434.0,291.5 433.8,292.0 433.5,292.4 433.2,292.8 432.9,293.2 432.5,293.8 432.2,294.1 431.8,294.5 431.5,294.8 431.0,295.1 430.5,295.4 430.0,295.8 429.7,296.0 429.2,296.3 428.8,296.7 428.4,297.0 428.0,297.3 427.5,297.7 427.0,298.0 426.5,298.2 426.0,298.5 425.5,298.7 425.0,298.9 424.5,299.1 423.8,299.2 423.2,299.4 422.6,299.5Z" fill="none" stroke="#000" stroke-width="0.7"/>
<line x1="13.70" y1="359.40" x2="13.70" y2="320.50" stroke="#111" stroke-width="1.3"/>
<path d="M13.7,314.6 L10.8,321.2 L16.6,321.2 Z" fill="#111"/>
<text transform="translate(16.9,300.8) rotate(-90)" text-anchor="middle" font-size="7" fill="#333" textLength="12.4" lengthAdjust="spacingAndGlyphs" font-weight="bold">CD3</text>
<line x1="43.50" y1="382.60" x2="215.00" y2="382.60" stroke="#111" stroke-width="1.3"/>
<path d="M221.6,382.6 L213.2,379.4 L213.2,385.8 Z" fill="#111"/>
<text x="230" y="385.4" font-size="9.2" fill="#222" font-weight="bold" textLength="29.7" lengthAdjust="spacingAndGlyphs">Live/dead</text>
<polygon points="64.90,511.50 65.75,510.17 66.60,509.01 67.45,507.84 68.30,506.58 69.15,505.45 70.00,503.50 70.88,499.79 71.75,495.99 72.62,490.69 73.50,487.30 75.10,473.50 76.00,459.00 76.90,444.60 77.85,448.12 78.80,450.40 79.90,446.01 81.00,441.20 81.85,430.16 82.70,418.00 83.60,413.46 84.50,410.00 85.70,415.80 87.30,441.20 88.50,448.00 89.40,444.56 90.30,441.20 91.15,440.85 92.00,441.20 93.50,464.20 94.45,467.66 95.40,471.00 96.55,474.60 97.70,478.00 98.60,481.97 99.50,487.30 100.35,491.50 101.20,496.50 102.05,496.49 102.90,497.68 103.75,497.77 104.60,497.70 105.52,497.92 106.44,499.52 107.36,499.29 108.28,500.66 109.20,501.20 110.08,500.95 110.95,501.05 111.83,502.54 112.70,502.30 113.85,502.49 115.00,503.50 115.88,501.93 116.75,501.83 117.62,500.50 118.50,498.80 119.65,499.71 120.80,501.20 121.90,494.90 123.00,487.30 124.00,487.10 125.00,486.80 126.50,496.50 127.30,499.85 128.10,502.29 128.90,505.80 130.05,509.27 131.20,511.50" fill="#a8002a" stroke="#7a0020" stroke-width="0.5"/>
<rect x="42.50" y="400.80" width="111.60" height="110.80" fill="none" stroke="#111" stroke-width="1.5"/>
<text x="99.70" y="414.30" font-size="7.7" fill="#333">DI: 1.18</text>
<line x1="77.10" y1="511.60" x2="77.10" y2="514.10" stroke="#222" stroke-width="1.0"/>
<line x1="99.90" y1="511.60" x2="99.90" y2="514.10" stroke="#222" stroke-width="1.0"/>
<line x1="122.70" y1="511.60" x2="122.70" y2="514.10" stroke="#222" stroke-width="1.0"/>
<line x1="145.10" y1="511.60" x2="145.10" y2="514.10" stroke="#222" stroke-width="1.0"/>
<line x1="83.96" y1="511.60" x2="83.96" y2="513.10" stroke="#555" stroke-width="0.7"/>
<line x1="87.98" y1="511.60" x2="87.98" y2="513.10" stroke="#555" stroke-width="0.7"/>
<line x1="90.83" y1="511.60" x2="90.83" y2="513.10" stroke="#555" stroke-width="0.7"/>
<line x1="93.04" y1="511.60" x2="93.04" y2="513.10" stroke="#555" stroke-width="0.7"/>
<line x1="94.84" y1="511.60" x2="94.84" y2="513.10" stroke="#555" stroke-width="0.7"/>
<line x1="96.37" y1="511.60" x2="96.37" y2="513.10" stroke="#555" stroke-width="0.7"/>
<line x1="97.69" y1="511.60" x2="97.69" y2="513.10" stroke="#555" stroke-width="0.7"/>
<line x1="98.86" y1="511.60" x2="98.86" y2="513.10" stroke="#555" stroke-width="0.7"/>
<line x1="106.76" y1="511.60" x2="106.76" y2="513.10" stroke="#555" stroke-width="0.7"/>
<line x1="110.78" y1="511.60" x2="110.78" y2="513.10" stroke="#555" stroke-width="0.7"/>
<line x1="113.63" y1="511.60" x2="113.63" y2="513.10" stroke="#555" stroke-width="0.7"/>
<line x1="115.84" y1="511.60" x2="115.84" y2="513.10" stroke="#555" stroke-width="0.7"/>
<line x1="117.64" y1="511.60" x2="117.64" y2="513.10" stroke="#555" stroke-width="0.7"/>
<line x1="119.17" y1="511.60" x2="119.17" y2="513.10" stroke="#555" stroke-width="0.7"/>
<line x1="120.49" y1="511.60" x2="120.49" y2="513.10" stroke="#555" stroke-width="0.7"/>
<line x1="121.66" y1="511.60" x2="121.66" y2="513.10" stroke="#555" stroke-width="0.7"/>
<line x1="129.44" y1="511.60" x2="129.44" y2="513.10" stroke="#555" stroke-width="0.7"/>
<line x1="133.39" y1="511.60" x2="133.39" y2="513.10" stroke="#555" stroke-width="0.7"/>
<line x1="136.19" y1="511.60" x2="136.19" y2="513.10" stroke="#555" stroke-width="0.7"/>
<line x1="138.36" y1="511.60" x2="138.36" y2="513.10" stroke="#555" stroke-width="0.7"/>
<line x1="140.13" y1="511.60" x2="140.13" y2="513.10" stroke="#555" stroke-width="0.7"/>
<line x1="141.63" y1="511.60" x2="141.63" y2="513.10" stroke="#555" stroke-width="0.7"/>
<line x1="142.93" y1="511.60" x2="142.93" y2="513.10" stroke="#555" stroke-width="0.7"/>
<line x1="144.08" y1="511.60" x2="144.08" y2="513.10" stroke="#555" stroke-width="0.7"/>
<line x1="58.10" y1="511.60" x2="58.10" y2="514.40" stroke="#111" stroke-width="1.6"/>
<line x1="47.50" y1="511.60" x2="47.50" y2="513.10" stroke="#444" stroke-width="0.8"/>
<line x1="49.00" y1="511.60" x2="49.00" y2="513.10" stroke="#444" stroke-width="0.8"/>
<line x1="50.50" y1="511.60" x2="50.50" y2="513.10" stroke="#444" stroke-width="0.8"/>
<line x1="52.00" y1="511.60" x2="52.00" y2="513.10" stroke="#444" stroke-width="0.8"/>
<line x1="53.50" y1="511.60" x2="53.50" y2="513.10" stroke="#444" stroke-width="0.8"/>
<line x1="55.00" y1="511.60" x2="55.00" y2="513.10" stroke="#444" stroke-width="0.8"/>
<line x1="56.50" y1="511.60" x2="56.50" y2="513.10" stroke="#444" stroke-width="0.8"/>
<line x1="60.00" y1="511.60" x2="60.00" y2="513.10" stroke="#444" stroke-width="0.8"/>
<line x1="62.00" y1="511.60" x2="62.00" y2="513.10" stroke="#444" stroke-width="0.8"/>
<line x1="64.00" y1="511.60" x2="64.00" y2="513.10" stroke="#444" stroke-width="0.8"/>
<line x1="66.00" y1="511.60" x2="66.00" y2="513.10" stroke="#444" stroke-width="0.8"/>
<line x1="68.00" y1="511.60" x2="68.00" y2="513.10" stroke="#444" stroke-width="0.8"/>
<line x1="70.50" y1="511.60" x2="70.50" y2="513.10" stroke="#444" stroke-width="0.8"/>
<line x1="73.50" y1="511.60" x2="73.50" y2="513.10" stroke="#444" stroke-width="0.8"/>
<text x="55.60" y="527.70" font-size="8" fill="#333">0</text>
<text x="70.40" y="527.70" font-size="8.2" fill="#333" textLength="9.2" lengthAdjust="spacingAndGlyphs">10</text>
<text x="80.40" y="524.40" font-size="5.6" fill="#333">2</text>
<text x="93.50" y="527.70" font-size="8.2" fill="#333" textLength="9.2" lengthAdjust="spacingAndGlyphs">10</text>
<text x="104.00" y="524.40" font-size="5.6" fill="#333">3</text>
<text x="116.10" y="527.70" font-size="8.2" fill="#333" textLength="9.2" lengthAdjust="spacingAndGlyphs">10</text>
<text x="125.70" y="524.40" font-size="5.6" fill="#333">4</text>
<text x="138.20" y="527.70" font-size="8.2" fill="#333" textLength="9.2" lengthAdjust="spacingAndGlyphs">10</text>
<text x="147.50" y="524.40" font-size="5.6" fill="#333">5</text>
<polygon points="224.20,511.50 225.07,510.62 225.95,509.92 226.82,509.21 227.70,508.00 228.57,508.14 229.45,508.07 230.32,507.51 231.20,506.90 232.10,506.59 233.00,504.44 233.90,504.20 234.90,504.52 235.90,505.55 236.90,505.30 237.78,505.91 238.65,506.66 239.53,505.96 240.40,506.90 241.25,507.13 242.10,507.10 242.95,507.79 243.80,508.00 244.83,507.50 245.87,506.12 246.90,506.20 247.88,505.88 248.85,506.04 249.83,507.01 250.80,506.50 251.65,506.57 252.50,505.42 253.35,506.02 254.20,505.30 255.12,504.65 256.04,505.18 256.96,504.36 257.88,504.04 258.80,504.60 259.68,504.72 260.55,503.39 261.43,503.00 262.30,503.00 263.45,501.03 264.60,497.70 265.80,496.00 266.90,498.90 267.70,498.22 268.50,496.50 269.45,483.56 270.40,471.20 271.30,459.15 272.20,445.80 273.05,431.95 273.90,418.00 274.80,411.95 275.70,405.40 276.90,422.70 277.70,443.04 278.50,464.20 279.60,487.30 280.55,496.02 281.50,503.50 282.40,506.43 283.30,509.49 284.20,511.50" fill="#a8002a" stroke="#7a0020" stroke-width="0.5"/>
<rect x="191.70" y="400.70" width="111.30" height="111.00" fill="none" stroke="#111" stroke-width="1.5"/>
<text x="225.80" y="414.20" font-size="7.7" fill="#333">DI: 0.13</text>
<line x1="226.30" y1="511.70" x2="226.30" y2="514.20" stroke="#222" stroke-width="1.0"/>
<line x1="249.10" y1="511.70" x2="249.10" y2="514.20" stroke="#222" stroke-width="1.0"/>
<line x1="271.90" y1="511.70" x2="271.90" y2="514.20" stroke="#222" stroke-width="1.0"/>
<line x1="294.30" y1="511.70" x2="294.30" y2="514.20" stroke="#222" stroke-width="1.0"/>
<line x1="233.16" y1="511.70" x2="233.16" y2="513.20" stroke="#555" stroke-width="0.7"/>
<line x1="237.18" y1="511.70" x2="237.18" y2="513.20" stroke="#555" stroke-width="0.7"/>
<line x1="240.03" y1="511.70" x2="240.03" y2="513.20" stroke="#555" stroke-width="0.7"/>
<line x1="242.24" y1="511.70" x2="242.24" y2="513.20" stroke="#555" stroke-width="0.7"/>
<line x1="244.04" y1="511.70" x2="244.04" y2="513.20" stroke="#555" stroke-width="0.7"/>
<line x1="245.57" y1="511.70" x2="245.57" y2="513.20" stroke="#555" stroke-width="0.7"/>
<line x1="246.89" y1="511.70" x2="246.89" y2="513.20" stroke="#555" stroke-width="0.7"/>
<line x1="248.06" y1="511.70" x2="248.06" y2="513.20" stroke="#555" stroke-width="0.7"/>
<line x1="255.96" y1="511.70" x2="255.96" y2="513.20" stroke="#555" stroke-width="0.7"/>
<line x1="259.98" y1="511.70" x2="259.98" y2="513.20" stroke="#555" stroke-width="0.7"/>
<line x1="262.83" y1="511.70" x2="262.83" y2="513.20" stroke="#555" stroke-width="0.7"/>
<line x1="265.04" y1="511.70" x2="265.04" y2="513.20" stroke="#555" stroke-width="0.7"/>
<line x1="266.84" y1="511.70" x2="266.84" y2="513.20" stroke="#555" stroke-width="0.7"/>
<line x1="268.37" y1="511.70" x2="268.37" y2="513.20" stroke="#555" stroke-width="0.7"/>
<line x1="269.69" y1="511.70" x2="269.69" y2="513.20" stroke="#555" stroke-width="0.7"/>
<line x1="270.86" y1="511.70" x2="270.86" y2="513.20" stroke="#555" stroke-width="0.7"/>
<line x1="278.64" y1="511.70" x2="278.64" y2="513.20" stroke="#555" stroke-width="0.7"/>
<line x1="282.59" y1="511.70" x2="282.59" y2="513.20" stroke="#555" stroke-width="0.7"/>
<line x1="285.39" y1="511.70" x2="285.39" y2="513.20" stroke="#555" stroke-width="0.7"/>
<line x1="287.56" y1="511.70" x2="287.56" y2="513.20" stroke="#555" stroke-width="0.7"/>
<line x1="289.33" y1="511.70" x2="289.33" y2="513.20" stroke="#555" stroke-width="0.7"/>
<line x1="290.83" y1="511.70" x2="290.83" y2="513.20" stroke="#555" stroke-width="0.7"/>
<line x1="292.13" y1="511.70" x2="292.13" y2="513.20" stroke="#555" stroke-width="0.7"/>
<line x1="293.28" y1="511.70" x2="293.28" y2="513.20" stroke="#555" stroke-width="0.7"/>
<line x1="207.30" y1="511.70" x2="207.30" y2="514.50" stroke="#111" stroke-width="1.6"/>
<line x1="196.70" y1="511.70" x2="196.70" y2="513.20" stroke="#444" stroke-width="0.8"/>
<line x1="198.20" y1="511.70" x2="198.20" y2="513.20" stroke="#444" stroke-width="0.8"/>
<line x1="199.70" y1="511.70" x2="199.70" y2="513.20" stroke="#444" stroke-width="0.8"/>
<line x1="201.20" y1="511.70" x2="201.20" y2="513.20" stroke="#444" stroke-width="0.8"/>
<line x1="202.70" y1="511.70" x2="202.70" y2="513.20" stroke="#444" stroke-width="0.8"/>
<line x1="204.20" y1="511.70" x2="204.20" y2="513.20" stroke="#444" stroke-width="0.8"/>
<line x1="205.70" y1="511.70" x2="205.70" y2="513.20" stroke="#444" stroke-width="0.8"/>
<line x1="209.20" y1="511.70" x2="209.20" y2="513.20" stroke="#444" stroke-width="0.8"/>
<line x1="211.20" y1="511.70" x2="211.20" y2="513.20" stroke="#444" stroke-width="0.8"/>
<line x1="213.20" y1="511.70" x2="213.20" y2="513.20" stroke="#444" stroke-width="0.8"/>
<line x1="215.20" y1="511.70" x2="215.20" y2="513.20" stroke="#444" stroke-width="0.8"/>
<line x1="217.20" y1="511.70" x2="217.20" y2="513.20" stroke="#444" stroke-width="0.8"/>
<line x1="219.70" y1="511.70" x2="219.70" y2="513.20" stroke="#444" stroke-width="0.8"/>
<line x1="222.70" y1="511.70" x2="222.70" y2="513.20" stroke="#444" stroke-width="0.8"/>
<text x="204.80" y="527.80" font-size="8" fill="#333">0</text>
<text x="219.60" y="527.80" font-size="8.2" fill="#333" textLength="9.2" lengthAdjust="spacingAndGlyphs">10</text>
<text x="229.60" y="524.50" font-size="5.6" fill="#333">2</text>
<text x="242.70" y="527.80" font-size="8.2" fill="#333" textLength="9.2" lengthAdjust="spacingAndGlyphs">10</text>
<text x="253.20" y="524.50" font-size="5.6" fill="#333">3</text>
<text x="265.30" y="527.80" font-size="8.2" fill="#333" textLength="9.2" lengthAdjust="spacingAndGlyphs">10</text>
<text x="274.90" y="524.50" font-size="5.6" fill="#333">4</text>
<text x="287.40" y="527.80" font-size="8.2" fill="#333" textLength="9.2" lengthAdjust="spacingAndGlyphs">10</text>
<text x="296.70" y="524.50" font-size="5.6" fill="#333">5</text>
<polygon points="381.20,511.50 382.35,507.67 383.50,503.50 384.40,499.19 385.30,494.20 386.45,494.06 387.60,493.10 388.75,490.82 389.90,487.30 390.70,489.94 391.50,491.90 392.65,497.14 393.80,501.20 395.00,495.89 396.20,491.90 397.35,489.00 398.50,486.20 399.65,490.82 400.80,494.20 402.40,496.50 403.30,495.36 404.20,493.80 405.35,496.31 406.50,497.70 407.65,494.26 408.80,491.90 410.00,493.01 411.20,494.20 412.35,497.35 413.50,501.20 414.65,493.76 415.80,486.20 416.95,483.40 418.10,480.40 419.00,475.12 419.90,471.20 420.70,455.80 421.50,441.20 422.70,418.00 424.10,406.50 425.70,429.60 426.50,450.09 427.30,471.20 428.25,484.43 429.20,496.50 430.35,504.37 431.50,511.50" fill="#a8002a" stroke="#7a0020" stroke-width="0.5"/>
<rect x="341.00" y="400.60" width="111.20" height="111.10" fill="none" stroke="#111" stroke-width="1.5"/>
<text x="363.20" y="415.00" font-size="7.7" fill="#333">DI: 0.3</text>
<line x1="375.60" y1="511.70" x2="375.60" y2="514.20" stroke="#222" stroke-width="1.0"/>
<line x1="398.40" y1="511.70" x2="398.40" y2="514.20" stroke="#222" stroke-width="1.0"/>
<line x1="421.20" y1="511.70" x2="421.20" y2="514.20" stroke="#222" stroke-width="1.0"/>
<line x1="443.60" y1="511.70" x2="443.60" y2="514.20" stroke="#222" stroke-width="1.0"/>
<line x1="382.46" y1="511.70" x2="382.46" y2="513.20" stroke="#555" stroke-width="0.7"/>
<line x1="386.48" y1="511.70" x2="386.48" y2="513.20" stroke="#555" stroke-width="0.7"/>
<line x1="389.33" y1="511.70" x2="389.33" y2="513.20" stroke="#555" stroke-width="0.7"/>
<line x1="391.54" y1="511.70" x2="391.54" y2="513.20" stroke="#555" stroke-width="0.7"/>
<line x1="393.34" y1="511.70" x2="393.34" y2="513.20" stroke="#555" stroke-width="0.7"/>
<line x1="394.87" y1="511.70" x2="394.87" y2="513.20" stroke="#555" stroke-width="0.7"/>
<line x1="396.19" y1="511.70" x2="396.19" y2="513.20" stroke="#555" stroke-width="0.7"/>
<line x1="397.36" y1="511.70" x2="397.36" y2="513.20" stroke="#555" stroke-width="0.7"/>
<line x1="405.26" y1="511.70" x2="405.26" y2="513.20" stroke="#555" stroke-width="0.7"/>
<line x1="409.28" y1="511.70" x2="409.28" y2="513.20" stroke="#555" stroke-width="0.7"/>
<line x1="412.13" y1="511.70" x2="412.13" y2="513.20" stroke="#555" stroke-width="0.7"/>
<line x1="414.34" y1="511.70" x2="414.34" y2="513.20" stroke="#555" stroke-width="0.7"/>
<line x1="416.14" y1="511.70" x2="416.14" y2="513.20" stroke="#555" stroke-width="0.7"/>
<line x1="417.67" y1="511.70" x2="417.67" y2="513.20" stroke="#555" stroke-width="0.7"/>
<line x1="418.99" y1="511.70" x2="418.99" y2="513.20" stroke="#555" stroke-width="0.7"/>
<line x1="420.16" y1="511.70" x2="420.16" y2="513.20" stroke="#555" stroke-width="0.7"/>
<line x1="427.94" y1="511.70" x2="427.94" y2="513.20" stroke="#555" stroke-width="0.7"/>
<line x1="431.89" y1="511.70" x2="431.89" y2="513.20" stroke="#555" stroke-width="0.7"/>
<line x1="434.69" y1="511.70" x2="434.69" y2="513.20" stroke="#555" stroke-width="0.7"/>
<line x1="436.86" y1="511.70" x2="436.86" y2="513.20" stroke="#555" stroke-width="0.7"/>
<line x1="438.63" y1="511.70" x2="438.63" y2="513.20" stroke="#555" stroke-width="0.7"/>
<line x1="440.13" y1="511.70" x2="440.13" y2="513.20" stroke="#555" stroke-width="0.7"/>
<line x1="441.43" y1="511.70" x2="441.43" y2="513.20" stroke="#555" stroke-width="0.7"/>
<line x1="442.58" y1="511.70" x2="442.58" y2="513.20" stroke="#555" stroke-width="0.7"/>
<line x1="356.60" y1="511.70" x2="356.60" y2="514.50" stroke="#111" stroke-width="1.6"/>
<line x1="346.00" y1="511.70" x2="346.00" y2="513.20" stroke="#444" stroke-width="0.8"/>
<line x1="347.50" y1="511.70" x2="347.50" y2="513.20" stroke="#444" stroke-width="0.8"/>
<line x1="349.00" y1="511.70" x2="349.00" y2="513.20" stroke="#444" stroke-width="0.8"/>
<line x1="350.50" y1="511.70" x2="350.50" y2="513.20" stroke="#444" stroke-width="0.8"/>
<line x1="352.00" y1="511.70" x2="352.00" y2="513.20" stroke="#444" stroke-width="0.8"/>
<line x1="353.50" y1="511.70" x2="353.50" y2="513.20" stroke="#444" stroke-width="0.8"/>
<line x1="355.00" y1="511.70" x2="355.00" y2="513.20" stroke="#444" stroke-width="0.8"/>
<line x1="358.50" y1="511.70" x2="358.50" y2="513.20" stroke="#444" stroke-width="0.8"/>
<line x1="360.50" y1="511.70" x2="360.50" y2="513.20" stroke="#444" stroke-width="0.8"/>
<line x1="362.50" y1="511.70" x2="362.50" y2="513.20" stroke="#444" stroke-width="0.8"/>
<line x1="364.50" y1="511.70" x2="364.50" y2="513.20" stroke="#444" stroke-width="0.8"/>
<line x1="366.50" y1="511.70" x2="366.50" y2="513.20" stroke="#444" stroke-width="0.8"/>
<line x1="369.00" y1="511.70" x2="369.00" y2="513.20" stroke="#444" stroke-width="0.8"/>
<line x1="372.00" y1="511.70" x2="372.00" y2="513.20" stroke="#444" stroke-width="0.8"/>
<text x="354.10" y="527.80" font-size="8" fill="#333">0</text>
<text x="368.90" y="527.80" font-size="8.2" fill="#333" textLength="9.2" lengthAdjust="spacingAndGlyphs">10</text>
<text x="378.90" y="524.50" font-size="5.6" fill="#333">2</text>
<text x="392.00" y="527.80" font-size="8.2" fill="#333" textLength="9.2" lengthAdjust="spacingAndGlyphs">10</text>
<text x="402.50" y="524.50" font-size="5.6" fill="#333">3</text>
<text x="414.60" y="527.80" font-size="8.2" fill="#333" textLength="9.2" lengthAdjust="spacingAndGlyphs">10</text>
<text x="424.20" y="524.50" font-size="5.6" fill="#333">4</text>
<text x="436.70" y="527.80" font-size="8.2" fill="#333" textLength="9.2" lengthAdjust="spacingAndGlyphs">10</text>
<text x="446.00" y="524.50" font-size="5.6" fill="#333">5</text>
<line x1="43.30" y1="536.80" x2="215.00" y2="536.80" stroke="#111" stroke-width="1.3"/>
<path d="M221.6,536.8 L213.2,533.6 L213.2,540 Z" fill="#111"/>
<text x="233.4" y="540.4" font-size="9.2" fill="#222" font-weight="bold" textLength="27.6" lengthAdjust="spacingAndGlyphs">CellTrace</text>
</svg></body></html>
